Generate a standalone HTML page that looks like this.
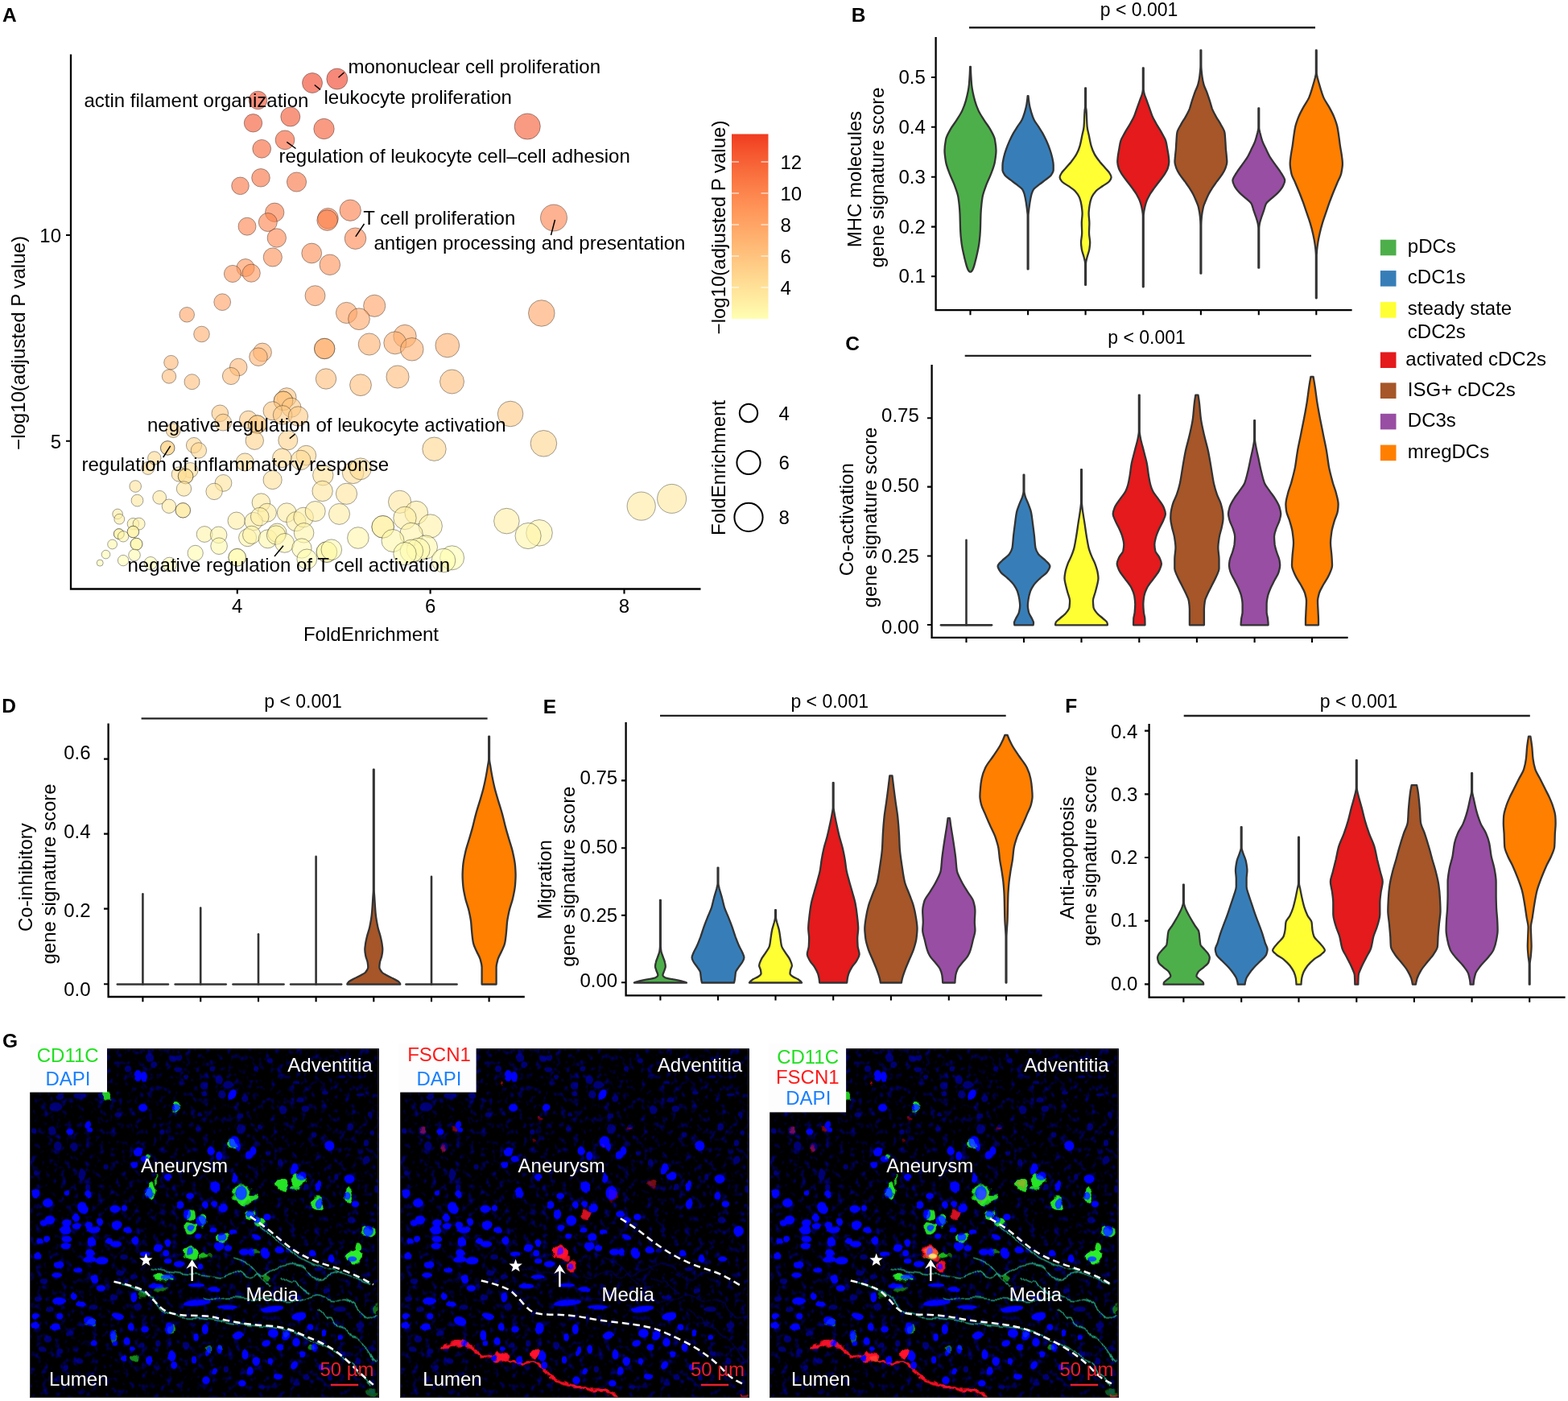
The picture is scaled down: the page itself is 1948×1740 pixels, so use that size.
<!DOCTYPE html>
<html lang="en"><head><meta charset="utf-8"><title>Figure</title>
<style>html,body{margin:0;padding:0;background:#fff}body{width:1948px;height:1740px;overflow:hidden}svg{display:block;font-family:"Liberation Sans",Arial,Helvetica,sans-serif;font-size:24px;fill:#000}</style></head><body>
<svg width="1948" height="1740" viewBox="0 0 1948 1740">
<rect width="1948" height="1740" fill="#fff"/>
<g id="panelA">
<g stroke="#1a1a1a" stroke-opacity="0.62" stroke-width="0.65" fill-opacity="0.6">
<circle cx="418.8" cy="98" r="13" fill="#f03b20"/>
<circle cx="388" cy="103" r="12.5" fill="#f03e21"/>
<circle cx="320.5" cy="124.5" r="11.3" fill="#f24826"/>
<circle cx="360.8" cy="145" r="12" fill="#f4512b"/>
<circle cx="314.5" cy="152.8" r="11.2" fill="#f4542d"/>
<circle cx="402.5" cy="160" r="12.7" fill="#f5572e"/>
<circle cx="354" cy="173.8" r="11.9" fill="#f65c31"/>
<circle cx="325.2" cy="184.8" r="11.4" fill="#f76034"/>
<circle cx="324" cy="220.8" r="11.3" fill="#f96d3c"/>
<circle cx="298.5" cy="230.8" r="10.8" fill="#fa713f"/>
<circle cx="368.5" cy="226" r="12.1" fill="#f96f3d"/>
<circle cx="341.2" cy="263.8" r="11.7" fill="#fc7c46"/>
<circle cx="332.8" cy="276" r="11.5" fill="#fc8049"/>
<circle cx="307" cy="281.2" r="11" fill="#fd814a"/>
<circle cx="407.5" cy="271.3" r="12.8" fill="#fc7e48"/>
<circle cx="406.6" cy="273.6" r="12.8" fill="#fc7f48"/>
<circle cx="435.2" cy="261.2" r="13.2" fill="#fc7b46"/>
<circle cx="441.5" cy="296.2" r="13.3" fill="#fd864e"/>
<circle cx="343.8" cy="295.5" r="11.7" fill="#fd864e"/>
<circle cx="387.2" cy="314.5" r="12.4" fill="#fe8c52"/>
<circle cx="338.8" cy="319.5" r="11.6" fill="#fe8e53"/>
<circle cx="409.8" cy="328.8" r="12.8" fill="#ff9055"/>
<circle cx="305" cy="332.5" r="11" fill="#ff9256"/>
<circle cx="312.2" cy="339.2" r="11.1" fill="#ff9458"/>
<circle cx="289" cy="340" r="10.6" fill="#ff9458"/>
<circle cx="391.5" cy="367.2" r="12.5" fill="#ff9c5f"/>
<circle cx="276.2" cy="375.2" r="10.4" fill="#ff9f60"/>
<circle cx="465.2" cy="379.8" r="13.6" fill="#ffa062"/>
<circle cx="430.5" cy="388.5" r="13.1" fill="#ffa364"/>
<circle cx="446" cy="396.2" r="13.4" fill="#ffa566"/>
<circle cx="232.2" cy="390.8" r="9.3" fill="#ffa464"/>
<circle cx="250.5" cy="415" r="9.8" fill="#ffab6a"/>
<circle cx="503" cy="417.5" r="14.2" fill="#ffac6b"/>
<circle cx="458.8" cy="427.5" r="13.6" fill="#ffaf6d"/>
<circle cx="490.8" cy="425.8" r="14" fill="#ffae6d"/>
<circle cx="511.8" cy="433.8" r="14.3" fill="#ffb16f"/>
<circle cx="555.8" cy="429" r="14.9" fill="#ffaf6d"/>
<circle cx="403.2" cy="433" r="12.7" fill="#ffb06e"/>
<circle cx="403.2" cy="433" r="12.7" fill="#ffb06e"/>
<circle cx="326" cy="437.5" r="11.4" fill="#ffb270"/>
<circle cx="321" cy="443.2" r="11.3" fill="#ffb371"/>
<circle cx="212.5" cy="450.2" r="8.8" fill="#ffb573"/>
<circle cx="296.2" cy="456" r="10.8" fill="#ffb774"/>
<circle cx="287" cy="467" r="10.6" fill="#ffba77"/>
<circle cx="210" cy="467.5" r="8.7" fill="#ffbb77"/>
<circle cx="238.5" cy="474.2" r="9.5" fill="#ffbd79"/>
<circle cx="405" cy="470.5" r="12.7" fill="#ffbc78"/>
<circle cx="448" cy="478.2" r="13.4" fill="#ffbe79"/>
<circle cx="494" cy="468" r="14.1" fill="#ffbb77"/>
<circle cx="561.5" cy="474" r="15" fill="#ffbd78"/>
<circle cx="655.2" cy="157" r="16.1" fill="#f5562e"/>
<circle cx="688" cy="270.5" r="16.5" fill="#fc7e48"/>
<circle cx="672.8" cy="389" r="16.3" fill="#ffa364"/>
<circle cx="356.2" cy="493.6" r="11.9" fill="#ffc27d"/>
<circle cx="352" cy="497.8" r="11.8" fill="#ffc47e"/>
<circle cx="352" cy="497.8" r="11.8" fill="#ffc47e"/>
<circle cx="362" cy="506.2" r="12" fill="#ffc680"/>
<circle cx="338.6" cy="510.3" r="11.6" fill="#ffc781"/>
<circle cx="351.1" cy="515.4" r="11.8" fill="#ffc983"/>
<circle cx="370.4" cy="517" r="12.2" fill="#ffc983"/>
<circle cx="273.3" cy="513.3" r="10.3" fill="#ffc882"/>
<circle cx="277.2" cy="524.6" r="10.4" fill="#ffcb85"/>
<circle cx="308.5" cy="521.2" r="11" fill="#ffca84"/>
<circle cx="319.7" cy="527.1" r="11.3" fill="#ffcc86"/>
<circle cx="319.7" cy="527.1" r="11.3" fill="#ffcc86"/>
<circle cx="215.2" cy="534.6" r="8.9" fill="#ffce87"/>
<circle cx="316.3" cy="547.2" r="11.2" fill="#ffd28b"/>
<circle cx="357.8" cy="546.8" r="12" fill="#ffd28b"/>
<circle cx="208.2" cy="556.4" r="8.7" fill="#ffd58d"/>
<circle cx="208.2" cy="556.4" r="8.7" fill="#ffd58d"/>
<circle cx="241" cy="553" r="9.6" fill="#ffd48c"/>
<circle cx="246.9" cy="559.4" r="9.7" fill="#ffd68e"/>
<circle cx="191.8" cy="568.9" r="8.2" fill="#ffd890"/>
<circle cx="304.3" cy="573.9" r="11" fill="#ffda91"/>
<circle cx="350.3" cy="568.9" r="11.8" fill="#ffd890"/>
<circle cx="380.4" cy="565.6" r="12.3" fill="#ffd88f"/>
<circle cx="373.7" cy="571.4" r="12.2" fill="#ffd991"/>
<circle cx="183.8" cy="581.5" r="7.9" fill="#ffdc93"/>
<circle cx="236.5" cy="584" r="9.5" fill="#ffdd94"/>
<circle cx="222.3" cy="589" r="9.1" fill="#ffde95"/>
<circle cx="230.6" cy="591.5" r="9.3" fill="#ffdf96"/>
<circle cx="230.6" cy="591.5" r="9.3" fill="#ffdf96"/>
<circle cx="338.6" cy="596" r="11.6" fill="#ffe097"/>
<circle cx="168.2" cy="604" r="7.3" fill="#ffe399"/>
<circle cx="228.5" cy="607" r="9.2" fill="#ffe49a"/>
<circle cx="277.5" cy="599.9" r="10.4" fill="#ffe298"/>
<circle cx="266.1" cy="610.4" r="10.2" fill="#ffe59b"/>
<circle cx="170.5" cy="621.6" r="7.4" fill="#ffe89d"/>
<circle cx="198.2" cy="617.8" r="8.4" fill="#ffe79c"/>
<circle cx="209.9" cy="628.7" r="8.7" fill="#ffea9f"/>
<circle cx="227.3" cy="633.8" r="9.2" fill="#ffeba1"/>
<circle cx="227.3" cy="633.8" r="9.2" fill="#ffeba1"/>
<circle cx="324.4" cy="624.1" r="11.3" fill="#ffe99e"/>
<circle cx="331.9" cy="636.7" r="11.5" fill="#ffeca1"/>
<circle cx="356.2" cy="636.7" r="11.9" fill="#ffeca1"/>
<circle cx="146.1" cy="638.4" r="6.3" fill="#ffeda2"/>
<circle cx="148.3" cy="644.7" r="6.4" fill="#ffefa3"/>
<circle cx="165.4" cy="650.6" r="7.2" fill="#fff0a5"/>
<circle cx="172.6" cy="650.6" r="7.5" fill="#fff0a5"/>
<circle cx="293.7" cy="646.7" r="10.7" fill="#ffefa4"/>
<circle cx="315.1" cy="647.6" r="11.2" fill="#ffefa4"/>
<circle cx="322.7" cy="641.7" r="11.3" fill="#ffeea3"/>
<circle cx="367.9" cy="647.6" r="12.1" fill="#ffefa4"/>
<circle cx="377.1" cy="642.5" r="12.3" fill="#ffeea3"/>
<circle cx="165.4" cy="660.5" r="7.2" fill="#fff3a7"/>
<circle cx="165.4" cy="660.5" r="7.2" fill="#fff3a7"/>
<circle cx="147.8" cy="663.1" r="6.4" fill="#fff4a8"/>
<circle cx="147.8" cy="663.1" r="6.4" fill="#fff4a8"/>
<circle cx="153.1" cy="666.3" r="6.7" fill="#fff5a9"/>
<circle cx="254.1" cy="663.5" r="9.9" fill="#fff4a8"/>
<circle cx="271.6" cy="664.3" r="10.3" fill="#fff4a8"/>
<circle cx="307.6" cy="667.7" r="11" fill="#fff5a9"/>
<circle cx="312.6" cy="664.3" r="11.1" fill="#fff4a8"/>
<circle cx="332.7" cy="669.3" r="11.5" fill="#fff6aa"/>
<circle cx="344.4" cy="661.8" r="11.7" fill="#fff4a8"/>
<circle cx="343" cy="664.5" r="11.7" fill="#fff4a8"/>
<circle cx="377.6" cy="661.8" r="12.3" fill="#fff4a8"/>
<circle cx="353.6" cy="674.4" r="11.9" fill="#fff7ab"/>
<circle cx="139.6" cy="676" r="5.9" fill="#fff8ab"/>
<circle cx="169.5" cy="675.7" r="7.4" fill="#fff8ab"/>
<circle cx="169.5" cy="675.7" r="7.4" fill="#fff8ab"/>
<circle cx="272.1" cy="678.2" r="10.3" fill="#fff8ac"/>
<circle cx="374.9" cy="681" r="12.2" fill="#fff9ad"/>
<circle cx="131.5" cy="688.6" r="5.3" fill="#fffbaf"/>
<circle cx="167" cy="689.4" r="7.3" fill="#fffcaf"/>
<circle cx="242.7" cy="686.9" r="9.6" fill="#fffbae"/>
<circle cx="294.7" cy="692.3" r="10.8" fill="#fffcb0"/>
<circle cx="294.7" cy="692.3" r="10.8" fill="#fffcb0"/>
<circle cx="381.3" cy="694.4" r="12.4" fill="#fffdb0"/>
<circle cx="124.2" cy="699.1" r="4" fill="#fffeb1"/>
<circle cx="153.1" cy="696.1" r="6.7" fill="#fffeb1"/>
<circle cx="187.1" cy="699.5" r="8" fill="#fffeb2"/>
<circle cx="210.5" cy="701" r="8.8" fill="#ffffb2"/>
<circle cx="634.1" cy="514" r="15.8" fill="#ffc882"/>
<circle cx="675.4" cy="550.8" r="16.3" fill="#ffd38c"/>
<circle cx="539.5" cy="557.7" r="14.7" fill="#ffd58d"/>
<circle cx="401.3" cy="590.2" r="12.7" fill="#ffdf95"/>
<circle cx="438.6" cy="587.3" r="13.3" fill="#ffde95"/>
<circle cx="447.8" cy="582.3" r="13.4" fill="#ffdc93"/>
<circle cx="400.6" cy="609.9" r="12.7" fill="#ffe49a"/>
<circle cx="430.5" cy="613.3" r="13.1" fill="#ffe59b"/>
<circle cx="496.6" cy="623.3" r="14.1" fill="#ffe89e"/>
<circle cx="391.7" cy="635" r="12.5" fill="#ffeca1"/>
<circle cx="421.5" cy="638.4" r="13" fill="#ffeda2"/>
<circle cx="517.2" cy="636.7" r="14.4" fill="#ffeca1"/>
<circle cx="503" cy="643.4" r="14.2" fill="#ffeea3"/>
<circle cx="629.4" cy="647.1" r="15.8" fill="#ffefa4"/>
<circle cx="475.7" cy="654.3" r="13.8" fill="#fff1a6"/>
<circle cx="475.7" cy="654.3" r="13.8" fill="#fff1a6"/>
<circle cx="534.8" cy="653.4" r="14.6" fill="#fff1a6"/>
<circle cx="670" cy="661.8" r="16.3" fill="#fff4a8"/>
<circle cx="656.1" cy="665.5" r="16.1" fill="#fff5a9"/>
<circle cx="511" cy="663.5" r="14.3" fill="#fff4a8"/>
<circle cx="444.9" cy="668" r="13.3" fill="#fff5a9"/>
<circle cx="488" cy="671.5" r="14" fill="#fff6aa"/>
<circle cx="529" cy="679.4" r="14.5" fill="#fff9ac"/>
<circle cx="519.7" cy="682.7" r="14.4" fill="#fffaad"/>
<circle cx="511.4" cy="684.4" r="14.3" fill="#fffaae"/>
<circle cx="503" cy="687.7" r="14.2" fill="#fffbae"/>
<circle cx="405.9" cy="685.6" r="12.8" fill="#fffaae"/>
<circle cx="405.9" cy="685.6" r="12.8" fill="#fffaae"/>
<circle cx="411.8" cy="682.7" r="12.8" fill="#fffaad"/>
<circle cx="561.6" cy="692.8" r="15" fill="#fffdb0"/>
<circle cx="551" cy="696.1" r="14.8" fill="#fffeb1"/>
<circle cx="796.7" cy="628.6" r="17.6" fill="#ffea9f"/>
<circle cx="834.6" cy="619.4" r="18" fill="#ffe79d"/>
</g>
<path d="M88 67.5V731.5H870.5" fill="none" stroke="#000" stroke-width="2.3"/>
<path d="M82 292H88M82 547.8H88M294.8 731V737.5M534.6 731V737.5M775.5 731V737.5" stroke="#000" stroke-width="2.1" fill="none"/>
<g stroke="#000" stroke-width="1.5">
<line x1="420.5" y1="96.3" x2="427.5" y2="90"/>
<line x1="390.8" y1="105.5" x2="398" y2="111.3"/>
<line x1="356.3" y1="176.3" x2="367.5" y2="184.5"/>
<line x1="441.8" y1="293.8" x2="452.5" y2="278"/>
<line x1="689.5" y1="273" x2="684.5" y2="292"/>
<line x1="359.8" y1="544.6" x2="366.5" y2="539.1"/>
<line x1="202.7" y1="568" x2="211.7" y2="553.8"/>
<line x1="352" y1="677.7" x2="341" y2="691"/>
</g>
<text x="432.5" y="91.2">mononuclear cell proliferation</text>
<text x="402.5" y="128.8">leukocyte proliferation</text>
<text x="104.5" y="132.6">actin filament organization</text>
<text x="346.5" y="201.8">regulation of leukocyte cell–cell adhesion</text>
<text x="451.3" y="279.3">T cell proliferation</text>
<text x="464.5" y="309.5">antigen processing and presentation</text>
<text x="183" y="535.5">negative regulation of leukocyte activation</text>
<text x="101.5" y="585">regulation of inflammatory response</text>
<text x="158.5" y="709.5">negative regulation of T cell activation</text>
<text x="76" y="300.5" text-anchor="end">10</text>
<text x="76" y="556.5" text-anchor="end">5</text>
<text x="294.8" y="761.3" text-anchor="middle">4</text>
<text x="534.6" y="761.3" text-anchor="middle">6</text>
<text x="775.5" y="761.3" text-anchor="middle">8</text>
<text x="461" y="796.4" text-anchor="middle">FoldEnrichment</text>
<text transform="translate(31 426) rotate(-90)" text-anchor="middle">−log10(adjusted P value)</text>
<defs><linearGradient id="cb" x1="0" y1="1" x2="0" y2="0">
<stop offset="0.0" stop-color="#ffffb2"/>
<stop offset="0.1" stop-color="#ffeda2"/>
<stop offset="0.2" stop-color="#ffdc93"/>
<stop offset="0.3" stop-color="#ffca84"/>
<stop offset="0.4" stop-color="#ffb875"/>
<stop offset="0.5" stop-color="#ffa666"/>
<stop offset="0.6" stop-color="#ff9458"/>
<stop offset="0.7" stop-color="#fc814a"/>
<stop offset="0.8" stop-color="#f96c3c"/>
<stop offset="0.9" stop-color="#f5562e"/>
<stop offset="1.0" stop-color="#f03b20"/>
</linearGradient></defs>
<rect x="909" y="166.5" width="45.5" height="229.5" fill="url(#cb)"/>
<path d="M909 201h9M945.5 201h9M909 240h9M945.5 240h9M909 279h9M945.5 279h9M909 318h9M945.5 318h9M909 357h9M945.5 357h9" stroke="#fff" stroke-width="1.1"/>
<text x="969.5" y="209.6">12</text>
<text x="969.5" y="248.6">10</text>
<text x="969.5" y="287.6">8</text>
<text x="969.5" y="326.6">6</text>
<text x="969.5" y="365.6">4</text>
<text transform="translate(901.4 282.5) rotate(-90)" text-anchor="middle">−log10(adjusted P value)</text>
<circle cx="930" cy="513" r="11.2" fill="#fff" stroke="#000" stroke-width="2"/>
<text x="967.5" y="521.6">4</text>
<circle cx="930" cy="574.5" r="14.6" fill="#fff" stroke="#000" stroke-width="2"/>
<text x="967.5" y="583.1">6</text>
<circle cx="930" cy="642.4" r="17.6" fill="#fff" stroke="#000" stroke-width="2"/>
<text x="967.5" y="651.0">8</text>
<text transform="translate(900.8 581) rotate(-90)" text-anchor="middle">FoldEnrichment</text>
<text x="3" y="27" font-weight="bold" font-size="24.5">A</text>
</g>
<g id="panelB">
<g stroke="#333" stroke-width="2.3" stroke-linejoin="round" stroke-linecap="round">
<path d="M1205.9 83C1205.9 90.4 1206.5 97.7 1207.1 105.1C1207.7 111.7 1209.3 118.4 1211.1 125.1C1212.2 129.1 1213.7 133.1 1215.5 137.1C1217.3 141.1 1220 145.1 1222.5 149.1C1225 153.1 1228.4 157.1 1230.5 161.1C1232.7 165.1 1235.2 169.1 1235.9 173.1C1236.8 177.8 1237.5 182.5 1237.5 187.1C1237.5 191.8 1236.7 196.5 1235.9 201.2C1235.1 205.8 1233.2 210.5 1231.5 215.2C1229.8 219.8 1227.2 224.5 1225.5 229.2C1223.6 234.5 1221.3 239.9 1220.5 245.2C1219.5 251.9 1218.8 258.6 1218.5 265.2C1218.2 271.9 1218.2 278.6 1217.9 285.2C1217.7 290.6 1217.2 295.9 1216.5 301.3C1216 305.9 1214.9 310.6 1213.9 315.3C1213.2 318.6 1212.4 322 1211.5 325.3C1210.8 328 1210.2 330.6 1209.1 333.3C1208.6 334.5 1208.2 335.7 1207.1 336.9C1206.9 337.2 1206.4 337.4 1205.9 337.7L1205.1 337.7C1204.6 337.4 1204.1 337.2 1203.9 336.9C1202.8 335.7 1202.4 334.5 1201.9 333.3C1200.8 330.6 1200.2 328 1199.5 325.3C1198.6 322 1197.8 318.6 1197.1 315.3C1196.1 310.6 1195 305.9 1194.5 301.3C1193.8 295.9 1193.3 290.6 1193.1 285.2C1192.8 278.6 1192.8 271.9 1192.5 265.2C1192.2 258.6 1191.5 251.9 1190.5 245.2C1189.7 239.9 1187.4 234.5 1185.5 229.2C1183.8 224.5 1181.2 219.8 1179.5 215.2C1177.8 210.5 1175.9 205.8 1175.1 201.2C1174.3 196.5 1173.5 191.8 1173.5 187.1C1173.5 182.5 1174.2 177.8 1175.1 173.1C1175.8 169.1 1178.3 165.1 1180.5 161.1C1182.6 157.1 1186 153.1 1188.5 149.1C1191 145.1 1193.7 141.1 1195.5 137.1C1197.3 133.1 1198.8 129.1 1199.9 125.1C1201.7 118.4 1203.3 111.7 1203.9 105.1C1204.5 97.7 1205.1 90.4 1205.1 83Z" fill="#4DAF4A"/>
<path d="M1277.5 119.1C1277.7 122.4 1278.2 125.7 1278.7 129.1C1279.2 132.4 1280.1 135.8 1281.1 139.1C1282.1 142.4 1283.1 145.8 1284.7 149.1C1286 151.8 1288.4 154.4 1290.1 157.1C1291.8 159.8 1293.6 162.5 1295.1 165.1C1297 168.5 1298.6 171.8 1300.1 175.1C1301.6 178.5 1303 181.8 1304.1 185.1C1305.3 188.5 1306.4 191.8 1307.1 195.2C1307.8 198.5 1308.7 201.8 1308.7 205.2C1308.7 207.2 1308.7 209.2 1308.7 211.2C1308.7 213.2 1307.4 215.2 1306.1 217.2C1304.9 219.2 1301.6 221.2 1299.1 223.2C1296.6 225.2 1293.6 227.2 1291.1 229.2C1288.6 231.2 1285.4 233.2 1284.1 235.2C1282.8 237.2 1282.1 239.2 1281.5 241.2C1280.6 244.5 1280 247.9 1279.5 251.2C1278.9 255.2 1278.3 259.2 1277.9 263.2C1277.8 264.6 1277.5 265.9 1277.5 267.2C1277.5 289.6 1277.5 311.9 1277.5 334.3L1276.7 334.3C1276.7 311.9 1276.7 289.6 1276.7 267.2C1276.7 265.9 1276.4 264.6 1276.3 263.2C1275.9 259.2 1275.3 255.2 1274.7 251.2C1274.2 247.9 1273.6 244.5 1272.7 241.2C1272.1 239.2 1271.4 237.2 1270.1 235.2C1268.8 233.2 1265.6 231.2 1263.1 229.2C1260.6 227.2 1257.6 225.2 1255.1 223.2C1252.6 221.2 1249.3 219.2 1248.1 217.2C1246.8 215.2 1245.5 213.2 1245.5 211.2C1245.5 209.2 1245.5 207.2 1245.5 205.2C1245.5 201.8 1246.4 198.5 1247.1 195.2C1247.8 191.8 1248.9 188.5 1250.1 185.1C1251.2 181.8 1252.6 178.5 1254.1 175.1C1255.6 171.8 1257.2 168.5 1259.1 165.1C1260.6 162.5 1262.4 159.8 1264.1 157.1C1265.8 154.4 1268.2 151.8 1269.5 149.1C1271.1 145.8 1272.1 142.4 1273.1 139.1C1274.1 135.8 1275 132.4 1275.5 129.1C1276 125.7 1276.5 122.4 1276.7 119.1Z" fill="#377EB8"/>
<path d="M1349 109.5C1349 117.3 1349 125.2 1349 133.1C1349 134.4 1349.5 135.8 1349.6 137.1C1350.2 143.8 1350 150.4 1350.6 157.1C1350.9 161.1 1352.2 165.1 1353 169.1C1353.8 173.1 1354.5 177.1 1355.6 181.1C1356.6 184.5 1357.9 187.8 1359.6 191.1C1361.3 194.5 1364 197.8 1366.6 201.2C1368.7 203.8 1371.3 206.5 1373.6 209.2C1375.3 211.2 1377.6 213.2 1378.6 215.2C1379.5 216.8 1380.6 218.5 1380.6 220.2C1380.6 221.8 1379.4 223.5 1378.2 225.2C1376.8 227.2 1372.4 229.2 1369.6 231.2C1366.9 233.2 1363.4 235.2 1361.6 237.2C1359.2 239.9 1357.2 242.5 1356.2 245.2C1354.9 248.5 1354.1 251.9 1353.6 255.2C1353.1 258.6 1352.6 261.9 1352.6 265.2C1352.6 269.2 1353.4 273.2 1353.4 277.2C1353.4 281.2 1353 285.2 1353 289.3C1353 293.3 1354.2 297.3 1354.2 301.3C1354.2 303.9 1353.8 306.6 1353.4 309.3C1352.9 312.6 1351.4 315.9 1350.6 319.3C1350 322 1349 324.6 1349 327.3C1349 328 1349 328.6 1349 329.3C1349 337.5 1349 345.7 1349 353.9L1348.2 353.9C1348.2 345.7 1348.2 337.5 1348.2 329.3C1348.2 328.6 1348.2 328 1348.2 327.3C1348.2 324.6 1347.2 322 1346.6 319.3C1345.8 315.9 1344.3 312.6 1343.8 309.3C1343.4 306.6 1343 303.9 1343 301.3C1343 297.3 1344.2 293.3 1344.2 289.3C1344.2 285.2 1343.8 281.2 1343.8 277.2C1343.8 273.2 1344.6 269.2 1344.6 265.2C1344.6 261.9 1344.1 258.6 1343.6 255.2C1343.1 251.9 1342.3 248.5 1341 245.2C1340 242.5 1338 239.9 1335.6 237.2C1333.8 235.2 1330.3 233.2 1327.6 231.2C1324.8 229.2 1320.4 227.2 1319 225.2C1317.8 223.5 1316.6 221.8 1316.6 220.2C1316.6 218.5 1317.7 216.8 1318.6 215.2C1319.6 213.2 1321.9 211.2 1323.6 209.2C1325.9 206.5 1328.5 203.8 1330.6 201.2C1333.2 197.8 1335.9 194.5 1337.6 191.1C1339.3 187.8 1340.6 184.5 1341.6 181.1C1342.7 177.1 1343.4 173.1 1344.2 169.1C1345 165.1 1346.3 161.1 1346.6 157.1C1347.2 150.4 1347 143.8 1347.6 137.1C1347.7 135.8 1348.2 134.4 1348.2 133.1C1348.2 125.2 1348.2 117.3 1348.2 109.5Z" fill="#FFFF33"/>
<path d="M1420.7 84.4C1420.7 93.3 1420.7 102.2 1420.7 111.1C1420.7 112.4 1421.1 113.7 1421.3 115.1C1421.9 118.4 1423.5 121.7 1424.7 125.1C1425.9 128.4 1427.1 131.8 1428.3 135.1C1429.5 138.4 1430.5 141.8 1431.9 145.1C1433.4 148.4 1435.4 151.8 1437.3 155.1C1439.2 158.4 1441.5 161.8 1443.3 165.1C1445.1 168.5 1447.4 171.8 1448.3 175.1C1449.3 178.5 1449.7 181.8 1450.3 185.1C1450.9 188.5 1451.6 191.8 1451.9 195.2C1452.1 197.2 1452.3 199.2 1452.3 201.2C1452.3 203.8 1451.5 206.5 1450.7 209.2C1449.9 211.8 1448 214.5 1446.3 217.2C1444.6 219.8 1442.3 222.5 1440.3 225.2C1438.3 227.9 1436.2 230.5 1434.3 233.2C1432.4 235.9 1430.3 238.5 1428.7 241.2C1427.2 243.9 1425.7 246.5 1424.7 249.2C1423.7 251.9 1422.9 254.5 1422.3 257.2C1421.7 259.9 1421.1 262.6 1420.9 265.2C1420.8 266.2 1420.7 267.2 1420.7 268.2C1420.7 297.6 1420.7 327 1420.7 356.3L1419.9 356.3C1419.9 327 1419.9 297.6 1419.9 268.2C1419.9 267.2 1419.8 266.2 1419.7 265.2C1419.5 262.6 1418.9 259.9 1418.3 257.2C1417.7 254.5 1416.9 251.9 1415.9 249.2C1414.9 246.5 1413.4 243.9 1411.9 241.2C1410.3 238.5 1408.2 235.9 1406.3 233.2C1404.4 230.5 1402.3 227.9 1400.3 225.2C1398.3 222.5 1396 219.8 1394.3 217.2C1392.6 214.5 1390.7 211.8 1389.9 209.2C1389.1 206.5 1388.3 203.8 1388.3 201.2C1388.3 199.2 1388.5 197.2 1388.7 195.2C1389 191.8 1389.7 188.5 1390.3 185.1C1390.9 181.8 1391.3 178.5 1392.3 175.1C1393.2 171.8 1395.5 168.5 1397.3 165.1C1399.1 161.8 1401.4 158.4 1403.3 155.1C1405.2 151.8 1407.2 148.4 1408.7 145.1C1410.1 141.8 1411.1 138.4 1412.3 135.1C1413.5 131.8 1414.7 128.4 1415.9 125.1C1417.1 121.7 1418.7 118.4 1419.3 115.1C1419.5 113.7 1419.9 112.4 1419.9 111.1C1419.9 102.2 1419.9 93.3 1419.9 84.4Z" fill="#E41A1C"/>
<path d="M1492.3 62.4C1492.3 68.6 1492.3 74.8 1492.3 81C1492.3 85.7 1492.9 90.4 1493.5 95.1C1493.9 98.4 1494.6 101.7 1495.5 105.1C1496.4 108.4 1498.3 111.7 1499.5 115.1C1500.7 118.4 1501.8 121.7 1502.9 125.1C1504 128.4 1504.7 131.8 1505.9 135.1C1507.2 138.4 1509.1 141.8 1510.9 145.1C1512.7 148.4 1515.2 151.8 1516.9 155.1C1518.7 158.4 1521.1 161.8 1521.5 165.1C1522 168.5 1522.1 171.8 1522.3 175.1C1522.6 178.5 1522.7 181.8 1522.9 185.1C1523.2 188.5 1523.7 191.8 1523.9 195.2C1524.1 197.2 1524.3 199.2 1524.3 201.2C1524.3 203.8 1523.2 206.5 1522.3 209.2C1521.4 211.8 1519.6 214.5 1517.9 217.2C1516.2 219.8 1513.9 222.5 1511.9 225.2C1510 227.9 1508 230.5 1506.3 233.2C1504.6 235.9 1502.9 238.5 1501.5 241.2C1500.1 243.9 1499 246.5 1497.9 249.2C1496.8 251.9 1495.5 254.5 1494.9 257.2C1494 261.2 1493.2 265.2 1492.9 269.2C1492.6 272.6 1492.3 275.9 1492.3 279.2C1492.3 299.4 1492.3 319.5 1492.3 339.7L1491.5 339.7C1491.5 319.5 1491.5 299.4 1491.5 279.2C1491.5 275.9 1491.2 272.6 1490.9 269.2C1490.6 265.2 1489.8 261.2 1488.9 257.2C1488.3 254.5 1487 251.9 1485.9 249.2C1484.8 246.5 1483.7 243.9 1482.3 241.2C1480.9 238.5 1479.2 235.9 1477.5 233.2C1475.8 230.5 1473.8 227.9 1471.9 225.2C1469.9 222.5 1467.6 219.8 1465.9 217.2C1464.2 214.5 1462.4 211.8 1461.5 209.2C1460.6 206.5 1459.5 203.8 1459.5 201.2C1459.5 199.2 1459.7 197.2 1459.9 195.2C1460.1 191.8 1460.6 188.5 1460.9 185.1C1461.1 181.8 1461.2 178.5 1461.5 175.1C1461.7 171.8 1461.8 168.5 1462.3 165.1C1462.7 161.8 1465.1 158.4 1466.9 155.1C1468.6 151.8 1471.1 148.4 1472.9 145.1C1474.7 141.8 1476.6 138.4 1477.9 135.1C1479.1 131.8 1479.8 128.4 1480.9 125.1C1482 121.7 1483.1 118.4 1484.3 115.1C1485.5 111.7 1487.4 108.4 1488.3 105.1C1489.2 101.7 1489.9 98.4 1490.3 95.1C1490.9 90.4 1491.5 85.7 1491.5 81C1491.5 74.8 1491.5 68.6 1491.5 62.4Z" fill="#A65628"/>
<path d="M1564.2 134.5C1564.2 142.7 1564.2 150.9 1564.2 159.1C1564.2 161.1 1565 163.1 1565.4 165.1C1566.2 168.5 1567 171.8 1568.2 175.1C1569.4 178.5 1571.2 181.8 1572.8 185.1C1574.4 188.5 1575.9 191.8 1577.8 195.2C1579.8 198.5 1582.5 201.8 1584.8 205.2C1587.2 208.5 1589.9 211.8 1591.8 215.2C1593.6 218.2 1596.2 221.2 1596.2 224.2C1596.2 226.5 1594.9 228.9 1593.8 231.2C1592.6 233.9 1590.2 236.5 1587.8 239.2C1585.4 241.9 1581.6 244.5 1578.8 247.2C1576.7 249.2 1573.8 251.2 1572.8 253.2C1571.5 255.9 1571.1 258.6 1570.2 261.2C1569.3 263.9 1568.3 266.6 1567.4 269.2C1566.5 271.9 1565.5 274.6 1565 277.2C1564.7 279.2 1564.2 281.2 1564.2 283.2C1564.2 299.7 1564.2 316.2 1564.2 332.7L1563.4 332.7C1563.4 316.2 1563.4 299.7 1563.4 283.2C1563.4 281.2 1562.9 279.2 1562.6 277.2C1562.1 274.6 1561.1 271.9 1560.2 269.2C1559.3 266.6 1558.3 263.9 1557.4 261.2C1556.5 258.6 1556.1 255.9 1554.8 253.2C1553.8 251.2 1550.9 249.2 1548.8 247.2C1546 244.5 1542.2 241.9 1539.8 239.2C1537.4 236.5 1535 233.9 1533.8 231.2C1532.7 228.9 1531.4 226.5 1531.4 224.2C1531.4 221.2 1534 218.2 1535.8 215.2C1537.7 211.8 1540.4 208.5 1542.8 205.2C1545.1 201.8 1547.8 198.5 1549.8 195.2C1551.7 191.8 1553.2 188.5 1554.8 185.1C1556.4 181.8 1558.2 178.5 1559.4 175.1C1560.6 171.8 1561.4 168.5 1562.2 165.1C1562.6 163.1 1563.4 161.1 1563.4 159.1C1563.4 150.9 1563.4 142.7 1563.4 134.5Z" fill="#984EA3"/>
<path d="M1635.7 62.4C1635.7 72 1635.7 81.5 1635.7 91C1635.7 93 1636.5 95.1 1636.9 97.1C1637.8 101.1 1639.1 105.1 1640.3 109.1C1641.5 113.1 1642.6 117.1 1644.3 121.1C1646 125.1 1649.2 129.1 1651.3 133.1C1653.5 137.1 1655.7 141.1 1657.3 145.1C1658.9 149.1 1660.4 153.1 1661.3 157.1C1662.2 161.1 1662.7 165.1 1663.3 169.1C1663.9 173.1 1664.3 177.1 1664.9 181.1C1665.5 185.1 1666.4 189.1 1666.9 193.2C1667.3 196.5 1667.9 199.8 1667.9 203.2C1667.9 207.2 1667.1 211.2 1666.3 215.2C1665.5 219.2 1663 223.2 1661.3 227.2C1659.7 231.2 1657.9 235.2 1656.3 239.2C1654.7 243.2 1653.2 247.2 1651.7 251.2C1650 255.9 1648.5 260.6 1646.9 265.2C1645.6 269.2 1644.1 273.2 1642.9 277.2C1641.7 281.2 1640.6 285.2 1639.7 289.3C1638.8 293.3 1637.9 297.3 1637.3 301.3C1636.7 305.3 1636.1 309.3 1635.9 313.3C1635.8 314.6 1635.7 315.9 1635.7 317.3C1635.7 335 1635.7 352.6 1635.7 370.3L1634.9 370.3C1634.9 352.6 1634.9 335 1634.9 317.3C1634.9 315.9 1634.8 314.6 1634.7 313.3C1634.5 309.3 1633.9 305.3 1633.3 301.3C1632.7 297.3 1631.8 293.3 1630.9 289.3C1630 285.2 1628.9 281.2 1627.7 277.2C1626.5 273.2 1625 269.2 1623.7 265.2C1622.1 260.6 1620.6 255.9 1618.9 251.2C1617.4 247.2 1615.9 243.2 1614.3 239.2C1612.7 235.2 1610.9 231.2 1609.3 227.2C1607.6 223.2 1605.1 219.2 1604.3 215.2C1603.5 211.2 1602.7 207.2 1602.7 203.2C1602.7 199.8 1603.3 196.5 1603.7 193.2C1604.2 189.1 1605.1 185.1 1605.7 181.1C1606.3 177.1 1606.7 173.1 1607.3 169.1C1607.9 165.1 1608.4 161.1 1609.3 157.1C1610.2 153.1 1611.7 149.1 1613.3 145.1C1614.9 141.1 1617.1 137.1 1619.3 133.1C1621.4 129.1 1624.6 125.1 1626.3 121.1C1628 117.1 1629.1 113.1 1630.3 109.1C1631.5 105.1 1632.8 101.1 1633.7 97.1C1634.1 95.1 1634.9 93 1634.9 91C1634.9 81.5 1634.9 72 1634.9 62.4Z" fill="#FF7F00"/>
</g>
<path d="M1162.6 46V385.1H1679.6" fill="none" stroke="#000" stroke-width="2.3"/>
<path d="M1157.0 96H1162.6M1157.0 157.8H1162.6M1157.0 219.7H1162.6M1157.0 281.6H1162.6M1157.0 343.2H1162.6M1205.5 385.1V391.3M1277.1 385.1V391.3M1348.6 385.1V391.3M1420.3 385.1V391.3M1491.9 385.1V391.3M1563.8 385.1V391.3M1635.3 385.1V391.3" stroke="#000" stroke-width="2.1" fill="none"/>
<text x="1149.9" y="104" text-anchor="end">0.5</text>
<text x="1149.9" y="165.8" text-anchor="end">0.4</text>
<text x="1149.9" y="227.7" text-anchor="end">0.3</text>
<text x="1149.9" y="289.5" text-anchor="end">0.2</text>
<text x="1149.9" y="351.2" text-anchor="end">0.1</text>
<path d="M1204 34.3H1634" stroke="#222" stroke-width="2.4" fill="none"/>
<text x="1415.0" y="20.1" text-anchor="middle" font-size="23">p &lt; 0.001</text>
<text x="1057.8" y="27.2" font-weight="bold" font-size="24.5">B</text>
<text transform="translate(1069.6 222.6) rotate(-90)" text-anchor="middle">MHC molecules</text>
<text transform="translate(1098 220.4) rotate(-90)" text-anchor="middle">gene signature score</text>
</g>
<g id="panelC">
<g stroke="#333" stroke-width="2.3" stroke-linejoin="round" stroke-linecap="round">
<path d="M1169 776.3H1232" fill="none" stroke-width="2.7"/><path d="M1200.5 776.3V670.8" fill="none" stroke-width="2.6"/>
<path d="M1272.4 589.7C1272.4 596.6 1272.4 603.4 1272.4 610.2C1272.4 612.2 1273.1 614.2 1273.6 616.2C1274.4 619.5 1276.4 622.8 1277.6 626.2C1278.8 629.5 1280.3 632.9 1281 636.2C1282 640.9 1282.4 645.5 1283 650.2C1283.7 655.5 1284.4 660.9 1285 666.2C1285.5 670.9 1285.6 675.6 1286.4 680.2C1286.9 682.9 1288.3 685.6 1290 688.2C1291.7 690.9 1296.6 693.6 1299 696.3C1301.2 698.6 1304.4 700.9 1304.4 703.3C1304.4 705.6 1302.6 707.9 1301 710.3C1299.2 712.9 1294.8 715.6 1292 718.3C1289.3 720.9 1286.3 723.6 1284.4 726.3C1282.6 729 1280.9 731.6 1280 734.3C1278.9 737.6 1278.1 741 1277.6 744.3C1277.2 747 1276.8 749.6 1276.8 752.3C1276.8 755 1277.4 757.6 1278 760.3C1278.6 763 1280.8 765.7 1282 768.3C1282.7 770 1284 771.7 1284 773.3C1284 774.3 1283.9 775.3 1283.6 776.3L1260.4 776.3C1260.1 775.3 1260 774.3 1260 773.3C1260 771.7 1261.3 770 1262 768.3C1263.2 765.7 1265.4 763 1266 760.3C1266.6 757.6 1267.2 755 1267.2 752.3C1267.2 749.6 1266.8 747 1266.4 744.3C1265.9 741 1265.1 737.6 1264 734.3C1263.1 731.6 1261.4 729 1259.6 726.3C1257.7 723.6 1254.7 720.9 1252 718.3C1249.2 715.6 1244.8 712.9 1243 710.3C1241.4 707.9 1239.6 705.6 1239.6 703.3C1239.6 700.9 1242.8 698.6 1245 696.3C1247.4 693.6 1252.3 690.9 1254 688.2C1255.7 685.6 1257.1 682.9 1257.6 680.2C1258.4 675.6 1258.5 670.9 1259 666.2C1259.6 660.9 1260.3 655.5 1261 650.2C1261.6 645.5 1262 640.9 1263 636.2C1263.7 632.9 1265.2 629.5 1266.4 626.2C1267.6 622.8 1269.6 619.5 1270.4 616.2C1270.9 614.2 1271.6 612.2 1271.6 610.2C1271.6 603.4 1271.6 596.6 1271.6 589.7Z" fill="#377EB8"/>
<path d="M1343.9 583.1C1343.9 596.8 1343.9 610.5 1343.9 624.2C1343.9 626.2 1344.3 628.2 1344.5 630.2C1345.2 636.9 1346.5 643.5 1347.5 650.2C1348.3 655.5 1349 660.9 1349.9 666.2C1350.7 670.9 1351.4 675.6 1352.5 680.2C1353.3 683.6 1354.6 686.9 1355.9 690.2C1357.2 693.6 1359.3 696.9 1360.5 700.3C1361.7 703.6 1362.9 706.9 1363.5 710.3C1364 712.9 1364.5 715.6 1364.5 718.3C1364.5 720.9 1363.7 723.6 1363.1 726.3C1362.4 729.6 1361.4 733 1360.5 736.3C1359.6 739.6 1357.9 743 1357.9 746.3C1357.9 749 1358.2 751.6 1358.5 754.3C1358.9 757 1361.3 759.7 1363.5 762.3C1365.2 764.3 1368.4 766.3 1370.5 768.3C1372.3 770 1375.2 771.7 1375.5 773.3C1375.8 774.3 1375.9 775.3 1375.9 776.3L1311.1 776.3C1311.1 775.3 1311.2 774.3 1311.5 773.3C1311.8 771.7 1314.7 770 1316.5 768.3C1318.6 766.3 1321.8 764.3 1323.5 762.3C1325.7 759.7 1328.1 757 1328.5 754.3C1328.8 751.6 1329.1 749 1329.1 746.3C1329.1 743 1327.4 739.6 1326.5 736.3C1325.6 733 1324.6 729.6 1323.9 726.3C1323.3 723.6 1322.5 720.9 1322.5 718.3C1322.5 715.6 1323 712.9 1323.5 710.3C1324.1 706.9 1325.3 703.6 1326.5 700.3C1327.7 696.9 1329.8 693.6 1331.1 690.2C1332.4 686.9 1333.7 683.6 1334.5 680.2C1335.6 675.6 1336.3 670.9 1337.1 666.2C1338 660.9 1338.7 655.5 1339.5 650.2C1340.5 643.5 1341.8 636.9 1342.5 630.2C1342.7 628.2 1343.1 626.2 1343.1 624.2C1343.1 610.5 1343.1 596.8 1343.1 583.1Z" fill="#FFFF33"/>
<path d="M1415.7 490.6C1415.7 505.8 1415.7 520.9 1415.7 536.1C1415.7 538.8 1416.4 541.4 1416.9 544.1C1417.9 549.4 1419.6 554.8 1420.9 560.1C1422.2 565.5 1423.9 570.8 1424.9 576.1C1425.8 580.8 1426.1 585.5 1426.9 590.1C1427.6 594.1 1428.2 598.2 1429.3 602.2C1430 604.8 1431 607.5 1432.3 610.2C1433.9 613.5 1437.1 616.8 1439.3 620.2C1441.6 623.5 1444.5 626.8 1445.7 630.2C1446.7 632.9 1447.9 635.5 1447.9 638.2C1447.9 640.9 1446.4 643.5 1445.3 646.2C1444 649.5 1441.8 652.9 1440.3 656.2C1438.8 659.5 1437.2 662.9 1436.3 666.2C1435.4 669.6 1434.3 672.9 1434.3 676.2C1434.3 678.9 1434.8 681.6 1435.3 684.2C1435.9 686.9 1439.2 689.6 1440.3 692.2C1441.5 694.9 1442.9 697.6 1442.9 700.3C1442.9 702.9 1441.5 705.6 1440.3 708.3C1438.9 711.6 1435.7 714.9 1433.3 718.3C1430.5 722.3 1426.8 726.3 1424.9 730.3C1423.3 733.6 1421.8 737 1421.3 740.3C1420.8 743.6 1420.3 747 1420.3 750.3C1420.3 753.6 1420.6 757 1420.9 760.3C1421.1 763 1422.2 765.7 1422.3 768.3C1422.4 771 1422.5 773.7 1422.5 776.3L1408.1 776.3C1408.1 773.7 1408.2 771 1408.3 768.3C1408.4 765.7 1409.5 763 1409.7 760.3C1410 757 1410.3 753.6 1410.3 750.3C1410.3 747 1409.8 743.6 1409.3 740.3C1408.8 737 1407.3 733.6 1405.7 730.3C1403.8 726.3 1400.1 722.3 1397.3 718.3C1394.9 714.9 1391.7 711.6 1390.3 708.3C1389.1 705.6 1387.7 702.9 1387.7 700.3C1387.7 697.6 1389.1 694.9 1390.3 692.2C1391.4 689.6 1394.7 686.9 1395.3 684.2C1395.8 681.6 1396.3 678.9 1396.3 676.2C1396.3 672.9 1395.2 669.6 1394.3 666.2C1393.4 662.9 1391.8 659.5 1390.3 656.2C1388.8 652.9 1386.6 649.5 1385.3 646.2C1384.2 643.5 1382.7 640.9 1382.7 638.2C1382.7 635.5 1383.9 632.9 1384.9 630.2C1386.1 626.8 1389 623.5 1391.3 620.2C1393.5 616.8 1396.7 613.5 1398.3 610.2C1399.6 607.5 1400.6 604.8 1401.3 602.2C1402.4 598.2 1403 594.1 1403.7 590.1C1404.5 585.5 1404.8 580.8 1405.7 576.1C1406.7 570.8 1408.4 565.5 1409.7 560.1C1411 554.8 1412.7 549.4 1413.7 544.1C1414.2 541.4 1414.9 538.8 1414.9 536.1C1414.9 520.9 1414.9 505.8 1414.9 490.6Z" fill="#E41A1C"/>
<path d="M1488.5 490.6C1489 493.8 1489.5 496.9 1489.9 500.1C1490.7 506.7 1491 513.4 1491.9 520.1C1492.8 526.7 1494.4 533.4 1495.9 540.1C1497.4 546.8 1499.5 553.4 1500.9 560.1C1502.3 566.8 1503.4 573.5 1504.5 580.1C1505.7 586.8 1506.5 593.5 1507.9 600.2C1508.9 604.8 1510.3 609.5 1511.9 614.2C1513.3 618.2 1515.8 622.2 1516.9 626.2C1518 630.2 1519.1 634.2 1519.3 638.2C1519.4 640.2 1519.5 642.2 1519.5 644.2C1519.5 647.5 1518.6 650.9 1517.9 654.2C1517.2 658.2 1515.6 662.2 1514.9 666.2C1514.2 670.9 1513.3 675.6 1513.3 680.2C1513.3 684.9 1514.5 689.6 1514.5 694.3C1514.5 698.3 1514.5 702.3 1514.5 706.3C1514.5 709.6 1512.3 712.9 1510.9 716.3C1509.5 719.6 1507.6 722.9 1505.9 726.3C1504.3 729.6 1502.4 733 1500.9 736.3C1499.4 739.6 1497.4 743 1496.9 746.3C1496.4 749.6 1495.9 753 1495.9 756.3C1495.9 763 1495.9 769.7 1495.9 776.3L1477.9 776.3C1477.9 769.7 1477.9 763 1477.9 756.3C1477.9 753 1477.4 749.6 1476.9 746.3C1476.4 743 1474.4 739.6 1472.9 736.3C1471.4 733 1469.5 729.6 1467.9 726.3C1466.2 722.9 1464.3 719.6 1462.9 716.3C1461.5 712.9 1459.3 709.6 1459.3 706.3C1459.3 702.3 1459.3 698.3 1459.3 694.3C1459.3 689.6 1460.5 684.9 1460.5 680.2C1460.5 675.6 1459.6 670.9 1458.9 666.2C1458.2 662.2 1456.6 658.2 1455.9 654.2C1455.2 650.9 1454.3 647.5 1454.3 644.2C1454.3 642.2 1454.4 640.2 1454.5 638.2C1454.7 634.2 1455.8 630.2 1456.9 626.2C1458 622.2 1460.5 618.2 1461.9 614.2C1463.5 609.5 1464.9 604.8 1465.9 600.2C1467.3 593.5 1468.1 586.8 1469.3 580.1C1470.4 573.5 1471.5 566.8 1472.9 560.1C1474.3 553.4 1476.4 546.8 1477.9 540.1C1479.4 533.4 1481 526.7 1481.9 520.1C1482.8 513.4 1483.1 506.7 1483.9 500.1C1484.3 496.9 1484.8 493.8 1485.3 490.6Z" fill="#A65628"/>
<path d="M1559 522.1C1559 530.1 1559 538.1 1559 546.1C1559 548.8 1559.8 551.4 1560.2 554.1C1561.1 559.4 1562.5 564.8 1563.6 570.1C1564.7 575.5 1565.7 580.8 1567 586.1C1568.2 590.8 1569.1 595.5 1571 600.2C1572.4 603.5 1575.4 606.8 1577.6 610.2C1579.9 613.5 1582.7 616.8 1584.6 620.2C1586.6 623.5 1588.7 626.8 1589.6 630.2C1590.4 632.9 1591.2 635.5 1591.2 638.2C1591.2 640.9 1590.3 643.5 1589.6 646.2C1588.8 649.5 1586.7 652.9 1585.6 656.2C1584.6 659.5 1583 662.9 1583 666.2C1583 669.6 1583.3 672.9 1583.6 676.2C1584 679.6 1585.2 682.9 1586.2 686.2C1587.2 689.6 1589.1 692.9 1589.6 696.3C1589.9 698.3 1590.2 700.3 1590.2 702.3C1590.2 704.9 1589.4 707.6 1588.6 710.3C1587.7 713.6 1585.3 716.9 1583.6 720.3C1582 723.6 1580 727 1578.6 730.3C1577.2 733.6 1575.7 737 1575 740.3C1574.3 743.6 1573.6 747 1573.6 750.3C1573.6 753.6 1573.6 757 1573.6 760.3C1573.6 763 1574.7 765.7 1575 768.3C1575.3 771 1575.6 773.7 1575.6 776.3L1541.6 776.3C1541.6 773.7 1541.9 771 1542.2 768.3C1542.5 765.7 1543.6 763 1543.6 760.3C1543.6 757 1543.6 753.6 1543.6 750.3C1543.6 747 1542.9 743.6 1542.2 740.3C1541.5 737 1540 733.6 1538.6 730.3C1537.2 727 1535.2 723.6 1533.6 720.3C1531.9 716.9 1529.5 713.6 1528.6 710.3C1527.8 707.6 1527 704.9 1527 702.3C1527 700.3 1527.3 698.3 1527.6 696.3C1528.1 692.9 1530 689.6 1531 686.2C1532 682.9 1533.2 679.6 1533.6 676.2C1533.9 672.9 1534.2 669.6 1534.2 666.2C1534.2 662.9 1532.6 659.5 1531.6 656.2C1530.5 652.9 1528.4 649.5 1527.6 646.2C1526.9 643.5 1526 640.9 1526 638.2C1526 635.5 1526.8 632.9 1527.6 630.2C1528.5 626.8 1530.6 623.5 1532.6 620.2C1534.5 616.8 1537.3 613.5 1539.6 610.2C1541.8 606.8 1544.8 603.5 1546.2 600.2C1548.1 595.5 1549 590.8 1550.2 586.1C1551.5 580.8 1552.5 575.5 1553.6 570.1C1554.7 564.8 1556.1 559.4 1557 554.1C1557.4 551.4 1558.2 548.8 1558.2 546.1C1558.2 538.1 1558.2 530.1 1558.2 522.1Z" fill="#984EA3"/>
<path d="M1631.6 468C1632.3 472 1633 476 1633.6 480C1634.6 486.7 1635.4 493.4 1636.4 500.1C1637.5 506.7 1638.7 513.4 1640 520.1C1641.3 526.7 1642.7 533.4 1644 540.1C1645.3 546.8 1646.9 553.4 1648 560.1C1649.2 566.8 1649.8 573.5 1651 580.1C1652.3 586.8 1654.2 593.5 1656 600.2C1657.3 604.8 1659.4 609.5 1660.4 614.2C1661.4 618.2 1662.6 622.2 1662.6 626.2C1662.6 628.9 1662.3 631.5 1662 634.2C1661.6 638.2 1659.2 642.2 1658 646.2C1656.7 650.9 1655.1 655.5 1654.4 660.2C1653.8 664.9 1653 669.6 1653 674.2C1653 679.6 1654.1 684.9 1654.4 690.2C1654.7 694.3 1655 698.3 1655 702.3C1655 706.3 1652.7 710.3 1651 714.3C1649.3 718.3 1646.2 722.3 1644 726.3C1642.2 729.6 1640 733 1639 736.3C1638.1 739.6 1637 743 1637 746.3C1637 751 1637.4 755.6 1637.6 760.3C1637.7 763.7 1638 767 1638 770.3C1638 772.3 1638 774.3 1638 776.3L1622 776.3C1622 774.3 1622 772.3 1622 770.3C1622 767 1622.3 763.7 1622.4 760.3C1622.6 755.6 1623 751 1623 746.3C1623 743 1621.9 739.6 1621 736.3C1620 733 1617.8 729.6 1616 726.3C1613.8 722.3 1610.7 718.3 1609 714.3C1607.3 710.3 1605 706.3 1605 702.3C1605 698.3 1605.3 694.3 1605.6 690.2C1605.9 684.9 1607 679.6 1607 674.2C1607 669.6 1606.2 664.9 1605.6 660.2C1604.9 655.5 1603.3 650.9 1602 646.2C1600.8 642.2 1598.4 638.2 1598 634.2C1597.7 631.5 1597.4 628.9 1597.4 626.2C1597.4 622.2 1598.6 618.2 1599.6 614.2C1600.6 609.5 1602.7 604.8 1604 600.2C1605.8 593.5 1607.7 586.8 1609 580.1C1610.2 573.5 1610.8 566.8 1612 560.1C1613.1 553.4 1614.7 546.8 1616 540.1C1617.3 533.4 1618.7 526.7 1620 520.1C1621.3 513.4 1622.5 506.7 1623.6 500.1C1624.6 493.4 1625.4 486.7 1626.4 480C1627 476 1627.7 472 1628.4 468Z" fill="#FF7F00"/>
</g>
<path d="M1157.6 453V791.8H1674.6" fill="none" stroke="#000" stroke-width="2.3"/>
<path d="M1152.0 519.2H1157.6M1152.0 604.6H1157.6M1152.0 690.5H1157.6M1152.0 776H1157.6M1200.5 791.8V798M1272 791.8V798M1343.5 791.8V798M1415.3 791.8V798M1486.9 791.8V798M1558.6 791.8V798M1630 791.8V798" stroke="#000" stroke-width="2.1" fill="none"/>
<text x="1141.8" y="523.5" text-anchor="end">0.75</text>
<text x="1141.8" y="611.4" text-anchor="end">0.50</text>
<text x="1141.8" y="699.3" text-anchor="end">0.25</text>
<text x="1141.8" y="787.2" text-anchor="end">0.00</text>
<path d="M1198.7 441.9H1629" stroke="#222" stroke-width="2.4" fill="none"/>
<text x="1424.5" y="427.2" text-anchor="middle" font-size="23">p &lt; 0.001</text>
<text x="1050.3" y="435" font-weight="bold" font-size="24.5">C</text>
<text transform="translate(1060 645.2) rotate(-90)" text-anchor="middle">Co-activation</text>
<text transform="translate(1088.6 642.6) rotate(-90)" text-anchor="middle">gene signature score</text>
</g>
<g id="panelD">
<g stroke="#333" stroke-width="2.3" stroke-linejoin="round" stroke-linecap="round">
<path d="M145.9 1222.5H208.9" fill="none" stroke-width="2.7"/><path d="M177.4 1222.5V1110.2" fill="none" stroke-width="2.6"/>
<path d="M217.7 1222.5H280.7" fill="none" stroke-width="2.7"/><path d="M249.2 1222.5V1127.6" fill="none" stroke-width="2.6"/>
<path d="M289.5 1222.5H352.5" fill="none" stroke-width="2.7"/><path d="M321 1222.5V1160.3" fill="none" stroke-width="2.6"/>
<path d="M361.1 1222.5H424.1" fill="none" stroke-width="2.7"/><path d="M392.6 1222.5V1063.8" fill="none" stroke-width="2.6"/>
<path d="M464.7 955.7C464.7 1005.5 464.7 1055.4 464.7 1105.2C464.7 1108.6 465.1 1111.9 465.3 1115.2C465.7 1121.9 466 1128.6 466.7 1135.2C467.2 1140.6 468.2 1145.9 469.3 1151.3C470.1 1155.3 471.8 1159.3 472.7 1163.3C473.5 1166.6 474.3 1169.9 474.7 1173.3C475 1175.3 475.3 1177.3 475.3 1179.3C475.3 1182 474.8 1184.6 474.3 1187.3C473.8 1190 472.3 1192.6 471.9 1195.3C471.6 1197.3 471.3 1199.3 471.3 1201.3C471.3 1203.3 472.8 1205.3 474.3 1207.3C475.3 1208.7 478 1210 480.3 1211.3C482.6 1212.7 485.8 1214 488.3 1215.3C490.8 1216.7 494.1 1218 495.3 1219.3C496.3 1220.4 497.2 1221.5 497.3 1222.5L431.3 1222.5C431.4 1221.5 432.3 1220.4 433.3 1219.3C434.5 1218 437.8 1216.7 440.3 1215.3C442.8 1214 446 1212.7 448.3 1211.3C450.6 1210 453.3 1208.7 454.3 1207.3C455.8 1205.3 457.3 1203.3 457.3 1201.3C457.3 1199.3 457 1197.3 456.7 1195.3C456.3 1192.6 454.8 1190 454.3 1187.3C453.8 1184.6 453.3 1182 453.3 1179.3C453.3 1177.3 453.6 1175.3 453.9 1173.3C454.3 1169.9 455.1 1166.6 455.9 1163.3C456.8 1159.3 458.5 1155.3 459.3 1151.3C460.4 1145.9 461.4 1140.6 461.9 1135.2C462.6 1128.6 462.9 1121.9 463.3 1115.2C463.5 1111.9 463.9 1108.6 463.9 1105.2C463.9 1055.4 463.9 1005.5 463.9 955.7Z" fill="#A65628"/>
<path d="M504.5 1222.5H567.5" fill="none" stroke-width="2.7"/><path d="M536 1222.5V1088.8" fill="none" stroke-width="2.6"/>
<path d="M608 914.6C608 924.1 608 933.6 608 943C608 945.7 608.8 948.4 609.2 951.1C609.9 955.7 610.7 960.4 611.6 965.1C612.5 969.7 613.5 974.4 614.6 979.1C615.9 984.4 617.6 989.8 619.2 995.1C620.8 1000.4 622.6 1005.8 624 1011.1C625.5 1016.5 626.6 1021.8 628 1027.1C629.4 1032.5 631.1 1037.8 632.6 1043.2C634.2 1048.5 636.1 1053.8 637.2 1059.2C638.4 1064.5 639.6 1069.8 640 1075.2C640.3 1079.2 640.6 1083.2 640.6 1087.2C640.6 1091.2 640.3 1095.2 640 1099.2C639.6 1104.5 638.4 1109.9 637.2 1115.2C636.1 1120.6 633.8 1125.9 632.6 1131.2C631.6 1135.9 630.5 1140.6 630 1145.3C629.7 1148.6 629.5 1151.9 629.2 1155.3C628.7 1160.6 628.3 1165.9 627.2 1171.3C626.6 1174.6 624.6 1178 623.2 1181.3C621.8 1184.6 619.5 1188 618.6 1191.3C617.7 1194.6 616.6 1198 616.6 1201.3C616.6 1208.4 616.6 1215.5 616.6 1222.5L598.6 1222.5C598.6 1215.5 598.6 1208.4 598.6 1201.3C598.6 1198 597.5 1194.6 596.6 1191.3C595.7 1188 593.4 1184.6 592 1181.3C590.6 1178 588.6 1174.6 588 1171.3C586.9 1165.9 586.5 1160.6 586 1155.3C585.7 1151.9 585.5 1148.6 585.2 1145.3C584.7 1140.6 583.6 1135.9 582.6 1131.2C581.4 1125.9 579.1 1120.6 578 1115.2C576.8 1109.9 575.6 1104.5 575.2 1099.2C574.9 1095.2 574.6 1091.2 574.6 1087.2C574.6 1083.2 574.9 1079.2 575.2 1075.2C575.6 1069.8 576.8 1064.5 578 1059.2C579.1 1053.8 581 1048.5 582.6 1043.2C584.1 1037.8 585.8 1032.5 587.2 1027.1C588.6 1021.8 589.7 1016.5 591.2 1011.1C592.6 1005.8 594.4 1000.4 596 995.1C597.6 989.8 599.3 984.4 600.6 979.1C601.7 974.4 602.7 969.7 603.6 965.1C604.5 960.4 605.3 955.7 606 951.1C606.4 948.4 607.2 945.7 607.2 943C607.2 933.6 607.2 924.1 607.2 914.6Z" fill="#FF7F00"/>
</g>
<path d="M134.6 898.6V1238H651.8" fill="none" stroke="#000" stroke-width="2.3"/>
<path d="M129.0 942.6H134.6M129.0 1035.6H134.6M129.0 1128.6H134.6M129.0 1222.2H134.6M177.4 1238V1244.2M249.2 1238V1244.2M321 1238V1244.2M392.6 1238V1244.2M464.3 1238V1244.2M536 1238V1244.2M607.6 1238V1244.2" stroke="#000" stroke-width="2.1" fill="none"/>
<text x="112.6" y="943.2" text-anchor="end">0.6</text>
<text x="112.6" y="1041.2" text-anchor="end">0.4</text>
<text x="112.6" y="1139.2" text-anchor="end">0.2</text>
<text x="112.6" y="1236.8" text-anchor="end">0.0</text>
<path d="M175.6 892.4H605.6" stroke="#222" stroke-width="2.4" fill="none"/>
<text x="376.5" y="878.5" text-anchor="middle" font-size="23">p &lt; 0.001</text>
<text x="2.3" y="885.2" font-weight="bold" font-size="24.5">D</text>
<text transform="translate(39.8 1089.6) rotate(-90)" text-anchor="middle">Co-inhibitory</text>
<text transform="translate(69 1085.4) rotate(-90)" text-anchor="middle">gene signature score</text>
</g>
<g id="panelE">
<g stroke="#333" stroke-width="2.3" stroke-linejoin="round" stroke-linecap="round">
<path d="M820.8 1117.8C820.8 1137 820.8 1156.1 820.8 1175.3C820.8 1177.3 821.1 1179.3 821.4 1181.3C821.8 1184 823.1 1186.6 824 1189.3C824.7 1191.3 825.6 1193.3 826 1195.3C826.4 1197 826.8 1198.6 826.8 1200.3C826.8 1202 825.9 1203.6 825.4 1205.3C824.8 1207.3 823.4 1209.3 823.4 1211.3C823.4 1212.3 824.7 1213.3 826.4 1214.3C827.6 1215 833.1 1215.7 836.4 1216.3C839.8 1217 843.9 1217.7 846.4 1218.3C849.2 1219.1 851.6 1219.8 853 1220.5L787.8 1220.5C789.2 1219.8 791.6 1219.1 794.4 1218.3C796.9 1217.7 801 1217 804.4 1216.3C807.7 1215.7 813.2 1215 814.4 1214.3C816.1 1213.3 817.4 1212.3 817.4 1211.3C817.4 1209.3 816 1207.3 815.4 1205.3C814.9 1203.6 814 1202 814 1200.3C814 1198.6 814.4 1197 814.8 1195.3C815.2 1193.3 816.1 1191.3 816.8 1189.3C817.7 1186.6 819 1184 819.4 1181.3C819.7 1179.3 820 1177.3 820 1175.3C820 1156.1 820 1137 820 1117.8Z" fill="#4DAF4A"/>
<path d="M892.4 1077.6C892.4 1084.1 892.4 1090.7 892.4 1097.2C892.4 1099.2 893.2 1101.2 893.6 1103.2C894.5 1107.2 895.9 1111.2 897 1115.2C898.1 1119.2 898.8 1123.2 900 1127.2C901.3 1131.2 903.4 1135.2 905 1139.3C906.6 1143.3 908.2 1147.3 909.6 1151.3C911 1155.3 912.2 1159.3 913.6 1163.3C915.1 1167.3 916.6 1171.3 918.4 1175.3C919.6 1178 921.4 1180.6 922.4 1183.3C923.2 1185.3 924.4 1187.3 924.4 1189.3C924.4 1191.3 923.1 1193.3 922 1195.3C921 1197.3 918.9 1199.3 917.6 1201.3C916.3 1203.3 914.5 1205.3 914 1207.3C913.5 1210 913.4 1212.7 913 1215.3C912.8 1217.1 912.4 1218.8 912 1220.5L872 1220.5C871.6 1218.8 871.2 1217.1 871 1215.3C870.6 1212.7 870.5 1210 870 1207.3C869.5 1205.3 867.7 1203.3 866.4 1201.3C865.1 1199.3 863 1197.3 862 1195.3C860.9 1193.3 859.6 1191.3 859.6 1189.3C859.6 1187.3 860.8 1185.3 861.6 1183.3C862.6 1180.6 864.4 1178 865.6 1175.3C867.4 1171.3 868.9 1167.3 870.4 1163.3C871.8 1159.3 873 1155.3 874.4 1151.3C875.8 1147.3 877.4 1143.3 879 1139.3C880.6 1135.2 882.7 1131.2 884 1127.2C885.2 1123.2 885.9 1119.2 887 1115.2C888.1 1111.2 889.5 1107.2 890.4 1103.2C890.8 1101.2 891.6 1099.2 891.6 1097.2C891.6 1090.7 891.6 1084.1 891.6 1077.6Z" fill="#377EB8"/>
<path d="M963.9 1130.2C963.9 1133.2 963.9 1136.2 963.9 1139.3C963.9 1141.3 964.7 1143.3 965.1 1145.3C965.9 1148.6 967.2 1151.9 967.9 1155.3C968.6 1158.6 969 1161.9 969.5 1165.3C970 1168.6 970.2 1172 971.1 1175.3C971.8 1178 974.2 1180.6 975.9 1183.3C977.6 1186 979.9 1188.6 981.1 1191.3C982.3 1194 983.9 1196.6 983.9 1199.3C983.9 1201.3 982.2 1203.3 981.9 1205.3C981.7 1206.7 981.5 1208 981.5 1209.3C981.5 1210.7 983.7 1212 985.5 1213.3C986.9 1214.3 990.1 1215.3 991.5 1216.3C993.5 1217.7 995.3 1219.1 996.1 1220.5L930.9 1220.5C931.7 1219.1 933.5 1217.7 935.5 1216.3C936.9 1215.3 940.1 1214.3 941.5 1213.3C943.3 1212 945.5 1210.7 945.5 1209.3C945.5 1208 945.3 1206.7 945.1 1205.3C944.8 1203.3 943.1 1201.3 943.1 1199.3C943.1 1196.6 944.7 1194 945.9 1191.3C947.1 1188.6 949.4 1186 951.1 1183.3C952.8 1180.6 955.2 1178 955.9 1175.3C956.8 1172 957 1168.6 957.5 1165.3C958 1161.9 958.4 1158.6 959.1 1155.3C959.8 1151.9 961.1 1148.6 961.9 1145.3C962.3 1143.3 963.1 1141.3 963.1 1139.3C963.1 1136.2 963.1 1133.2 963.1 1130.2Z" fill="#FFFF33"/>
<path d="M1035.6 972.1C1035.6 982.4 1035.6 992.8 1035.6 1003.1C1035.6 1005.8 1036.4 1008.4 1036.8 1011.1C1037.6 1015.8 1038.6 1020.5 1039.6 1025.1C1040.6 1029.8 1041.6 1034.5 1042.8 1039.1C1044 1043.8 1045.7 1048.5 1046.8 1053.2C1047.9 1057.8 1048.8 1062.5 1049.6 1067.2C1050.4 1071.8 1050.8 1076.5 1051.6 1081.2C1052.5 1085.9 1054 1090.5 1055.2 1095.2C1056.5 1099.9 1058 1104.5 1059.2 1109.2C1060.5 1113.9 1062 1118.6 1062.8 1123.2C1063.7 1127.9 1064.3 1132.6 1064.8 1137.2C1065.4 1142.6 1066.2 1147.9 1066.2 1153.3C1066.2 1157.3 1065.2 1161.3 1065.2 1165.3C1065.2 1168.6 1065.4 1172 1065.6 1175.3C1065.9 1178.6 1067.6 1182 1067.6 1185.3C1067.6 1188 1065.7 1190.6 1064.2 1193.3C1062.8 1196 1059.8 1198.6 1058.2 1201.3C1056.6 1204 1055.1 1206.7 1054.2 1209.3C1053.6 1211.3 1053.1 1213.3 1052.8 1215.3C1052.6 1217.1 1052.3 1218.8 1052.2 1220.5L1018.2 1220.5C1018.1 1218.8 1017.8 1217.1 1017.6 1215.3C1017.3 1213.3 1016.8 1211.3 1016.2 1209.3C1015.3 1206.7 1013.8 1204 1012.2 1201.3C1010.6 1198.6 1007.6 1196 1006.2 1193.3C1004.7 1190.6 1002.8 1188 1002.8 1185.3C1002.8 1182 1004.5 1178.6 1004.8 1175.3C1005 1172 1005.2 1168.6 1005.2 1165.3C1005.2 1161.3 1004.2 1157.3 1004.2 1153.3C1004.2 1147.9 1005 1142.6 1005.6 1137.2C1006.1 1132.6 1006.7 1127.9 1007.6 1123.2C1008.4 1118.6 1009.9 1113.9 1011.2 1109.2C1012.4 1104.5 1013.9 1099.9 1015.2 1095.2C1016.4 1090.5 1017.9 1085.9 1018.8 1081.2C1019.6 1076.5 1020 1071.8 1020.8 1067.2C1021.6 1062.5 1022.5 1057.8 1023.6 1053.2C1024.7 1048.5 1026.4 1043.8 1027.6 1039.1C1028.8 1034.5 1029.8 1029.8 1030.8 1025.1C1031.8 1020.5 1032.8 1015.8 1033.6 1011.1C1034 1008.4 1034.8 1005.8 1034.8 1003.1C1034.8 992.8 1034.8 982.4 1034.8 972.1Z" fill="#E41A1C"/>
<path d="M1108.5 963.5C1109 967.3 1109.4 971.2 1109.9 975.1C1110.7 981.8 1111.6 988.4 1112.5 995.1C1113.4 1001.8 1114.6 1008.4 1115.3 1015.1C1116 1021.8 1116.5 1028.5 1116.9 1035.1C1117.3 1041.8 1117.4 1048.5 1117.9 1055.2C1118.4 1061.8 1119.5 1068.5 1120.5 1075.2C1121.5 1081.9 1122.3 1088.5 1123.9 1095.2C1125.2 1100.5 1128 1105.9 1129.9 1111.2C1131.6 1115.9 1133.7 1120.6 1134.9 1125.2C1136.2 1129.9 1137.2 1134.6 1137.9 1139.3C1138.6 1143.9 1139.5 1148.6 1139.5 1153.3C1139.5 1157.3 1139 1161.3 1138.5 1165.3C1138 1169.9 1136.4 1174.6 1134.9 1179.3C1133.6 1183.3 1131.6 1187.3 1129.9 1191.3C1128.3 1195.3 1126.4 1199.3 1124.9 1203.3C1123.4 1207.3 1121.9 1211.3 1120.9 1215.3C1120.5 1217.1 1120.2 1218.8 1119.9 1220.5L1093.9 1220.5C1093.6 1218.8 1093.3 1217.1 1092.9 1215.3C1091.9 1211.3 1090.4 1207.3 1088.9 1203.3C1087.4 1199.3 1085.5 1195.3 1083.9 1191.3C1082.2 1187.3 1080.2 1183.3 1078.9 1179.3C1077.4 1174.6 1075.8 1169.9 1075.3 1165.3C1074.8 1161.3 1074.3 1157.3 1074.3 1153.3C1074.3 1148.6 1075.2 1143.9 1075.9 1139.3C1076.6 1134.6 1077.6 1129.9 1078.9 1125.2C1080.1 1120.6 1082.2 1115.9 1083.9 1111.2C1085.8 1105.9 1088.6 1100.5 1089.9 1095.2C1091.5 1088.5 1092.3 1081.9 1093.3 1075.2C1094.3 1068.5 1095.4 1061.8 1095.9 1055.2C1096.4 1048.5 1096.5 1041.8 1096.9 1035.1C1097.3 1028.5 1097.8 1021.8 1098.5 1015.1C1099.2 1008.4 1100.4 1001.8 1101.3 995.1C1102.2 988.4 1103.1 981.8 1103.9 975.1C1104.4 971.2 1104.8 967.3 1105.3 963.5Z" fill="#A65628"/>
<path d="M1180 1016.1C1180.4 1019.1 1180.8 1022.1 1181.2 1025.1C1182.2 1031.8 1183.4 1038.5 1184.4 1045.2C1185.4 1051.8 1186.4 1058.5 1187.2 1065.2C1187.8 1070.5 1187.9 1075.9 1188.8 1081.2C1189.6 1085.9 1192.5 1090.5 1194.8 1095.2C1196.8 1099.2 1199.4 1103.2 1201.8 1107.2C1204.2 1111.2 1208.1 1115.2 1209.2 1119.2C1210.4 1123.2 1211.4 1127.2 1211.4 1131.2C1211.4 1135.9 1210.8 1140.6 1210.8 1145.3C1210.8 1148.6 1211.4 1151.9 1211.4 1155.3C1211.4 1159.3 1209.8 1163.3 1208.8 1167.3C1207.9 1171.3 1207.1 1175.3 1205.8 1179.3C1205 1182 1203.9 1184.6 1202.4 1187.3C1200.9 1190 1197.9 1192.6 1195.8 1195.3C1193.7 1198 1191 1200.6 1189.8 1203.3C1188.6 1206 1187.6 1208.7 1187.2 1211.3C1186.8 1214.4 1186.4 1217.5 1186.4 1220.5L1171.2 1220.5C1171.2 1217.5 1170.8 1214.4 1170.4 1211.3C1170 1208.7 1169 1206 1167.8 1203.3C1166.6 1200.6 1163.9 1198 1161.8 1195.3C1159.7 1192.6 1156.7 1190 1155.2 1187.3C1153.7 1184.6 1152.6 1182 1151.8 1179.3C1150.5 1175.3 1149.7 1171.3 1148.8 1167.3C1147.8 1163.3 1146.2 1159.3 1146.2 1155.3C1146.2 1151.9 1146.8 1148.6 1146.8 1145.3C1146.8 1140.6 1146.2 1135.9 1146.2 1131.2C1146.2 1127.2 1147.2 1123.2 1148.4 1119.2C1149.5 1115.2 1153.4 1111.2 1155.8 1107.2C1158.2 1103.2 1160.8 1099.2 1162.8 1095.2C1165.1 1090.5 1168 1085.9 1168.8 1081.2C1169.7 1075.9 1169.8 1070.5 1170.4 1065.2C1171.2 1058.5 1172.2 1051.8 1173.2 1045.2C1174.2 1038.5 1175.4 1031.8 1176.4 1025.1C1176.8 1022.1 1177.2 1019.1 1177.6 1016.1Z" fill="#984EA3"/>
<path d="M1251.6 913C1253 917 1254.9 921 1257 925C1259.5 929.7 1262.9 934.4 1266 939C1269.1 943.7 1273.5 948.4 1275.6 953.1C1277.8 957.7 1279.5 962.4 1280.4 967.1C1281.2 971.1 1281.7 975.1 1282 979.1C1282.3 982.4 1282.6 985.8 1282.6 989.1C1282.6 992.4 1281.8 995.8 1281 999.1C1280.1 1003.1 1277.7 1007.1 1276 1011.1C1274.1 1015.8 1272.1 1020.5 1270 1025.1C1268 1029.8 1265.3 1034.5 1263.6 1039.1C1262 1043.8 1260.4 1048.5 1259.6 1053.2C1258.8 1057.8 1258.6 1062.5 1258 1067.2C1257.4 1071.8 1256.3 1076.5 1255.6 1081.2C1254.9 1085.9 1254.1 1090.5 1253.6 1095.2C1253.1 1100.5 1252.6 1105.9 1252.4 1111.2C1252.2 1116.6 1252.1 1121.9 1252 1127.2C1251.9 1132.6 1251.8 1137.9 1251.6 1143.3C1251.5 1147.3 1251 1151.3 1250.8 1155.3C1250.7 1157.9 1250.4 1160.6 1250.4 1163.3C1250.4 1182.4 1250.4 1201.4 1250.4 1220.5L1249.6 1220.5C1249.6 1201.4 1249.6 1182.4 1249.6 1163.3C1249.6 1160.6 1249.3 1157.9 1249.2 1155.3C1249 1151.3 1248.5 1147.3 1248.4 1143.3C1248.2 1137.9 1248.1 1132.6 1248 1127.2C1247.9 1121.9 1247.8 1116.6 1247.6 1111.2C1247.4 1105.9 1246.9 1100.5 1246.4 1095.2C1245.9 1090.5 1245.1 1085.9 1244.4 1081.2C1243.7 1076.5 1242.6 1071.8 1242 1067.2C1241.4 1062.5 1241.2 1057.8 1240.4 1053.2C1239.6 1048.5 1238 1043.8 1236.4 1039.1C1234.7 1034.5 1232 1029.8 1230 1025.1C1227.9 1020.5 1225.9 1015.8 1224 1011.1C1222.3 1007.1 1219.9 1003.1 1219 999.1C1218.2 995.8 1217.4 992.4 1217.4 989.1C1217.4 985.8 1217.7 982.4 1218 979.1C1218.3 975.1 1218.8 971.1 1219.6 967.1C1220.5 962.4 1222.2 957.7 1224.4 953.1C1226.5 948.4 1230.9 943.7 1234 939C1237.1 934.4 1240.5 929.7 1243 925C1245.1 921 1247 917 1248.4 913Z" fill="#FF7F00"/>
</g>
<path d="M777.6 897V1236.3H1294.6" fill="none" stroke="#000" stroke-width="2.3"/>
<path d="M772.0 969.4H777.6M772.0 1053.2H777.6M772.0 1136.8H777.6M772.0 1220.2H777.6M820.4 1236.3V1242.5M892 1236.3V1242.5M963.5 1236.3V1242.5M1035.2 1236.3V1242.5M1106.9 1236.3V1242.5M1178.8 1236.3V1242.5M1250 1236.3V1242.5" stroke="#000" stroke-width="2.1" fill="none"/>
<text x="767.1" y="973.8" text-anchor="end">0.75</text>
<text x="767.1" y="1060.3" text-anchor="end">0.50</text>
<text x="767.1" y="1145.2" text-anchor="end">0.25</text>
<text x="767.1" y="1225.6" text-anchor="end">0.00</text>
<path d="M820 888.9H1249.7" stroke="#222" stroke-width="2.4" fill="none"/>
<text x="1030.7" y="878.5" text-anchor="middle" font-size="23">p &lt; 0.001</text>
<text x="674.8" y="885.6" font-weight="bold" font-size="24.5">E</text>
<text transform="translate(685 1092.4) rotate(-90)" text-anchor="middle">Migration</text>
<text transform="translate(713.9 1088.6) rotate(-90)" text-anchor="middle">gene signature score</text>
</g>
<g id="panelF">
<g stroke="#333" stroke-width="2.3" stroke-linejoin="round" stroke-linecap="round">
<path d="M1470.8 1098.6C1470.8 1106.1 1470.8 1113.7 1470.8 1121.2C1470.8 1123.2 1471.7 1125.2 1472.4 1127.2C1473.7 1131.2 1476.2 1135.2 1478.4 1139.3C1480.2 1142.6 1482.4 1145.9 1484.4 1149.3C1486 1151.9 1488.9 1154.6 1489.4 1157.3C1490 1159.9 1490.1 1162.6 1490.4 1165.3C1490.8 1167.9 1490.8 1170.6 1491.4 1173.3C1491.9 1175.3 1494.8 1177.3 1496.4 1179.3C1498.1 1181.3 1500.5 1183.3 1501.4 1185.3C1502.1 1186.6 1502.8 1188 1502.8 1189.3C1502.8 1191.3 1502.2 1193.3 1501.4 1195.3C1500.7 1197.3 1497.6 1199.3 1495.4 1201.3C1493.3 1203.3 1489.6 1205.3 1488.4 1207.3C1487.4 1209 1486.4 1210.7 1486.4 1212.3C1486.4 1213.7 1489 1215 1490.4 1216.3C1491.8 1217.7 1494.5 1219 1494.8 1220.3C1495 1221.1 1495.2 1221.9 1495.2 1222.7L1445.6 1222.7C1445.6 1221.9 1445.8 1221.1 1446 1220.3C1446.3 1219 1449 1217.7 1450.4 1216.3C1451.8 1215 1454.4 1213.7 1454.4 1212.3C1454.4 1210.7 1453.4 1209 1452.4 1207.3C1451.2 1205.3 1447.5 1203.3 1445.4 1201.3C1443.2 1199.3 1440.1 1197.3 1439.4 1195.3C1438.6 1193.3 1438 1191.3 1438 1189.3C1438 1188 1438.7 1186.6 1439.4 1185.3C1440.3 1183.3 1442.7 1181.3 1444.4 1179.3C1446 1177.3 1448.9 1175.3 1449.4 1173.3C1450 1170.6 1450 1167.9 1450.4 1165.3C1450.7 1162.6 1450.8 1159.9 1451.4 1157.3C1451.9 1154.6 1454.8 1151.9 1456.4 1149.3C1458.4 1145.9 1460.6 1142.6 1462.4 1139.3C1464.6 1135.2 1467.1 1131.2 1468.4 1127.2C1469.1 1125.2 1470 1123.2 1470 1121.2C1470 1113.7 1470 1106.1 1470 1098.6Z" fill="#4DAF4A"/>
<path d="M1542.6 1027.1C1542.6 1035.8 1542.6 1044.5 1542.6 1053.2C1542.6 1055.2 1543.6 1057.2 1544.2 1059.2C1545.2 1062.5 1547.1 1065.8 1547.8 1069.2C1548.6 1073.2 1549.4 1077.2 1549.4 1081.2C1549.4 1084.5 1548.6 1087.9 1548.6 1091.2C1548.6 1094.5 1548.6 1097.9 1548.6 1101.2C1548.6 1104.5 1550.2 1107.9 1551.2 1111.2C1552.4 1115.2 1553.9 1119.2 1555.2 1123.2C1556.5 1127.2 1557.8 1131.2 1559.2 1135.2C1560.6 1139.3 1562.3 1143.3 1563.8 1147.3C1565.3 1151.3 1566.9 1155.3 1568.2 1159.3C1569.5 1163.3 1570.5 1167.3 1571.8 1171.3C1572.7 1174 1574.6 1176.6 1574.6 1179.3C1574.6 1181.3 1573.9 1183.3 1573.2 1185.3C1572.3 1188 1568.7 1190.6 1566.2 1193.3C1563.7 1196 1560.6 1198.6 1558.2 1201.3C1555.8 1204 1553.6 1206.7 1551.8 1209.3C1550.4 1211.3 1548.9 1213.3 1548.2 1215.3C1547.4 1217.8 1546.6 1220.3 1546.6 1222.7L1537.8 1222.7C1537.8 1220.3 1537 1217.8 1536.2 1215.3C1535.5 1213.3 1534 1211.3 1532.6 1209.3C1530.8 1206.7 1528.6 1204 1526.2 1201.3C1523.8 1198.6 1520.7 1196 1518.2 1193.3C1515.7 1190.6 1512.1 1188 1511.2 1185.3C1510.5 1183.3 1509.8 1181.3 1509.8 1179.3C1509.8 1176.6 1511.7 1174 1512.6 1171.3C1513.9 1167.3 1514.9 1163.3 1516.2 1159.3C1517.5 1155.3 1519.1 1151.3 1520.6 1147.3C1522.1 1143.3 1523.8 1139.3 1525.2 1135.2C1526.6 1131.2 1527.9 1127.2 1529.2 1123.2C1530.5 1119.2 1532 1115.2 1533.2 1111.2C1534.2 1107.9 1535.8 1104.5 1535.8 1101.2C1535.8 1097.9 1535.8 1094.5 1535.8 1091.2C1535.8 1087.9 1535 1084.5 1535 1081.2C1535 1077.2 1535.8 1073.2 1536.6 1069.2C1537.3 1065.8 1539.2 1062.5 1540.2 1059.2C1540.8 1057.2 1541.8 1055.2 1541.8 1053.2C1541.8 1044.5 1541.8 1035.8 1541.8 1027.1Z" fill="#377EB8"/>
<path d="M1613.9 1039.7C1613.9 1058.9 1613.9 1078.1 1613.9 1097.2C1613.9 1099.2 1614.7 1101.2 1615.1 1103.2C1615.9 1107.2 1616.6 1111.2 1617.5 1115.2C1618.4 1119.2 1619.3 1123.2 1620.5 1127.2C1621.5 1130.6 1622.9 1133.9 1624.5 1137.2C1625.8 1139.9 1629 1142.6 1629.5 1145.3C1630.1 1148.6 1630 1151.9 1630.5 1155.3C1630.9 1157.9 1631.5 1160.6 1632.5 1163.3C1633.6 1165.9 1637.3 1168.6 1639.5 1171.3C1641.2 1173.3 1643.4 1175.3 1644.5 1177.3C1645.1 1178.3 1645.9 1179.3 1645.9 1180.3C1645.9 1182 1643.4 1183.6 1641.5 1185.3C1639.3 1187.3 1634.9 1189.3 1632.5 1191.3C1629.3 1194 1626.6 1196.6 1624.5 1199.3C1622.5 1202 1620.6 1204.7 1619.5 1207.3C1618.4 1210 1617.4 1212.7 1617.1 1215.3C1616.8 1217.8 1616.5 1220.3 1616.5 1222.7L1610.5 1222.7C1610.5 1220.3 1610.2 1217.8 1609.9 1215.3C1609.6 1212.7 1608.6 1210 1607.5 1207.3C1606.4 1204.7 1604.5 1202 1602.5 1199.3C1600.4 1196.6 1597.7 1194 1594.5 1191.3C1592.1 1189.3 1587.7 1187.3 1585.5 1185.3C1583.6 1183.6 1581.1 1182 1581.1 1180.3C1581.1 1179.3 1581.9 1178.3 1582.5 1177.3C1583.6 1175.3 1585.8 1173.3 1587.5 1171.3C1589.7 1168.6 1593.4 1165.9 1594.5 1163.3C1595.5 1160.6 1596.1 1157.9 1596.5 1155.3C1597 1151.9 1596.9 1148.6 1597.5 1145.3C1598 1142.6 1601.2 1139.9 1602.5 1137.2C1604.1 1133.9 1605.5 1130.6 1606.5 1127.2C1607.7 1123.2 1608.6 1119.2 1609.5 1115.2C1610.4 1111.2 1611.1 1107.2 1611.9 1103.2C1612.3 1101.2 1613.1 1099.2 1613.1 1097.2C1613.1 1078.1 1613.1 1058.9 1613.1 1039.7Z" fill="#FFFF33"/>
<path d="M1685.7 944.1C1685.7 955.7 1685.7 967.4 1685.7 979.1C1685.7 981.8 1686.7 984.4 1687.3 987.1C1688.5 992.4 1690.3 997.8 1691.7 1003.1C1693.1 1008.4 1694.2 1013.8 1695.7 1019.1C1697.2 1024.5 1699 1029.8 1700.9 1035.1C1702.8 1040.5 1705.8 1045.8 1707.3 1051.2C1708.9 1056.5 1709.7 1061.8 1710.9 1067.2C1712.2 1072.5 1713.6 1077.9 1714.9 1083.2C1715.9 1087.2 1717.7 1091.2 1717.7 1095.2C1717.7 1099.2 1716.2 1103.2 1715.7 1107.2C1715.1 1111.9 1714.3 1116.6 1714.3 1121.2C1714.3 1125.9 1714.3 1130.6 1714.3 1135.2C1714.3 1139.9 1712.6 1144.6 1711.3 1149.3C1710.1 1153.9 1707.6 1158.6 1706.3 1163.3C1705.1 1167.9 1704.7 1172.6 1703.3 1177.3C1702.1 1181.3 1699.3 1185.3 1697.3 1189.3C1695.3 1193.3 1693 1197.3 1691.3 1201.3C1689.9 1204.7 1687.9 1208 1687.7 1211.3C1687.5 1215.1 1687.3 1218.9 1687.3 1222.7L1683.3 1222.7C1683.3 1218.9 1683.1 1215.1 1682.9 1211.3C1682.7 1208 1680.7 1204.7 1679.3 1201.3C1677.6 1197.3 1675.3 1193.3 1673.3 1189.3C1671.3 1185.3 1668.5 1181.3 1667.3 1177.3C1665.9 1172.6 1665.5 1167.9 1664.3 1163.3C1663 1158.6 1660.5 1153.9 1659.3 1149.3C1658 1144.6 1656.3 1139.9 1656.3 1135.2C1656.3 1130.6 1656.3 1125.9 1656.3 1121.2C1656.3 1116.6 1655.5 1111.9 1654.9 1107.2C1654.4 1103.2 1652.9 1099.2 1652.9 1095.2C1652.9 1091.2 1654.7 1087.2 1655.7 1083.2C1657 1077.9 1658.4 1072.5 1659.7 1067.2C1660.9 1061.8 1661.7 1056.5 1663.3 1051.2C1664.8 1045.8 1667.8 1040.5 1669.7 1035.1C1671.6 1029.8 1673.4 1024.5 1674.9 1019.1C1676.4 1013.8 1677.5 1008.4 1678.9 1003.1C1680.3 997.8 1682.1 992.4 1683.3 987.1C1683.9 984.4 1684.9 981.8 1684.9 979.1C1684.9 967.4 1684.9 955.7 1684.9 944.1Z" fill="#E41A1C"/>
<path d="M1760.1 975.1C1760.8 978.4 1761.5 981.8 1761.9 985.1C1762.8 991.8 1763.4 998.4 1763.9 1005.1C1764.3 1010.5 1764.3 1015.8 1764.9 1021.1C1765.4 1025.8 1768.4 1030.5 1769.9 1035.1C1771.7 1040.5 1773.4 1045.8 1774.9 1051.2C1776.5 1056.5 1777.8 1061.8 1779.3 1067.2C1780.8 1072.5 1782.6 1077.9 1783.9 1083.2C1785.2 1088.5 1786.6 1093.9 1787.3 1099.2C1788.1 1104.5 1788.6 1109.9 1788.9 1115.2C1789.2 1120.6 1789.5 1125.9 1789.5 1131.2C1789.5 1136.6 1788.4 1141.9 1787.9 1147.3C1787.4 1152.6 1786.9 1157.9 1786.5 1163.3C1786.3 1167.3 1786.3 1171.3 1785.9 1175.3C1785.6 1178.6 1783 1182 1780.9 1185.3C1778.9 1188.6 1775.5 1192 1772.9 1195.3C1770.3 1198.6 1767.3 1202 1765.3 1205.3C1763.3 1208.7 1761.5 1212 1760.5 1215.3C1759.8 1217.8 1759.2 1220.3 1758.9 1222.7L1754.9 1222.7C1754.6 1220.3 1754 1217.8 1753.3 1215.3C1752.3 1212 1750.5 1208.7 1748.5 1205.3C1746.5 1202 1743.5 1198.6 1740.9 1195.3C1738.3 1192 1734.9 1188.6 1732.9 1185.3C1730.8 1182 1728.2 1178.6 1727.9 1175.3C1727.5 1171.3 1727.5 1167.3 1727.3 1163.3C1726.9 1157.9 1726.4 1152.6 1725.9 1147.3C1725.4 1141.9 1724.3 1136.6 1724.3 1131.2C1724.3 1125.9 1724.6 1120.6 1724.9 1115.2C1725.2 1109.9 1725.7 1104.5 1726.5 1099.2C1727.2 1093.9 1728.6 1088.5 1729.9 1083.2C1731.2 1077.9 1733 1072.5 1734.5 1067.2C1736 1061.8 1737.3 1056.5 1738.9 1051.2C1740.4 1045.8 1742.1 1040.5 1743.9 1035.1C1745.4 1030.5 1748.4 1025.8 1748.9 1021.1C1749.5 1015.8 1749.5 1010.5 1749.9 1005.1C1750.4 998.4 1751 991.8 1751.9 985.1C1752.3 981.8 1753 978.4 1753.7 975.1Z" fill="#A65628"/>
<path d="M1829 960.1C1829 967.7 1829 975.4 1829 983.1C1829 985.8 1830 988.4 1830.6 991.1C1831.7 996.4 1832.8 1001.8 1834.2 1007.1C1835.6 1012.5 1837.4 1017.8 1839.6 1023.1C1841.3 1027.1 1844.6 1031.1 1846.2 1035.1C1847.9 1039.1 1849.4 1043.2 1850.2 1047.2C1851.3 1052.5 1851.6 1057.8 1852.6 1063.2C1853.6 1068.5 1855.7 1073.9 1856.6 1079.2C1857.5 1084.5 1858.6 1089.9 1858.6 1095.2C1858.6 1100.5 1858.6 1105.9 1858.6 1111.2C1858.6 1116.6 1858.8 1121.9 1859 1127.2C1859.2 1132.6 1860 1137.9 1860.2 1143.3C1860.4 1147.3 1860.6 1151.3 1860.6 1155.3C1860.6 1159.3 1859.8 1163.3 1859 1167.3C1858.3 1171.3 1857.3 1175.3 1855.6 1179.3C1854.3 1182.6 1851.2 1186 1848.6 1189.3C1846 1192.6 1842.2 1196 1839.6 1199.3C1837.1 1202.6 1834 1206 1833 1209.3C1831.7 1213.8 1830.6 1218.3 1830.6 1222.7L1826.6 1222.7C1826.6 1218.3 1825.5 1213.8 1824.2 1209.3C1823.2 1206 1820.1 1202.6 1817.6 1199.3C1815 1196 1811.2 1192.6 1808.6 1189.3C1806 1186 1802.9 1182.6 1801.6 1179.3C1799.9 1175.3 1798.9 1171.3 1798.2 1167.3C1797.4 1163.3 1796.6 1159.3 1796.6 1155.3C1796.6 1151.3 1796.8 1147.3 1797 1143.3C1797.2 1137.9 1798 1132.6 1798.2 1127.2C1798.4 1121.9 1798.6 1116.6 1798.6 1111.2C1798.6 1105.9 1798.6 1100.5 1798.6 1095.2C1798.6 1089.9 1799.7 1084.5 1800.6 1079.2C1801.5 1073.9 1803.6 1068.5 1804.6 1063.2C1805.6 1057.8 1805.9 1052.5 1807 1047.2C1807.8 1043.2 1809.3 1039.1 1811 1035.1C1812.6 1031.1 1815.9 1027.1 1817.6 1023.1C1819.8 1017.8 1821.6 1012.5 1823 1007.1C1824.4 1001.8 1825.5 996.4 1826.6 991.1C1827.2 988.4 1828.2 985.8 1828.2 983.1C1828.2 975.4 1828.2 967.7 1828.2 960.1Z" fill="#984EA3"/>
<path d="M1901.4 914.6C1902.1 918.8 1902.7 922.9 1903.2 927C1903.8 932.4 1903.9 937.7 1904.6 943C1905.1 947.1 1906 951.1 1907.2 955.1C1908.4 959.1 1911.2 963.1 1913.2 967.1C1915.2 971.1 1917.2 975.1 1919.2 979.1C1921.2 983.1 1923.5 987.1 1925.2 991.1C1927 995.1 1928.7 999.1 1929.8 1003.1C1930.8 1006.4 1932 1009.8 1932.2 1013.1C1932.5 1016.5 1932.6 1019.8 1932.6 1023.1C1932.6 1027.1 1932 1031.1 1931.8 1035.1C1931.6 1040.5 1931.6 1045.8 1931.2 1051.2C1931 1055.2 1928.8 1059.2 1927.2 1063.2C1925.6 1067.2 1923 1071.2 1921.2 1075.2C1918.8 1080.5 1916.6 1085.9 1914.6 1091.2C1912.6 1096.5 1910.5 1101.9 1909.2 1107.2C1907.9 1112.6 1907.1 1117.9 1906.2 1123.2C1905.3 1128.6 1904.6 1133.9 1903.8 1139.3C1903.2 1143.3 1901.8 1147.3 1901.8 1151.3C1901.8 1155.3 1902.1 1159.3 1902.2 1163.3C1902.3 1167.3 1902.6 1171.3 1902.6 1175.3C1902.6 1179.3 1902.1 1183.3 1901.8 1187.3C1901.5 1190.6 1900.6 1194 1900.6 1197.3C1900.6 1205.8 1900.6 1214.3 1900.6 1222.7L1899.8 1222.7C1899.8 1214.3 1899.8 1205.8 1899.8 1197.3C1899.8 1194 1898.9 1190.6 1898.6 1187.3C1898.3 1183.3 1897.8 1179.3 1897.8 1175.3C1897.8 1171.3 1898.1 1167.3 1898.2 1163.3C1898.3 1159.3 1898.6 1155.3 1898.6 1151.3C1898.6 1147.3 1897.2 1143.3 1896.6 1139.3C1895.8 1133.9 1895.1 1128.6 1894.2 1123.2C1893.3 1117.9 1892.5 1112.6 1891.2 1107.2C1889.9 1101.9 1887.8 1096.5 1885.8 1091.2C1883.8 1085.9 1881.6 1080.5 1879.2 1075.2C1877.4 1071.2 1874.8 1067.2 1873.2 1063.2C1871.6 1059.2 1869.4 1055.2 1869.2 1051.2C1868.8 1045.8 1868.8 1040.5 1868.6 1035.1C1868.4 1031.1 1867.8 1027.1 1867.8 1023.1C1867.8 1019.8 1867.9 1016.5 1868.2 1013.1C1868.4 1009.8 1869.6 1006.4 1870.6 1003.1C1871.7 999.1 1873.4 995.1 1875.2 991.1C1876.9 987.1 1879.2 983.1 1881.2 979.1C1883.2 975.1 1885.2 971.1 1887.2 967.1C1889.2 963.1 1892 959.1 1893.2 955.1C1894.4 951.1 1895.3 947.1 1895.8 943C1896.5 937.7 1896.6 932.4 1897.2 927C1897.7 922.9 1898.3 918.8 1899 914.6Z" fill="#FF7F00"/>
</g>
<path d="M1427.6 899V1238.6H1944.6" fill="none" stroke="#000" stroke-width="2.3"/>
<path d="M1422.0 907.6H1427.6M1422.0 986.4H1427.6M1422.0 1065H1427.6M1422.0 1143.6H1427.6M1422.0 1222.4H1427.6M1470.4 1238.6V1244.8M1542.2 1238.6V1244.8M1613.5 1238.6V1244.8M1685.3 1238.6V1244.8M1756.9 1238.6V1244.8M1828.6 1238.6V1244.8M1900.2 1238.6V1244.8" stroke="#000" stroke-width="2.1" fill="none"/>
<text x="1413.3" y="917.1" text-anchor="end">0.4</text>
<text x="1413.3" y="995.4" text-anchor="end">0.3</text>
<text x="1413.3" y="1073" text-anchor="end">0.2</text>
<text x="1413.3" y="1150.6" text-anchor="end">0.1</text>
<text x="1413.3" y="1230.2" text-anchor="end">0.0</text>
<path d="M1470.7 889H1900.8" stroke="#222" stroke-width="2.4" fill="none"/>
<text x="1688.1" y="878.6" text-anchor="middle" font-size="23">p &lt; 0.001</text>
<text x="1323.3" y="885.2" font-weight="bold" font-size="24.5">F</text>
<text transform="translate(1334 1065.6) rotate(-90)" text-anchor="middle">Anti-apoptosis</text>
<text transform="translate(1361.6 1062.8) rotate(-90)" text-anchor="middle">gene signature score</text>
</g>
<g id="legend">
<rect x="1714.9" y="297.7" width="19.6" height="19.6" fill="#4DAF4A"/>
<text x="1748.8" y="313.8">pDCs</text>
<rect x="1714.9" y="336.1" width="19.6" height="19.6" fill="#377EB8"/>
<text x="1748.8" y="352.2">cDC1s</text>
<rect x="1714.9" y="375.1" width="19.6" height="19.6" fill="#FFFF33"/>
<text x="1748.8" y="391.2">steady state</text>
<rect x="1714.9" y="437.4" width="19.6" height="19.6" fill="#E41A1C"/>
<text x="1746.3" y="453.5">activated cDC2s</text>
<rect x="1714.9" y="475.4" width="19.6" height="19.6" fill="#A65628"/>
<text x="1748.8" y="491.5">ISG+ cDC2s</text>
<rect x="1714.9" y="513.8" width="19.6" height="19.6" fill="#984EA3"/>
<text x="1748.8" y="529.9">DC3s</text>
<rect x="1714.9" y="552.6" width="19.6" height="19.6" fill="#FF7F00"/>
<text x="1748.8" y="568.7">mregDCs</text>
<text x="1748.8" y="420.1">cDC2s</text>
</g>
<defs><filter id="b1" x="-20%" y="-20%" width="140%" height="140%"><feGaussianBlur stdDeviation="0.55"/></filter><filter id="rg" x="-5%" y="-5%" width="110%" height="110%"><feTurbulence type="fractalNoise" baseFrequency="0.09" numOctaves="2" seed="7" result="n"/><feDisplacementMap in="SourceGraphic" in2="n" scale="10" xChannelSelector="R" yChannelSelector="G"/><feGaussianBlur stdDeviation="0.5"/></filter><filter id="rn" x="-5%" y="-5%" width="110%" height="110%"><feTurbulence type="fractalNoise" baseFrequency="0.1" numOctaves="1" seed="3" result="n"/><feDisplacementMap in="SourceGraphic" in2="n" scale="3" xChannelSelector="R" yChannelSelector="G"/><feGaussianBlur stdDeviation="0.45"/></filter><filter id="rf" x="-5%" y="-5%" width="110%" height="110%"><feTurbulence type="fractalNoise" baseFrequency="0.07" numOctaves="1" seed="11" result="n"/><feDisplacementMap in="SourceGraphic" in2="n" scale="9" xChannelSelector="R" yChannelSelector="G"/><feGaussianBlur stdDeviation="0.4"/></filter><filter id="b2" x="-30%" y="-30%" width="160%" height="160%"><feGaussianBlur stdDeviation="1.3"/></filter><filter id="hz" x="0" y="0" width="100%" height="100%" color-interpolation-filters="sRGB"><feTurbulence type="fractalNoise" baseFrequency="0.13" numOctaves="2" seed="5"/><feColorMatrix type="matrix" values="0 0 0 0 0  0 0 0 0 0  0 0 1.6 0 -0.86  0 0 0 0 1"/></filter><clipPath id="gclip"><rect x="0" y="0" width="433.4" height="433.4"/></clipPath></defs>
<g id="panelG">
<text x="3" y="1300.5" font-weight="bold" font-size="24.5">G</text>
<g transform="translate(37.0 1302.4)">
<rect x="0" y="0" width="433.4" height="433.4" fill="#000"/>
<g clip-path="url(#gclip)">
<rect x="0" y="0" width="433.4" height="433.4" fill="#000" filter="url(#hz)"/>
<g fill="#0000a8" filter="url(#rn)" opacity="0.7">
<ellipse cx="32.4" cy="72.2" rx="8" ry="5.6"/>
<ellipse cx="37.3" cy="59.7" rx="4.8" ry="4"/>
<ellipse cx="62.2" cy="58.5" rx="8" ry="4"/>
<ellipse cx="89.6" cy="58.5" rx="4.8" ry="4"/>
<ellipse cx="27.4" cy="102" rx="4.8" ry="5.6"/>
<ellipse cx="34.8" cy="120.7" rx="4.8" ry="5.6"/>
<ellipse cx="54.8" cy="122" rx="4.8" ry="5.6"/>
<ellipse cx="122" cy="24.9" rx="4" ry="4"/>
<ellipse cx="149.3" cy="11.2" rx="4.8" ry="4.8"/>
<ellipse cx="154.3" cy="19.9" rx="4" ry="4"/>
<ellipse cx="177.9" cy="12.4" rx="4.8" ry="4"/>
<ellipse cx="185.4" cy="11.2" rx="4" ry="4"/>
<ellipse cx="184.2" cy="26.1" rx="4" ry="3.2"/>
<ellipse cx="226.5" cy="24.9" rx="4" ry="3.2"/>
<ellipse cx="235.2" cy="38.6" rx="4.8" ry="5.6"/>
<ellipse cx="216.5" cy="46" rx="4.8" ry="4.8"/>
<ellipse cx="246.4" cy="44.8" rx="6.4" ry="4.8"/>
<ellipse cx="238.9" cy="57.2" rx="4.8" ry="4.8"/>
<ellipse cx="216.5" cy="56" rx="4" ry="3.2"/>
<ellipse cx="267.5" cy="62.2" rx="4" ry="4"/>
<ellipse cx="261.3" cy="83.4" rx="4" ry="3.2"/>
<ellipse cx="262.6" cy="99.6" rx="5.6" ry="5.6"/>
<ellipse cx="314.8" cy="75.9" rx="4.8" ry="5.6"/>
<ellipse cx="342.2" cy="74.7" rx="4.8" ry="4"/>
<ellipse cx="336" cy="63.5" rx="4" ry="3.2"/>
<ellipse cx="398.2" cy="97.1" rx="4" ry="4.8"/>
<ellipse cx="418.1" cy="138.1" rx="4.8" ry="4.8"/>
<ellipse cx="430.6" cy="174.2" rx="2.4" ry="4.8"/>
<ellipse cx="399.5" cy="212.8" rx="4.8" ry="4"/>
<ellipse cx="209.1" cy="99.6" rx="3.2" ry="3.2"/>
<ellipse cx="211.5" cy="82.1" rx="3.2" ry="3.2"/>
<ellipse cx="296.2" cy="129.4" rx="3.2" ry="3.2"/>
<ellipse cx="311.1" cy="141.9" rx="3.2" ry="4.8"/>
<ellipse cx="380.8" cy="159.3" rx="2.4" ry="4"/>
<ellipse cx="343.5" cy="171.7" rx="3.2" ry="4"/>
<ellipse cx="418.1" cy="117" rx="3.2" ry="4"/>
<ellipse cx="64.7" cy="156.8" rx="4" ry="7.2"/>
<ellipse cx="72.2" cy="171.7" rx="3.2" ry="3.2"/>
<ellipse cx="94.6" cy="146.8" rx="3.2" ry="3.2"/>
<ellipse cx="291.2" cy="219" rx="4" ry="3.2"/>
<ellipse cx="321.1" cy="251.4" rx="4" ry="3.2"/>
<ellipse cx="358.4" cy="273.8" rx="4.8" ry="2.4"/>
<ellipse cx="385.8" cy="323.5" rx="8" ry="3.2"/>
<ellipse cx="331" cy="308.6" rx="6.4" ry="2.9"/>
<ellipse cx="368.3" cy="301.1" rx="4.8" ry="3.2"/>
<ellipse cx="410.7" cy="343.5" rx="4.8" ry="3.2"/>
<ellipse cx="388.3" cy="378.3" rx="4" ry="3.2"/>
<ellipse cx="408.2" cy="388.3" rx="3.2" ry="4"/>
<ellipse cx="373.3" cy="408.2" rx="3.2" ry="4"/>
<ellipse cx="343.5" cy="408.2" rx="4" ry="3.2"/>
<ellipse cx="331" cy="415.6" rx="4" ry="3.2"/>
<ellipse cx="288.7" cy="420.6" rx="4" ry="3.2"/>
<ellipse cx="243.9" cy="398.2" rx="3.2" ry="4"/>
<ellipse cx="194.1" cy="368.3" rx="4" ry="4"/>
<ellipse cx="159.3" cy="365.9" rx="3.2" ry="4"/>
<ellipse cx="139.4" cy="368.3" rx="3.2" ry="3.2"/>
<ellipse cx="49.8" cy="353.4" rx="4.8" ry="3.2"/>
<ellipse cx="22.4" cy="360.9" rx="4.8" ry="4"/>
<ellipse cx="10" cy="311.1" rx="4" ry="3.2"/>
<ellipse cx="17.4" cy="288.7" rx="4.8" ry="3.2"/>
<ellipse cx="112" cy="278.7" rx="4.8" ry="3.2"/>
<ellipse cx="129.4" cy="283.7" rx="4.8" ry="3.2"/>
<ellipse cx="117" cy="258.8" rx="4.8" ry="3.2"/>
<ellipse cx="134.4" cy="321.1" rx="4.8" ry="4.8"/>
<ellipse cx="104.5" cy="308.6" rx="4.8" ry="4"/>
<ellipse cx="79.6" cy="321.1" rx="4.8" ry="3.2"/>
<ellipse cx="24.9" cy="323.5" rx="4.8" ry="3.2"/>
<ellipse cx="194.1" cy="34.8" rx="3.2" ry="2.4"/>
<ellipse cx="281.2" cy="24.9" rx="3.2" ry="3.2"/>
<ellipse cx="298.7" cy="14.9" rx="3.2" ry="3.2"/>
<ellipse cx="331" cy="42.3" rx="4" ry="2.4"/>
<ellipse cx="365.9" cy="54.8" rx="4" ry="2.4"/>
<ellipse cx="388.3" cy="34.8" rx="4" ry="1.9"/>
<ellipse cx="410.7" cy="57.2" rx="4.8" ry="1.9"/>
<ellipse cx="423.1" cy="82.1" rx="3.2" ry="4"/>
<ellipse cx="425.6" cy="104.5" rx="2.4" ry="3.2"/>
<ellipse cx="353.4" cy="107" rx="3.2" ry="3.2"/>
<ellipse cx="286.2" cy="97.1" rx="3.2" ry="3.2"/>
<ellipse cx="164.3" cy="104.5" rx="3.2" ry="3.2"/>
<ellipse cx="109.5" cy="82.1" rx="4" ry="3.2"/>
<ellipse cx="5" cy="102" rx="3.2" ry="3.2"/>
<ellipse cx="7.5" cy="154.3" rx="2.4" ry="3.2"/>
<ellipse cx="37.3" cy="375.8" rx="4" ry="3.2"/>
<ellipse cx="14.9" cy="373.3" rx="4.8" ry="3.2"/>
<ellipse cx="62.2" cy="388.3" rx="4" ry="3.2"/>
<ellipse cx="44.8" cy="395.7" rx="3.2" ry="3.2"/>
</g>
<g fill="none" stroke="#25aa88" stroke-width="1.5" opacity="0.95" filter="url(#rf)">
<path d="M149.3 273.1Q174.2 276.9 186.7 278.1Q199.1 279.3 211.5 280.6Q224 281.8 231.5 283.7Q238.9 285.6 243.9 281.2Q248.9 276.9 256.3 276.9Q263.8 276.9 267.5 281.8Q271.3 286.8 276.3 281.8Q281.2 276.9 285 280.6Q288.7 284.3 293.7 280.6Q298.7 276.9 306.1 273.1Q313.6 269.4 322.3 268.1Q331 266.9 337.2 269.4Q343.5 271.9 345.9 278.1Q348.4 284.3 353.4 285.6Q358.4 286.8 365.9 284.3Q373.3 281.8 380.8 279.3L388.3 276.9"/>
<path d="M251.4 260.7Q268.8 264.4 273.8 269.4Q278.7 274.4 283.7 280.6Q288.7 286.8 293.7 290.5L298.7 294.3"/>
<path d="M214 308Q229 311.7 238.9 310.5Q248.9 309.2 258.8 309.8Q268.8 310.5 283.7 311.1Q298.7 311.7 316.1 312.9Q333.5 314.2 341 311.7Q348.4 309.2 353.4 306.7Q358.4 304.2 363.4 308Q368.3 311.7 374.6 312.9Q380.8 314.2 387 311.7Q393.2 309.2 398.2 312.9Q403.2 316.7 406.9 322.9Q410.7 329.1 416.9 332.9Q423.1 336.6 428.1 334.1L433.1 331.6"/>
<path d="M311.1 284.3Q321.1 294.3 326 290.5Q331 286.8 333.5 291.8Q336 296.8 342.2 300.5L348.4 304.2"/>
<path d="M358.4 324.1Q365.9 334.1 370.8 332.9Q375.8 331.6 378.3 337.8Q380.8 344.1 385.8 345.3Q390.7 346.5 394.5 351.5Q398.2 356.5 403.2 357.7Q408.2 359 411.9 364Q415.6 368.9 419.4 375.2Q423.1 381.4 426.8 385.1L430.6 388.9"/>
<path d="M276.3 212.1Q298.7 232.1 311.1 242Q323.5 252 336 259.4Q348.4 266.9 360.9 270.6Q373.3 274.4 385.8 278.1Q398.2 281.8 410.7 286.8L423.1 291.8"/>
<path d="M109.5 291.8Q139.4 299.3 146.8 305.5Q154.3 311.7 161.8 320.4Q169.2 329.1 179.2 331.6Q189.1 334.1 206.6 334.1Q224 334.1 236.4 337.8Q248.9 341.6 280 344.1Q311.1 346.5 329.8 354Q348.4 361.5 360.9 366.5Q373.3 371.4 385.8 380.1Q398.2 388.9 410.7 403.8L423.1 418.7"/>
</g>
<g fill="#20e620" filter="url(#rg)">
<ellipse cx="95.8" cy="59" rx="6.5" ry="4.6" opacity="0.8"/>
<ellipse cx="181.2" cy="72.7" rx="4.6" ry="6.5" opacity="0.9"/>
<ellipse cx="251.9" cy="118" rx="6.8" ry="7.3" opacity="0.95"/>
<ellipse cx="146.8" cy="136.1" rx="5.2" ry="3.9" opacity="0.8"/>
<ellipse cx="150.6" cy="176" rx="6" ry="9.1" opacity="0.95"/>
<ellipse cx="156.3" cy="163.5" rx="1.6" ry="5.2" opacity="0.7"/>
<ellipse cx="263.3" cy="180.2" rx="11.1" ry="11.8" opacity="0.95"/>
<ellipse cx="276.3" cy="185.2" rx="7.8" ry="3.9" opacity="0.85"/>
<ellipse cx="270" cy="189.6" rx="6.5" ry="4.6" opacity="0.8"/>
<ellipse cx="313.1" cy="167.7" rx="7.2" ry="7.8" opacity="0.95"/>
<ellipse cx="334.7" cy="163.5" rx="9.1" ry="7.8" opacity="0.95"/>
<ellipse cx="329.8" cy="172.2" rx="5.2" ry="3.3" opacity="0.8"/>
<ellipse cx="358.4" cy="193.4" rx="7.2" ry="8.5" opacity="0.95"/>
<ellipse cx="395.7" cy="182.2" rx="5.2" ry="9.1" opacity="0.9"/>
<ellipse cx="199.1" cy="207.1" rx="5.9" ry="7.2" opacity="0.9"/>
<ellipse cx="214" cy="212" rx="5.2" ry="7.8" opacity="0.9"/>
<ellipse cx="273.8" cy="205.8" rx="5.5" ry="5.2" opacity="0.9"/>
<ellipse cx="284.2" cy="214.5" rx="6.8" ry="4.7" opacity="0.9"/>
<ellipse cx="199.1" cy="223.2" rx="6.8" ry="6.5" opacity="0.9"/>
<ellipse cx="238.9" cy="234.4" rx="8.1" ry="5.9" opacity="0.9"/>
<ellipse cx="200.3" cy="253.1" rx="9.4" ry="8.6" opacity="0.95"/>
<ellipse cx="215.3" cy="258.1" rx="5.2" ry="3.9" opacity="0.7"/>
<ellipse cx="420.6" cy="228.2" rx="9.1" ry="6.5" opacity="0.9"/>
<ellipse cx="403.2" cy="258.1" rx="10.7" ry="9.1" opacity="1.0"/>
<ellipse cx="408.2" cy="246.9" rx="3.9" ry="5.2" opacity="0.9"/>
<ellipse cx="166.7" cy="284.2" rx="12.5" ry="3.4" opacity="0.95"/>
<ellipse cx="74.7" cy="340.2" rx="6.5" ry="4.6" opacity="0.45"/>
<ellipse cx="174.2" cy="347.7" rx="6.5" ry="6.5" opacity="0.5"/>
<ellipse cx="104.5" cy="358.9" rx="4.6" ry="6.5" opacity="0.45"/>
<ellipse cx="129.4" cy="385" rx="7.2" ry="5.2" opacity="0.5"/>
<ellipse cx="424.3" cy="426.6" rx="7.2" ry="5.2" opacity="0.3"/>
<ellipse cx="221.5" cy="373.8" rx="3.9" ry="3.9" opacity="0.45"/>
<ellipse cx="235.2" cy="372.6" rx="3.9" ry="3.3" opacity="0.45"/>
<ellipse cx="318.6" cy="353.9" rx="3.9" ry="3.3" opacity="0.4"/>
<ellipse cx="350.9" cy="371.3" rx="4.6" ry="3.9" opacity="0.45"/>
<ellipse cx="161.8" cy="297.9" rx="7.8" ry="5.2" opacity="0.4"/>
<ellipse cx="139.4" cy="306.6" rx="5.2" ry="5.2" opacity="0.35"/>
<ellipse cx="293.7" cy="284.2" rx="3.9" ry="3.3" opacity="0.5"/>
<ellipse cx="281.2" cy="251.9" rx="5.2" ry="3.3" opacity="0.4"/>
<ellipse cx="224" cy="256.8" rx="3.9" ry="3.9" opacity="0.35"/>
<ellipse cx="430.6" cy="324" rx="2.6" ry="5.2" opacity="0.4"/>
</g>
<g fill="#0606ff" filter="url(#rn)">
<ellipse cx="7.5" cy="179.7" rx="4.8" ry="6.4"/>
<ellipse cx="22.4" cy="191.6" rx="6.4" ry="5.6"/>
<ellipse cx="24.9" cy="212.8" rx="6.4" ry="5.6"/>
<ellipse cx="17.4" cy="216.5" rx="4.8" ry="4"/>
<ellipse cx="46" cy="179.2" rx="3.2" ry="3.2"/>
<ellipse cx="66" cy="197.9" rx="6.4" ry="8" transform="rotate(-30 66 197.9)"/>
<ellipse cx="72.2" cy="180.4" rx="4" ry="5.6"/>
<ellipse cx="46" cy="216.5" rx="5.6" ry="4.8"/>
<ellipse cx="44.8" cy="225.2" rx="7.2" ry="5.6"/>
<ellipse cx="57.2" cy="210.3" rx="4.8" ry="4.8"/>
<ellipse cx="58.5" cy="220.3" rx="4.8" ry="4"/>
<ellipse cx="73.4" cy="219" rx="4.8" ry="4"/>
<ellipse cx="79.6" cy="225.2" rx="8" ry="4"/>
<ellipse cx="87.1" cy="215.3" rx="4" ry="4.8"/>
<ellipse cx="105.8" cy="199.1" rx="6.4" ry="4.8"/>
<ellipse cx="117" cy="197.9" rx="4" ry="4"/>
<ellipse cx="108.3" cy="219" rx="6.4" ry="6.4"/>
<ellipse cx="122" cy="225.2" rx="4.8" ry="4"/>
<ellipse cx="130.7" cy="238.9" rx="4.8" ry="4.8"/>
<ellipse cx="77.2" cy="240.2" rx="5.6" ry="6.4"/>
<ellipse cx="98.3" cy="238.9" rx="4.8" ry="4"/>
<ellipse cx="107" cy="242.7" rx="7.2" ry="4"/>
<ellipse cx="46" cy="236.4" rx="6.4" ry="4"/>
<ellipse cx="44.8" cy="245.1" rx="6.4" ry="4"/>
<ellipse cx="21.2" cy="236.4" rx="4" ry="4"/>
<ellipse cx="12.4" cy="238.9" rx="4" ry="3.2"/>
<ellipse cx="74.7" cy="253.9" rx="5.6" ry="4.8"/>
<ellipse cx="74.7" cy="261.8" rx="8" ry="4"/>
<ellipse cx="89.6" cy="263.3" rx="8" ry="4.8"/>
<ellipse cx="10" cy="257.6" rx="5.6" ry="4"/>
<ellipse cx="36.1" cy="268.8" rx="6.4" ry="4"/>
<ellipse cx="33.6" cy="281.2" rx="6.4" ry="3.2"/>
<ellipse cx="59.7" cy="275" rx="5.6" ry="3.2"/>
<ellipse cx="80.9" cy="286.2" rx="4.8" ry="5.6"/>
<ellipse cx="88.4" cy="297.4" rx="5.6" ry="4"/>
<ellipse cx="54.8" cy="307.4" rx="4" ry="4.8"/>
<ellipse cx="36.1" cy="313.6" rx="8" ry="4.8"/>
<ellipse cx="63.5" cy="317.3" rx="6.4" ry="3.2"/>
<ellipse cx="7.5" cy="332.3" rx="4.8" ry="4"/>
<ellipse cx="37.3" cy="332.3" rx="4" ry="4"/>
<ellipse cx="74.7" cy="338.5" rx="8" ry="5.6" transform="rotate(20 74.7 338.5)"/>
<ellipse cx="6.2" cy="343.5" rx="4.8" ry="4.8"/>
<ellipse cx="32.4" cy="345.9" rx="6.4" ry="4.8"/>
<ellipse cx="109.5" cy="332.3" rx="8" ry="4" transform="rotate(15 109.5 332.3)"/>
<ellipse cx="103.3" cy="355.9" rx="4" ry="6.4"/>
<ellipse cx="125.7" cy="345.9" rx="4" ry="5.6"/>
<ellipse cx="143.1" cy="348.4" rx="4.8" ry="4"/>
<ellipse cx="120.7" cy="363.4" rx="4" ry="4.8"/>
<ellipse cx="129.4" cy="308.6" rx="4" ry="5.6"/>
<ellipse cx="134.4" cy="128.2" rx="5.6" ry="5.6"/>
<ellipse cx="143.1" cy="136.9" rx="5.6" ry="4"/>
<ellipse cx="129.4" cy="144.4" rx="4.8" ry="4"/>
<ellipse cx="171.7" cy="159.3" rx="4.8" ry="4"/>
<ellipse cx="181.7" cy="73.4" rx="4.8" ry="4.8"/>
<ellipse cx="140.6" cy="73.4" rx="5.6" ry="4.8"/>
<ellipse cx="148.1" cy="179.2" rx="5.6" ry="7.2"/>
<ellipse cx="199.1" cy="182.9" rx="4.8" ry="4"/>
<ellipse cx="186.7" cy="194.1" rx="4.8" ry="4.8"/>
<ellipse cx="195.4" cy="205.3" rx="4.8" ry="6.4"/>
<ellipse cx="212.8" cy="213.5" rx="6.4" ry="6.4"/>
<ellipse cx="217.8" cy="194.1" rx="4" ry="4.8"/>
<ellipse cx="229" cy="192.9" rx="4" ry="4"/>
<ellipse cx="240.2" cy="197.9" rx="5.6" ry="5.6"/>
<ellipse cx="230.2" cy="171.7" rx="5.6" ry="8" transform="rotate(-20 230.2 171.7)"/>
<ellipse cx="235.2" cy="133.2" rx="4" ry="5.6"/>
<ellipse cx="225.2" cy="126.9" rx="4.8" ry="5.6"/>
<ellipse cx="253.9" cy="115.7" rx="6.4" ry="7.2" transform="rotate(20 253.9 115.7)"/>
<ellipse cx="258.8" cy="122" rx="3.2" ry="5.6"/>
<ellipse cx="272.5" cy="131.9" rx="4.8" ry="4.8"/>
<ellipse cx="277.5" cy="126.9" rx="4" ry="5.6"/>
<ellipse cx="262.6" cy="179.2" rx="7.2" ry="8.8"/>
<ellipse cx="255.1" cy="160.5" rx="3.2" ry="5.6"/>
<ellipse cx="200.3" cy="222.7" rx="4.8" ry="4"/>
<ellipse cx="227.7" cy="225.2" rx="4.8" ry="3.2"/>
<ellipse cx="238.9" cy="233.9" rx="5.6" ry="4.8"/>
<ellipse cx="252.6" cy="227.7" rx="4.8" ry="3.2"/>
<ellipse cx="273.8" cy="205.3" rx="5.6" ry="4"/>
<ellipse cx="281.2" cy="212.8" rx="4.8" ry="4"/>
<ellipse cx="294.9" cy="209.1" rx="4.8" ry="4"/>
<ellipse cx="209.1" cy="232.7" rx="4" ry="3.2"/>
<ellipse cx="171.7" cy="241.4" rx="4.8" ry="4.8"/>
<ellipse cx="159.3" cy="247.6" rx="5.6" ry="4.8"/>
<ellipse cx="169.2" cy="253.9" rx="4" ry="4"/>
<ellipse cx="143.1" cy="255.1" rx="6.4" ry="3.2"/>
<ellipse cx="199.1" cy="251.4" rx="3.8" ry="4.8"/>
<ellipse cx="212" cy="270.5" rx="3.2" ry="3.8"/>
<ellipse cx="185.4" cy="267.5" rx="6.4" ry="4"/>
<ellipse cx="171.7" cy="263.8" rx="4.8" ry="3.2"/>
<ellipse cx="171.7" cy="283.7" rx="8" ry="3.2"/>
<ellipse cx="156.8" cy="294.9" rx="9.6" ry="3.2"/>
<ellipse cx="206.6" cy="293.7" rx="9.6" ry="2.4"/>
<ellipse cx="229" cy="298.7" rx="8" ry="3.2"/>
<ellipse cx="207.8" cy="315.6" rx="17.5" ry="4" transform="rotate(-5 207.8 315.6)"/>
<ellipse cx="245.1" cy="321.1" rx="12.7" ry="2.9"/>
<ellipse cx="301.1" cy="323.5" rx="14.3" ry="4" transform="rotate(-8 301.1 323.5)"/>
<ellipse cx="334.7" cy="332.3" rx="9.6" ry="4.8" transform="rotate(-10 334.7 332.3)"/>
<ellipse cx="235.2" cy="245.1" rx="6.4" ry="5.6"/>
<ellipse cx="246.4" cy="247.6" rx="4.8" ry="4"/>
<ellipse cx="266.3" cy="252.6" rx="6.4" ry="4"/>
<ellipse cx="275" cy="252.6" rx="4" ry="4.8"/>
<ellipse cx="292.4" cy="253.9" rx="5.6" ry="7.2" transform="rotate(-20 292.4 253.9)"/>
<ellipse cx="309.9" cy="250.1" rx="5.6" ry="4"/>
<ellipse cx="281.2" cy="233.9" rx="6.4" ry="3.2" transform="rotate(20 281.2 233.9)"/>
<ellipse cx="134.4" cy="33.6" rx="4.8" ry="7.2"/>
<ellipse cx="141.9" cy="34.8" rx="4" ry="6.4"/>
<ellipse cx="372.1" cy="120.7" rx="6.4" ry="6.4"/>
<ellipse cx="328.5" cy="149.3" rx="4" ry="7.2" transform="rotate(20 328.5 149.3)"/>
<ellipse cx="337.2" cy="158" rx="6.4" ry="5.6"/>
<ellipse cx="358.4" cy="170.5" rx="3.2" ry="6.4" transform="rotate(20 358.4 170.5)"/>
<ellipse cx="359.6" cy="192.9" rx="4.8" ry="6.4" transform="rotate(20 359.6 192.9)"/>
<ellipse cx="397" cy="161.8" rx="6.4" ry="5.6"/>
<ellipse cx="394.5" cy="182.9" rx="4" ry="4.8"/>
<ellipse cx="404.4" cy="192.9" rx="4.8" ry="4"/>
<ellipse cx="420.6" cy="226.5" rx="6.4" ry="6.4"/>
<ellipse cx="374.6" cy="261.3" rx="4" ry="4.8"/>
<ellipse cx="400.7" cy="261.3" rx="5.6" ry="3.2"/>
<ellipse cx="350.9" cy="253.9" rx="4" ry="4"/>
<ellipse cx="173" cy="347.2" rx="5.6" ry="7.2"/>
<ellipse cx="217.8" cy="348.4" rx="4" ry="6.4"/>
<ellipse cx="206.6" cy="358.4" rx="3.2" ry="4.8"/>
<ellipse cx="258.8" cy="355.9" rx="6.4" ry="4.8" transform="rotate(-20 258.8 355.9)"/>
<ellipse cx="302.4" cy="353.4" rx="6.4" ry="5.6"/>
<ellipse cx="318.6" cy="355.9" rx="4.8" ry="6.4" transform="rotate(20 318.6 355.9)"/>
<ellipse cx="293.7" cy="365.9" rx="5.6" ry="4" transform="rotate(-20 293.7 365.9)"/>
<ellipse cx="331" cy="364.6" rx="4.8" ry="5.6"/>
<ellipse cx="311.1" cy="370.8" rx="4.8" ry="4"/>
<ellipse cx="221.5" cy="375.8" rx="3.2" ry="6.4" transform="rotate(20 221.5 375.8)"/>
<ellipse cx="235.2" cy="373.3" rx="4" ry="5.6"/>
<ellipse cx="176.7" cy="382" rx="4.8" ry="6.4"/>
<ellipse cx="267.5" cy="379.5" rx="4" ry="5.6"/>
<ellipse cx="281.2" cy="388.3" rx="4.8" ry="5.6"/>
<ellipse cx="273.8" cy="400.7" rx="4" ry="4.8"/>
<ellipse cx="308.6" cy="406.9" rx="5.6" ry="4"/>
<ellipse cx="328.5" cy="393.2" rx="4" ry="5.6" transform="rotate(30 328.5 393.2)"/>
<ellipse cx="353.4" cy="370.8" rx="4" ry="4.8"/>
<ellipse cx="338.5" cy="379.5" rx="4" ry="4"/>
<ellipse cx="263.8" cy="415.6" rx="4.8" ry="4"/>
<ellipse cx="219" cy="411.9" rx="4.8" ry="4.8"/>
<ellipse cx="230.2" cy="400.7" rx="3.2" ry="4"/>
<ellipse cx="204.1" cy="387" rx="3.2" ry="4"/>
<ellipse cx="179.2" cy="393.2" rx="4" ry="4.8"/>
<ellipse cx="148.1" cy="387" rx="4" ry="5.6"/>
<ellipse cx="117" cy="384.5" rx="4" ry="4"/>
<ellipse cx="126.9" cy="373.3" rx="4" ry="3.2"/>
<ellipse cx="79.6" cy="365.9" rx="4" ry="3.2"/>
<ellipse cx="105.8" cy="365.9" rx="3.2" ry="3.2"/>
<ellipse cx="362.1" cy="395.7" rx="3.2" ry="4"/>
<ellipse cx="298.7" cy="388.3" rx="3.2" ry="4"/>
<ellipse cx="365.9" cy="353.4" rx="3.2" ry="4"/>
<ellipse cx="385.8" cy="358.4" rx="3.2" ry="3.2"/>
<ellipse cx="348.4" cy="345.9" rx="4" ry="4"/>
<ellipse cx="72.2" cy="94.6" rx="3.5" ry="5.1" transform="rotate(25 72.2 94.6)"/>
<ellipse cx="74.7" cy="100.8" rx="3.5" ry="2.9"/>
<ellipse cx="49.8" cy="103.3" rx="4.5" ry="4"/>
<ellipse cx="251.4" cy="57.2" rx="4.5" ry="7.2" transform="rotate(25 251.4 57.2)"/>
</g>
<g fill="#20e620" filter="url(#rg)" style="mix-blend-mode:screen" opacity="0.35">
<ellipse cx="95.8" cy="59" rx="5.6" ry="3.9" opacity="0.8"/>
<ellipse cx="181.2" cy="72.7" rx="3.9" ry="5.6" opacity="0.9"/>
<ellipse cx="251.9" cy="118" rx="5.8" ry="6.3" opacity="0.95"/>
<ellipse cx="146.8" cy="136.1" rx="4.5" ry="3.4" opacity="0.8"/>
<ellipse cx="150.6" cy="176" rx="5.2" ry="7.8" opacity="0.95"/>
<ellipse cx="156.3" cy="163.5" rx="1.3" ry="4.5" opacity="0.7"/>
<ellipse cx="263.3" cy="180.2" rx="9.5" ry="10.1" opacity="0.95"/>
<ellipse cx="276.3" cy="185.2" rx="6.7" ry="3.4" opacity="0.85"/>
<ellipse cx="270" cy="189.6" rx="5.6" ry="3.9" opacity="0.8"/>
<ellipse cx="313.1" cy="167.7" rx="6.2" ry="6.7" opacity="0.95"/>
<ellipse cx="334.7" cy="163.5" rx="7.8" ry="6.7" opacity="0.95"/>
<ellipse cx="329.8" cy="172.2" rx="4.5" ry="2.8" opacity="0.8"/>
<ellipse cx="358.4" cy="193.4" rx="6.2" ry="7.3" opacity="0.95"/>
<ellipse cx="395.7" cy="182.2" rx="4.5" ry="7.8" opacity="0.9"/>
<ellipse cx="199.1" cy="207.1" rx="5" ry="6.2" opacity="0.9"/>
<ellipse cx="214" cy="212" rx="4.5" ry="6.7" opacity="0.9"/>
<ellipse cx="273.8" cy="205.8" rx="4.7" ry="4.5" opacity="0.9"/>
<ellipse cx="284.2" cy="214.5" rx="5.8" ry="4" opacity="0.9"/>
<ellipse cx="199.1" cy="223.2" rx="5.8" ry="5.6" opacity="0.9"/>
<ellipse cx="238.9" cy="234.4" rx="6.9" ry="5" opacity="0.9"/>
<ellipse cx="200.3" cy="253.1" rx="8.1" ry="7.4" opacity="0.95"/>
<ellipse cx="215.3" cy="258.1" rx="4.5" ry="3.4" opacity="0.7"/>
<ellipse cx="420.6" cy="228.2" rx="7.8" ry="5.6" opacity="0.9"/>
<ellipse cx="403.2" cy="258.1" rx="9.2" ry="7.8" opacity="1.0"/>
<ellipse cx="408.2" cy="246.9" rx="3.4" ry="4.5" opacity="0.9"/>
<ellipse cx="166.7" cy="284.2" rx="10.8" ry="2.9" opacity="0.95"/>
<ellipse cx="74.7" cy="340.2" rx="5.6" ry="3.9" opacity="0.45"/>
<ellipse cx="174.2" cy="347.7" rx="5.6" ry="5.6" opacity="0.5"/>
<ellipse cx="104.5" cy="358.9" rx="3.9" ry="5.6" opacity="0.45"/>
<ellipse cx="129.4" cy="385" rx="6.2" ry="4.5" opacity="0.5"/>
<ellipse cx="424.3" cy="426.6" rx="6.2" ry="4.5" opacity="0.3"/>
<ellipse cx="221.5" cy="373.8" rx="3.4" ry="3.4" opacity="0.45"/>
<ellipse cx="235.2" cy="372.6" rx="3.4" ry="2.8" opacity="0.45"/>
<ellipse cx="318.6" cy="353.9" rx="3.4" ry="2.8" opacity="0.4"/>
<ellipse cx="350.9" cy="371.3" rx="3.9" ry="3.4" opacity="0.45"/>
<ellipse cx="161.8" cy="297.9" rx="6.7" ry="4.5" opacity="0.4"/>
<ellipse cx="139.4" cy="306.6" rx="4.5" ry="4.5" opacity="0.35"/>
<ellipse cx="293.7" cy="284.2" rx="3.4" ry="2.8" opacity="0.5"/>
<ellipse cx="281.2" cy="251.9" rx="4.5" ry="2.8" opacity="0.4"/>
<ellipse cx="224" cy="256.8" rx="3.4" ry="3.4" opacity="0.35"/>
<ellipse cx="430.6" cy="324" rx="2.2" ry="4.5" opacity="0.4"/>
</g>
</g>
<rect x="0.5" y="0.5" width="432.4" height="432.4" fill="none" stroke="#333" stroke-width="1"/>
<path d="M273.8 208.4Q293.7 222.1 303.6 230.8Q313.6 239.5 323.5 247Q333.5 254.5 345.9 260.1Q358.4 265.7 373.3 270Q388.3 274.4 399.5 279.3Q410.7 284.3 418.7 288.7L426.8 293" fill="none" stroke="#fff" stroke-width="2.5" stroke-dasharray="8.5 5"/>
<path d="M104.5 289.3Q139.4 296.8 145.6 303.6Q151.8 310.5 161.8 320.8Q171.7 331.1 197.9 331.4Q224 331.6 231.5 334.1Q238.9 336.6 256.3 339.7Q273.8 342.8 294.9 344.1Q316.1 345.3 329.8 351.5Q343.5 357.7 355.9 362.7Q368.3 367.7 378.3 374.5Q388.3 381.4 398.2 391.3Q408.2 401.3 417.5 409.4L426.8 417.5" fill="none" stroke="#fff" stroke-width="2.5" stroke-dasharray="8.5 5"/>
<path d="M144.4 254.1L146.5 259.8L152.5 260L147.8 263.8L149.4 269.6L144.4 266.3L139.3 269.6L140.9 263.8L136.2 260L142.2 259.8Z" fill="#fff"/>
<path d="M201.6 288.6V264.9" stroke="#fff" stroke-width="2.4" fill="none"/>
<path d="M194.4 273.4L201.6 261.9L208.8 273.4L201.6 269.4Z" fill="#fff"/>
<rect x="0" y="-6.7" width="96" height="60.9" fill="#fdfdfd"/>
<text x="47.2" y="16.2" fill="#1fe01f" text-anchor="middle">CD11C</text>
<text x="47.4" y="45.6" fill="#1a80ff" text-anchor="middle">DAPI</text>
<text x="425.7" y="28.9" fill="#fff" text-anchor="end">Adventitia</text>
<text x="137.9" y="153.9" fill="#fff">Aneurysm</text>
<text x="268.5" y="313.4" fill="#fff">Media</text>
<text x="24.1" y="418.4" fill="#fff">Lumen</text>
<text x="427.6" y="407" fill="#e8202a" text-anchor="end">50 µm</text>
<path d="M373.8 417.6H408.2" stroke="#e8202a" stroke-width="2.4"/>
</g>
<g transform="translate(497 1302.4)">
<rect x="0" y="0" width="433.4" height="433.4" fill="#000"/>
<g clip-path="url(#gclip)">
<rect x="0" y="0" width="433.4" height="433.4" fill="#000" filter="url(#hz)"/>
<g fill="#0000a8" filter="url(#rn)" opacity="0.7">
<ellipse cx="32.4" cy="72.2" rx="8" ry="5.6"/>
<ellipse cx="37.3" cy="59.7" rx="4.8" ry="4"/>
<ellipse cx="62.2" cy="58.5" rx="8" ry="4"/>
<ellipse cx="89.6" cy="58.5" rx="4.8" ry="4"/>
<ellipse cx="27.4" cy="102" rx="4.8" ry="5.6"/>
<ellipse cx="34.8" cy="120.7" rx="4.8" ry="5.6"/>
<ellipse cx="54.8" cy="122" rx="4.8" ry="5.6"/>
<ellipse cx="122" cy="24.9" rx="4" ry="4"/>
<ellipse cx="149.3" cy="11.2" rx="4.8" ry="4.8"/>
<ellipse cx="154.3" cy="19.9" rx="4" ry="4"/>
<ellipse cx="177.9" cy="12.4" rx="4.8" ry="4"/>
<ellipse cx="185.4" cy="11.2" rx="4" ry="4"/>
<ellipse cx="184.2" cy="26.1" rx="4" ry="3.2"/>
<ellipse cx="226.5" cy="24.9" rx="4" ry="3.2"/>
<ellipse cx="235.2" cy="38.6" rx="4.8" ry="5.6"/>
<ellipse cx="216.5" cy="46" rx="4.8" ry="4.8"/>
<ellipse cx="246.4" cy="44.8" rx="6.4" ry="4.8"/>
<ellipse cx="238.9" cy="57.2" rx="4.8" ry="4.8"/>
<ellipse cx="216.5" cy="56" rx="4" ry="3.2"/>
<ellipse cx="267.5" cy="62.2" rx="4" ry="4"/>
<ellipse cx="261.3" cy="83.4" rx="4" ry="3.2"/>
<ellipse cx="262.6" cy="99.6" rx="5.6" ry="5.6"/>
<ellipse cx="314.8" cy="75.9" rx="4.8" ry="5.6"/>
<ellipse cx="342.2" cy="74.7" rx="4.8" ry="4"/>
<ellipse cx="336" cy="63.5" rx="4" ry="3.2"/>
<ellipse cx="398.2" cy="97.1" rx="4" ry="4.8"/>
<ellipse cx="418.1" cy="138.1" rx="4.8" ry="4.8"/>
<ellipse cx="430.6" cy="174.2" rx="2.4" ry="4.8"/>
<ellipse cx="399.5" cy="212.8" rx="4.8" ry="4"/>
<ellipse cx="209.1" cy="99.6" rx="3.2" ry="3.2"/>
<ellipse cx="211.5" cy="82.1" rx="3.2" ry="3.2"/>
<ellipse cx="296.2" cy="129.4" rx="3.2" ry="3.2"/>
<ellipse cx="311.1" cy="141.9" rx="3.2" ry="4.8"/>
<ellipse cx="380.8" cy="159.3" rx="2.4" ry="4"/>
<ellipse cx="343.5" cy="171.7" rx="3.2" ry="4"/>
<ellipse cx="418.1" cy="117" rx="3.2" ry="4"/>
<ellipse cx="64.7" cy="156.8" rx="4" ry="7.2"/>
<ellipse cx="72.2" cy="171.7" rx="3.2" ry="3.2"/>
<ellipse cx="94.6" cy="146.8" rx="3.2" ry="3.2"/>
<ellipse cx="291.2" cy="219" rx="4" ry="3.2"/>
<ellipse cx="321.1" cy="251.4" rx="4" ry="3.2"/>
<ellipse cx="358.4" cy="273.8" rx="4.8" ry="2.4"/>
<ellipse cx="385.8" cy="323.5" rx="8" ry="3.2"/>
<ellipse cx="331" cy="308.6" rx="6.4" ry="2.9"/>
<ellipse cx="368.3" cy="301.1" rx="4.8" ry="3.2"/>
<ellipse cx="410.7" cy="343.5" rx="4.8" ry="3.2"/>
<ellipse cx="388.3" cy="378.3" rx="4" ry="3.2"/>
<ellipse cx="408.2" cy="388.3" rx="3.2" ry="4"/>
<ellipse cx="373.3" cy="408.2" rx="3.2" ry="4"/>
<ellipse cx="343.5" cy="408.2" rx="4" ry="3.2"/>
<ellipse cx="331" cy="415.6" rx="4" ry="3.2"/>
<ellipse cx="288.7" cy="420.6" rx="4" ry="3.2"/>
<ellipse cx="243.9" cy="398.2" rx="3.2" ry="4"/>
<ellipse cx="194.1" cy="368.3" rx="4" ry="4"/>
<ellipse cx="159.3" cy="365.9" rx="3.2" ry="4"/>
<ellipse cx="139.4" cy="368.3" rx="3.2" ry="3.2"/>
<ellipse cx="49.8" cy="353.4" rx="4.8" ry="3.2"/>
<ellipse cx="22.4" cy="360.9" rx="4.8" ry="4"/>
<ellipse cx="10" cy="311.1" rx="4" ry="3.2"/>
<ellipse cx="17.4" cy="288.7" rx="4.8" ry="3.2"/>
<ellipse cx="112" cy="278.7" rx="4.8" ry="3.2"/>
<ellipse cx="129.4" cy="283.7" rx="4.8" ry="3.2"/>
<ellipse cx="117" cy="258.8" rx="4.8" ry="3.2"/>
<ellipse cx="134.4" cy="321.1" rx="4.8" ry="4.8"/>
<ellipse cx="104.5" cy="308.6" rx="4.8" ry="4"/>
<ellipse cx="79.6" cy="321.1" rx="4.8" ry="3.2"/>
<ellipse cx="24.9" cy="323.5" rx="4.8" ry="3.2"/>
<ellipse cx="194.1" cy="34.8" rx="3.2" ry="2.4"/>
<ellipse cx="281.2" cy="24.9" rx="3.2" ry="3.2"/>
<ellipse cx="298.7" cy="14.9" rx="3.2" ry="3.2"/>
<ellipse cx="331" cy="42.3" rx="4" ry="2.4"/>
<ellipse cx="365.9" cy="54.8" rx="4" ry="2.4"/>
<ellipse cx="388.3" cy="34.8" rx="4" ry="1.9"/>
<ellipse cx="410.7" cy="57.2" rx="4.8" ry="1.9"/>
<ellipse cx="423.1" cy="82.1" rx="3.2" ry="4"/>
<ellipse cx="425.6" cy="104.5" rx="2.4" ry="3.2"/>
<ellipse cx="353.4" cy="107" rx="3.2" ry="3.2"/>
<ellipse cx="286.2" cy="97.1" rx="3.2" ry="3.2"/>
<ellipse cx="164.3" cy="104.5" rx="3.2" ry="3.2"/>
<ellipse cx="109.5" cy="82.1" rx="4" ry="3.2"/>
<ellipse cx="5" cy="102" rx="3.2" ry="3.2"/>
<ellipse cx="7.5" cy="154.3" rx="2.4" ry="3.2"/>
<ellipse cx="37.3" cy="375.8" rx="4" ry="3.2"/>
<ellipse cx="14.9" cy="373.3" rx="4.8" ry="3.2"/>
<ellipse cx="62.2" cy="388.3" rx="4" ry="3.2"/>
<ellipse cx="44.8" cy="395.7" rx="3.2" ry="3.2"/>
</g>
<g fill="none" stroke="#000058" stroke-width="1.4" opacity="0.9" filter="url(#rf)">
<path d="M149.3 273.1Q174.2 276.9 186.7 278.1Q199.1 279.3 211.5 280.6Q224 281.8 231.5 283.7Q238.9 285.6 243.9 281.2Q248.9 276.9 256.3 276.9Q263.8 276.9 267.5 281.8Q271.3 286.8 276.3 281.8Q281.2 276.9 285 280.6Q288.7 284.3 293.7 280.6Q298.7 276.9 306.1 273.1Q313.6 269.4 322.3 268.1Q331 266.9 337.2 269.4Q343.5 271.9 345.9 278.1Q348.4 284.3 353.4 285.6Q358.4 286.8 365.9 284.3Q373.3 281.8 380.8 279.3L388.3 276.9"/>
<path d="M251.4 260.7Q268.8 264.4 273.8 269.4Q278.7 274.4 283.7 280.6Q288.7 286.8 293.7 290.5L298.7 294.3"/>
<path d="M214 308Q229 311.7 238.9 310.5Q248.9 309.2 258.8 309.8Q268.8 310.5 283.7 311.1Q298.7 311.7 316.1 312.9Q333.5 314.2 341 311.7Q348.4 309.2 353.4 306.7Q358.4 304.2 363.4 308Q368.3 311.7 374.6 312.9Q380.8 314.2 387 311.7Q393.2 309.2 398.2 312.9Q403.2 316.7 406.9 322.9Q410.7 329.1 416.9 332.9Q423.1 336.6 428.1 334.1L433.1 331.6"/>
<path d="M311.1 284.3Q321.1 294.3 326 290.5Q331 286.8 333.5 291.8Q336 296.8 342.2 300.5L348.4 304.2"/>
<path d="M358.4 324.1Q365.9 334.1 370.8 332.9Q375.8 331.6 378.3 337.8Q380.8 344.1 385.8 345.3Q390.7 346.5 394.5 351.5Q398.2 356.5 403.2 357.7Q408.2 359 411.9 364Q415.6 368.9 419.4 375.2Q423.1 381.4 426.8 385.1L430.6 388.9"/>
</g>
<g fill="#ff1020" filter="url(#rg)">
<ellipse cx="199.1" cy="251.9" rx="9.4" ry="8.6" opacity="1.0"/>
<ellipse cx="149.3" cy="391.2" rx="4.3" ry="2" opacity="0.9"/>
<ellipse cx="189.1" cy="408.2" rx="4.3" ry="2" opacity="0.9"/>
<ellipse cx="219" cy="420.1" rx="5.7" ry="1.7" opacity="0.9"/>
<ellipse cx="251.4" cy="425.1" rx="7.2" ry="2.3" opacity="0.9"/>
<ellipse cx="267.5" cy="430.6" rx="4.3" ry="1.7" opacity="0.9"/>
<ellipse cx="57.2" cy="368.8" rx="5.7" ry="2" opacity="0.8"/>
<ellipse cx="206.6" cy="260.1" rx="5.7" ry="3.6" opacity="0.8"/>
<ellipse cx="212.8" cy="270.8" rx="6.9" ry="6.3" opacity="0.9"/>
<ellipse cx="231.5" cy="206.1" rx="6.6" ry="6" opacity="0.75"/>
<ellipse cx="263.8" cy="181.2" rx="7.9" ry="7.2" opacity="0.3"/>
<ellipse cx="313.1" cy="167.2" rx="5.2" ry="5.7" opacity="0.35"/>
<ellipse cx="125.7" cy="383.3" rx="10.7" ry="7.2" opacity="1.0"/>
<ellipse cx="168" cy="378.3" rx="6" ry="6" opacity="1.0"/>
<ellipse cx="72.2" cy="365.4" rx="10" ry="4" opacity="0.8"/>
<ellipse cx="85.9" cy="369.6" rx="5.7" ry="3.1" opacity="0.8"/>
<ellipse cx="103.3" cy="384.5" rx="4.3" ry="2.9" opacity="0.7"/>
<ellipse cx="428.1" cy="430.6" rx="4.3" ry="2.1" opacity="0.6"/>
<ellipse cx="53.5" cy="124.4" rx="3.6" ry="4.3" opacity="0.35"/>
<ellipse cx="27.4" cy="100.8" rx="4" ry="4.3" opacity="0.35"/>
<ellipse cx="68.4" cy="99.6" rx="3.6" ry="2.9" opacity="0.35"/>
<ellipse cx="174.2" cy="87.1" rx="3.6" ry="1.7" opacity="0.4"/>
<ellipse cx="166.7" cy="115.7" rx="3.6" ry="2.1" opacity="0.3"/>
<ellipse cx="252.6" cy="122" rx="2.1" ry="2.1" opacity="0.4"/>
<ellipse cx="286.2" cy="98.3" rx="2.9" ry="1.4" opacity="0.3"/>
<ellipse cx="125.7" cy="41.1" rx="1.4" ry="1.4" opacity="0.5"/>
<path d="M49.8 371.3L62.2 367.1L74.7 365.4L87.1 368.8L95.8 378.3L104.5 385.3L117 382L129.4 385.3L140.6 388.8L151.8 392L161.8 388.3L171.7 391.2L182.9 401.9L196.6 411.9L209.1 416.9L224 420.1L236.4 423.6L248.9 423.1L258.8 428.6L271.3 432.1" fill="none" stroke="#f01020" stroke-width="3.2" stroke-linejoin="round"/>
</g>
<g fill="#0606ff" filter="url(#rn)">
<ellipse cx="7.5" cy="179.7" rx="4.8" ry="6.4"/>
<ellipse cx="22.4" cy="191.6" rx="6.4" ry="5.6"/>
<ellipse cx="24.9" cy="212.8" rx="6.4" ry="5.6"/>
<ellipse cx="17.4" cy="216.5" rx="4.8" ry="4"/>
<ellipse cx="46" cy="179.2" rx="3.2" ry="3.2"/>
<ellipse cx="66" cy="197.9" rx="6.4" ry="8" transform="rotate(-30 66 197.9)"/>
<ellipse cx="72.2" cy="180.4" rx="4" ry="5.6"/>
<ellipse cx="46" cy="216.5" rx="5.6" ry="4.8"/>
<ellipse cx="44.8" cy="225.2" rx="7.2" ry="5.6"/>
<ellipse cx="57.2" cy="210.3" rx="4.8" ry="4.8"/>
<ellipse cx="58.5" cy="220.3" rx="4.8" ry="4"/>
<ellipse cx="73.4" cy="219" rx="4.8" ry="4"/>
<ellipse cx="79.6" cy="225.2" rx="8" ry="4"/>
<ellipse cx="87.1" cy="215.3" rx="4" ry="4.8"/>
<ellipse cx="105.8" cy="199.1" rx="6.4" ry="4.8"/>
<ellipse cx="117" cy="197.9" rx="4" ry="4"/>
<ellipse cx="108.3" cy="219" rx="6.4" ry="6.4"/>
<ellipse cx="122" cy="225.2" rx="4.8" ry="4"/>
<ellipse cx="130.7" cy="238.9" rx="4.8" ry="4.8"/>
<ellipse cx="77.2" cy="240.2" rx="5.6" ry="6.4"/>
<ellipse cx="98.3" cy="238.9" rx="4.8" ry="4"/>
<ellipse cx="107" cy="242.7" rx="7.2" ry="4"/>
<ellipse cx="46" cy="236.4" rx="6.4" ry="4"/>
<ellipse cx="44.8" cy="245.1" rx="6.4" ry="4"/>
<ellipse cx="21.2" cy="236.4" rx="4" ry="4"/>
<ellipse cx="12.4" cy="238.9" rx="4" ry="3.2"/>
<ellipse cx="74.7" cy="253.9" rx="5.6" ry="4.8"/>
<ellipse cx="74.7" cy="261.8" rx="8" ry="4"/>
<ellipse cx="89.6" cy="263.3" rx="8" ry="4.8"/>
<ellipse cx="10" cy="257.6" rx="5.6" ry="4"/>
<ellipse cx="36.1" cy="268.8" rx="6.4" ry="4"/>
<ellipse cx="33.6" cy="281.2" rx="6.4" ry="3.2"/>
<ellipse cx="59.7" cy="275" rx="5.6" ry="3.2"/>
<ellipse cx="80.9" cy="286.2" rx="4.8" ry="5.6"/>
<ellipse cx="88.4" cy="297.4" rx="5.6" ry="4"/>
<ellipse cx="54.8" cy="307.4" rx="4" ry="4.8"/>
<ellipse cx="36.1" cy="313.6" rx="8" ry="4.8"/>
<ellipse cx="63.5" cy="317.3" rx="6.4" ry="3.2"/>
<ellipse cx="7.5" cy="332.3" rx="4.8" ry="4"/>
<ellipse cx="37.3" cy="332.3" rx="4" ry="4"/>
<ellipse cx="74.7" cy="338.5" rx="8" ry="5.6" transform="rotate(20 74.7 338.5)"/>
<ellipse cx="6.2" cy="343.5" rx="4.8" ry="4.8"/>
<ellipse cx="32.4" cy="345.9" rx="6.4" ry="4.8"/>
<ellipse cx="109.5" cy="332.3" rx="8" ry="4" transform="rotate(15 109.5 332.3)"/>
<ellipse cx="103.3" cy="355.9" rx="4" ry="6.4"/>
<ellipse cx="125.7" cy="345.9" rx="4" ry="5.6"/>
<ellipse cx="143.1" cy="348.4" rx="4.8" ry="4"/>
<ellipse cx="120.7" cy="363.4" rx="4" ry="4.8"/>
<ellipse cx="129.4" cy="308.6" rx="4" ry="5.6"/>
<ellipse cx="134.4" cy="128.2" rx="5.6" ry="5.6"/>
<ellipse cx="143.1" cy="136.9" rx="5.6" ry="4"/>
<ellipse cx="129.4" cy="144.4" rx="4.8" ry="4"/>
<ellipse cx="171.7" cy="159.3" rx="4.8" ry="4"/>
<ellipse cx="181.7" cy="73.4" rx="4.8" ry="4.8"/>
<ellipse cx="140.6" cy="73.4" rx="5.6" ry="4.8"/>
<ellipse cx="148.1" cy="179.2" rx="5.6" ry="7.2"/>
<ellipse cx="199.1" cy="182.9" rx="4.8" ry="4"/>
<ellipse cx="186.7" cy="194.1" rx="4.8" ry="4.8"/>
<ellipse cx="195.4" cy="205.3" rx="4.8" ry="6.4"/>
<ellipse cx="212.8" cy="213.5" rx="6.4" ry="6.4"/>
<ellipse cx="217.8" cy="194.1" rx="4" ry="4.8"/>
<ellipse cx="229" cy="192.9" rx="4" ry="4"/>
<ellipse cx="240.2" cy="197.9" rx="5.6" ry="5.6"/>
<ellipse cx="230.2" cy="171.7" rx="5.6" ry="8" transform="rotate(-20 230.2 171.7)"/>
<ellipse cx="235.2" cy="133.2" rx="4" ry="5.6"/>
<ellipse cx="225.2" cy="126.9" rx="4.8" ry="5.6"/>
<ellipse cx="253.9" cy="115.7" rx="6.4" ry="7.2" transform="rotate(20 253.9 115.7)"/>
<ellipse cx="258.8" cy="122" rx="3.2" ry="5.6"/>
<ellipse cx="272.5" cy="131.9" rx="4.8" ry="4.8"/>
<ellipse cx="277.5" cy="126.9" rx="4" ry="5.6"/>
<ellipse cx="262.6" cy="179.2" rx="7.2" ry="8.8"/>
<ellipse cx="255.1" cy="160.5" rx="3.2" ry="5.6"/>
<ellipse cx="200.3" cy="222.7" rx="4.8" ry="4"/>
<ellipse cx="227.7" cy="225.2" rx="4.8" ry="3.2"/>
<ellipse cx="238.9" cy="233.9" rx="5.6" ry="4.8"/>
<ellipse cx="252.6" cy="227.7" rx="4.8" ry="3.2"/>
<ellipse cx="273.8" cy="205.3" rx="5.6" ry="4"/>
<ellipse cx="281.2" cy="212.8" rx="4.8" ry="4"/>
<ellipse cx="294.9" cy="209.1" rx="4.8" ry="4"/>
<ellipse cx="209.1" cy="232.7" rx="4" ry="3.2"/>
<ellipse cx="171.7" cy="241.4" rx="4.8" ry="4.8"/>
<ellipse cx="159.3" cy="247.6" rx="5.6" ry="4.8"/>
<ellipse cx="169.2" cy="253.9" rx="4" ry="4"/>
<ellipse cx="143.1" cy="255.1" rx="6.4" ry="3.2"/>
<ellipse cx="199.1" cy="251.4" rx="3.8" ry="4.8"/>
<ellipse cx="212" cy="270.5" rx="3.2" ry="3.8"/>
<ellipse cx="185.4" cy="267.5" rx="6.4" ry="4"/>
<ellipse cx="171.7" cy="263.8" rx="4.8" ry="3.2"/>
<ellipse cx="171.7" cy="283.7" rx="8" ry="3.2"/>
<ellipse cx="156.8" cy="294.9" rx="9.6" ry="3.2"/>
<ellipse cx="206.6" cy="293.7" rx="9.6" ry="2.4"/>
<ellipse cx="229" cy="298.7" rx="8" ry="3.2"/>
<ellipse cx="207.8" cy="315.6" rx="17.5" ry="4" transform="rotate(-5 207.8 315.6)"/>
<ellipse cx="245.1" cy="321.1" rx="12.7" ry="2.9"/>
<ellipse cx="301.1" cy="323.5" rx="14.3" ry="4" transform="rotate(-8 301.1 323.5)"/>
<ellipse cx="334.7" cy="332.3" rx="9.6" ry="4.8" transform="rotate(-10 334.7 332.3)"/>
<ellipse cx="235.2" cy="245.1" rx="6.4" ry="5.6"/>
<ellipse cx="246.4" cy="247.6" rx="4.8" ry="4"/>
<ellipse cx="266.3" cy="252.6" rx="6.4" ry="4"/>
<ellipse cx="275" cy="252.6" rx="4" ry="4.8"/>
<ellipse cx="292.4" cy="253.9" rx="5.6" ry="7.2" transform="rotate(-20 292.4 253.9)"/>
<ellipse cx="309.9" cy="250.1" rx="5.6" ry="4"/>
<ellipse cx="281.2" cy="233.9" rx="6.4" ry="3.2" transform="rotate(20 281.2 233.9)"/>
<ellipse cx="134.4" cy="33.6" rx="4.8" ry="7.2"/>
<ellipse cx="141.9" cy="34.8" rx="4" ry="6.4"/>
<ellipse cx="372.1" cy="120.7" rx="6.4" ry="6.4"/>
<ellipse cx="328.5" cy="149.3" rx="4" ry="7.2" transform="rotate(20 328.5 149.3)"/>
<ellipse cx="337.2" cy="158" rx="6.4" ry="5.6"/>
<ellipse cx="358.4" cy="170.5" rx="3.2" ry="6.4" transform="rotate(20 358.4 170.5)"/>
<ellipse cx="359.6" cy="192.9" rx="4.8" ry="6.4" transform="rotate(20 359.6 192.9)"/>
<ellipse cx="397" cy="161.8" rx="6.4" ry="5.6"/>
<ellipse cx="394.5" cy="182.9" rx="4" ry="4.8"/>
<ellipse cx="404.4" cy="192.9" rx="4.8" ry="4"/>
<ellipse cx="420.6" cy="226.5" rx="6.4" ry="6.4"/>
<ellipse cx="374.6" cy="261.3" rx="4" ry="4.8"/>
<ellipse cx="400.7" cy="261.3" rx="5.6" ry="3.2"/>
<ellipse cx="350.9" cy="253.9" rx="4" ry="4"/>
<ellipse cx="173" cy="347.2" rx="5.6" ry="7.2"/>
<ellipse cx="217.8" cy="348.4" rx="4" ry="6.4"/>
<ellipse cx="206.6" cy="358.4" rx="3.2" ry="4.8"/>
<ellipse cx="258.8" cy="355.9" rx="6.4" ry="4.8" transform="rotate(-20 258.8 355.9)"/>
<ellipse cx="302.4" cy="353.4" rx="6.4" ry="5.6"/>
<ellipse cx="318.6" cy="355.9" rx="4.8" ry="6.4" transform="rotate(20 318.6 355.9)"/>
<ellipse cx="293.7" cy="365.9" rx="5.6" ry="4" transform="rotate(-20 293.7 365.9)"/>
<ellipse cx="331" cy="364.6" rx="4.8" ry="5.6"/>
<ellipse cx="311.1" cy="370.8" rx="4.8" ry="4"/>
<ellipse cx="221.5" cy="375.8" rx="3.2" ry="6.4" transform="rotate(20 221.5 375.8)"/>
<ellipse cx="235.2" cy="373.3" rx="4" ry="5.6"/>
<ellipse cx="176.7" cy="382" rx="4.8" ry="6.4"/>
<ellipse cx="267.5" cy="379.5" rx="4" ry="5.6"/>
<ellipse cx="281.2" cy="388.3" rx="4.8" ry="5.6"/>
<ellipse cx="273.8" cy="400.7" rx="4" ry="4.8"/>
<ellipse cx="308.6" cy="406.9" rx="5.6" ry="4"/>
<ellipse cx="328.5" cy="393.2" rx="4" ry="5.6" transform="rotate(30 328.5 393.2)"/>
<ellipse cx="353.4" cy="370.8" rx="4" ry="4.8"/>
<ellipse cx="338.5" cy="379.5" rx="4" ry="4"/>
<ellipse cx="263.8" cy="415.6" rx="4.8" ry="4"/>
<ellipse cx="219" cy="411.9" rx="4.8" ry="4.8"/>
<ellipse cx="230.2" cy="400.7" rx="3.2" ry="4"/>
<ellipse cx="204.1" cy="387" rx="3.2" ry="4"/>
<ellipse cx="179.2" cy="393.2" rx="4" ry="4.8"/>
<ellipse cx="148.1" cy="387" rx="4" ry="5.6"/>
<ellipse cx="117" cy="384.5" rx="4" ry="4"/>
<ellipse cx="126.9" cy="373.3" rx="4" ry="3.2"/>
<ellipse cx="79.6" cy="365.9" rx="4" ry="3.2"/>
<ellipse cx="105.8" cy="365.9" rx="3.2" ry="3.2"/>
<ellipse cx="362.1" cy="395.7" rx="3.2" ry="4"/>
<ellipse cx="298.7" cy="388.3" rx="3.2" ry="4"/>
<ellipse cx="365.9" cy="353.4" rx="3.2" ry="4"/>
<ellipse cx="385.8" cy="358.4" rx="3.2" ry="3.2"/>
<ellipse cx="348.4" cy="345.9" rx="4" ry="4"/>
<ellipse cx="72.2" cy="94.6" rx="3.5" ry="5.1" transform="rotate(25 72.2 94.6)"/>
<ellipse cx="74.7" cy="100.8" rx="3.5" ry="2.9"/>
<ellipse cx="49.8" cy="103.3" rx="4.5" ry="4"/>
<ellipse cx="251.4" cy="57.2" rx="4.5" ry="7.2" transform="rotate(25 251.4 57.2)"/>
</g>
<g fill="#ff1020" filter="url(#rg)" style="mix-blend-mode:screen" opacity="0.4">
<ellipse cx="199.1" cy="251.9" rx="7.4" ry="6.7" opacity="1.0"/>
<ellipse cx="149.3" cy="391.2" rx="3.4" ry="1.6" opacity="0.9"/>
<ellipse cx="189.1" cy="408.2" rx="3.4" ry="1.6" opacity="0.9"/>
<ellipse cx="219" cy="420.1" rx="4.5" ry="1.3" opacity="0.9"/>
<ellipse cx="251.4" cy="425.1" rx="5.6" ry="1.8" opacity="0.9"/>
<ellipse cx="267.5" cy="430.6" rx="3.4" ry="1.3" opacity="0.9"/>
<ellipse cx="57.2" cy="368.8" rx="4.5" ry="1.6" opacity="0.8"/>
<ellipse cx="206.6" cy="260.1" rx="4.5" ry="2.8" opacity="0.8"/>
<ellipse cx="212.8" cy="270.8" rx="5.4" ry="4.9" opacity="0.9"/>
<ellipse cx="231.5" cy="206.1" rx="5.2" ry="4.7" opacity="0.75"/>
<ellipse cx="263.8" cy="181.2" rx="6.2" ry="5.6" opacity="0.3"/>
<ellipse cx="313.1" cy="167.2" rx="4" ry="4.5" opacity="0.35"/>
<ellipse cx="125.7" cy="383.3" rx="8.4" ry="5.6" opacity="1.0"/>
<ellipse cx="168" cy="378.3" rx="4.7" ry="4.7" opacity="1.0"/>
<ellipse cx="72.2" cy="365.4" rx="7.8" ry="3.1" opacity="0.8"/>
<ellipse cx="85.9" cy="369.6" rx="4.5" ry="2.5" opacity="0.8"/>
<ellipse cx="103.3" cy="384.5" rx="3.4" ry="2.2" opacity="0.7"/>
<ellipse cx="428.1" cy="430.6" rx="3.4" ry="1.7" opacity="0.6"/>
<ellipse cx="53.5" cy="124.4" rx="2.8" ry="3.4" opacity="0.35"/>
<ellipse cx="27.4" cy="100.8" rx="3.1" ry="3.4" opacity="0.35"/>
<ellipse cx="68.4" cy="99.6" rx="2.8" ry="2.2" opacity="0.35"/>
<ellipse cx="174.2" cy="87.1" rx="2.8" ry="1.3" opacity="0.4"/>
<ellipse cx="166.7" cy="115.7" rx="2.8" ry="1.7" opacity="0.3"/>
<ellipse cx="252.6" cy="122" rx="1.7" ry="1.7" opacity="0.4"/>
<ellipse cx="286.2" cy="98.3" rx="2.2" ry="1.1" opacity="0.3"/>
<ellipse cx="125.7" cy="41.1" rx="1.1" ry="1.1" opacity="0.5"/>
</g>
</g>
<rect x="0.5" y="0.5" width="432.4" height="432.4" fill="none" stroke="#333" stroke-width="1"/>
<path d="M273.8 210.9Q293.7 223.3 303.6 231.4Q313.6 239.5 328.5 249.5Q343.5 259.4 358.4 265.7Q373.3 271.9 385.8 275.6Q398.2 279.3 410.7 286.8L423.1 294.3" fill="none" stroke="#fff" stroke-width="2.5" stroke-dasharray="8.5 5"/>
<path d="M100.8 288.1Q131.9 295.5 139.4 302.4Q146.8 309.2 153.1 316.7Q159.3 324.1 165.5 327.3Q171.7 330.4 191.6 330.4Q211.5 330.4 230.2 334.1Q248.9 337.8 277.5 340.9Q306.1 344.1 319.8 349Q333.5 354 350.9 362.7Q368.3 371.4 380.8 380.8Q393.2 390.1 401.9 399.4Q410.7 408.8 418.1 412.5L425.6 416.2" fill="none" stroke="#fff" stroke-width="2.5" stroke-dasharray="8.5 5"/>
<path d="M143.6 261.3L145.7 267L151.8 267.2L147 271L148.7 276.8L143.6 273.5L138.5 276.8L140.2 271L135.4 267.2L141.5 267Z" fill="#fff"/>
<path d="M198.4 296V271.1" stroke="#fff" stroke-width="2.4" fill="none"/>
<path d="M191.2 279.6L198.4 268.1L205.6 279.6L198.4 275.6Z" fill="#fff"/>
<rect x="-2.2" y="-6.7" width="96.8" height="60.9" fill="#fdfdfd"/>
<text x="48.5" y="15.6" fill="#ff1a1a" text-anchor="middle">FSCN1</text>
<text x="48.5" y="45.6" fill="#1a80ff" text-anchor="middle">DAPI</text>
<text x="425.2" y="28.9" fill="#fff" text-anchor="end">Adventitia</text>
<text x="146.6" y="153.9" fill="#fff">Aneurysm</text>
<text x="250.4" y="313.4" fill="#fff">Media</text>
<text x="28.3" y="418.4" fill="#fff">Lumen</text>
<text x="428.1" y="407" fill="#e8202a" text-anchor="end">50 µm</text>
<path d="M373.8 417.6H408.2" stroke="#e8202a" stroke-width="2.4"/>
</g>
<g transform="translate(956 1302.4)">
<rect x="0" y="0" width="433.4" height="433.4" fill="#000"/>
<g clip-path="url(#gclip)">
<rect x="0" y="0" width="433.4" height="433.4" fill="#000" filter="url(#hz)"/>
<g fill="#0000a8" filter="url(#rn)" opacity="0.7">
<ellipse cx="32.4" cy="72.2" rx="8" ry="5.6"/>
<ellipse cx="37.3" cy="59.7" rx="4.8" ry="4"/>
<ellipse cx="62.2" cy="58.5" rx="8" ry="4"/>
<ellipse cx="89.6" cy="58.5" rx="4.8" ry="4"/>
<ellipse cx="27.4" cy="102" rx="4.8" ry="5.6"/>
<ellipse cx="34.8" cy="120.7" rx="4.8" ry="5.6"/>
<ellipse cx="54.8" cy="122" rx="4.8" ry="5.6"/>
<ellipse cx="122" cy="24.9" rx="4" ry="4"/>
<ellipse cx="149.3" cy="11.2" rx="4.8" ry="4.8"/>
<ellipse cx="154.3" cy="19.9" rx="4" ry="4"/>
<ellipse cx="177.9" cy="12.4" rx="4.8" ry="4"/>
<ellipse cx="185.4" cy="11.2" rx="4" ry="4"/>
<ellipse cx="184.2" cy="26.1" rx="4" ry="3.2"/>
<ellipse cx="226.5" cy="24.9" rx="4" ry="3.2"/>
<ellipse cx="235.2" cy="38.6" rx="4.8" ry="5.6"/>
<ellipse cx="216.5" cy="46" rx="4.8" ry="4.8"/>
<ellipse cx="246.4" cy="44.8" rx="6.4" ry="4.8"/>
<ellipse cx="238.9" cy="57.2" rx="4.8" ry="4.8"/>
<ellipse cx="216.5" cy="56" rx="4" ry="3.2"/>
<ellipse cx="267.5" cy="62.2" rx="4" ry="4"/>
<ellipse cx="261.3" cy="83.4" rx="4" ry="3.2"/>
<ellipse cx="262.6" cy="99.6" rx="5.6" ry="5.6"/>
<ellipse cx="314.8" cy="75.9" rx="4.8" ry="5.6"/>
<ellipse cx="342.2" cy="74.7" rx="4.8" ry="4"/>
<ellipse cx="336" cy="63.5" rx="4" ry="3.2"/>
<ellipse cx="398.2" cy="97.1" rx="4" ry="4.8"/>
<ellipse cx="418.1" cy="138.1" rx="4.8" ry="4.8"/>
<ellipse cx="430.6" cy="174.2" rx="2.4" ry="4.8"/>
<ellipse cx="399.5" cy="212.8" rx="4.8" ry="4"/>
<ellipse cx="209.1" cy="99.6" rx="3.2" ry="3.2"/>
<ellipse cx="211.5" cy="82.1" rx="3.2" ry="3.2"/>
<ellipse cx="296.2" cy="129.4" rx="3.2" ry="3.2"/>
<ellipse cx="311.1" cy="141.9" rx="3.2" ry="4.8"/>
<ellipse cx="380.8" cy="159.3" rx="2.4" ry="4"/>
<ellipse cx="343.5" cy="171.7" rx="3.2" ry="4"/>
<ellipse cx="418.1" cy="117" rx="3.2" ry="4"/>
<ellipse cx="64.7" cy="156.8" rx="4" ry="7.2"/>
<ellipse cx="72.2" cy="171.7" rx="3.2" ry="3.2"/>
<ellipse cx="94.6" cy="146.8" rx="3.2" ry="3.2"/>
<ellipse cx="291.2" cy="219" rx="4" ry="3.2"/>
<ellipse cx="321.1" cy="251.4" rx="4" ry="3.2"/>
<ellipse cx="358.4" cy="273.8" rx="4.8" ry="2.4"/>
<ellipse cx="385.8" cy="323.5" rx="8" ry="3.2"/>
<ellipse cx="331" cy="308.6" rx="6.4" ry="2.9"/>
<ellipse cx="368.3" cy="301.1" rx="4.8" ry="3.2"/>
<ellipse cx="410.7" cy="343.5" rx="4.8" ry="3.2"/>
<ellipse cx="388.3" cy="378.3" rx="4" ry="3.2"/>
<ellipse cx="408.2" cy="388.3" rx="3.2" ry="4"/>
<ellipse cx="373.3" cy="408.2" rx="3.2" ry="4"/>
<ellipse cx="343.5" cy="408.2" rx="4" ry="3.2"/>
<ellipse cx="331" cy="415.6" rx="4" ry="3.2"/>
<ellipse cx="288.7" cy="420.6" rx="4" ry="3.2"/>
<ellipse cx="243.9" cy="398.2" rx="3.2" ry="4"/>
<ellipse cx="194.1" cy="368.3" rx="4" ry="4"/>
<ellipse cx="159.3" cy="365.9" rx="3.2" ry="4"/>
<ellipse cx="139.4" cy="368.3" rx="3.2" ry="3.2"/>
<ellipse cx="49.8" cy="353.4" rx="4.8" ry="3.2"/>
<ellipse cx="22.4" cy="360.9" rx="4.8" ry="4"/>
<ellipse cx="10" cy="311.1" rx="4" ry="3.2"/>
<ellipse cx="17.4" cy="288.7" rx="4.8" ry="3.2"/>
<ellipse cx="112" cy="278.7" rx="4.8" ry="3.2"/>
<ellipse cx="129.4" cy="283.7" rx="4.8" ry="3.2"/>
<ellipse cx="117" cy="258.8" rx="4.8" ry="3.2"/>
<ellipse cx="134.4" cy="321.1" rx="4.8" ry="4.8"/>
<ellipse cx="104.5" cy="308.6" rx="4.8" ry="4"/>
<ellipse cx="79.6" cy="321.1" rx="4.8" ry="3.2"/>
<ellipse cx="24.9" cy="323.5" rx="4.8" ry="3.2"/>
<ellipse cx="194.1" cy="34.8" rx="3.2" ry="2.4"/>
<ellipse cx="281.2" cy="24.9" rx="3.2" ry="3.2"/>
<ellipse cx="298.7" cy="14.9" rx="3.2" ry="3.2"/>
<ellipse cx="331" cy="42.3" rx="4" ry="2.4"/>
<ellipse cx="365.9" cy="54.8" rx="4" ry="2.4"/>
<ellipse cx="388.3" cy="34.8" rx="4" ry="1.9"/>
<ellipse cx="410.7" cy="57.2" rx="4.8" ry="1.9"/>
<ellipse cx="423.1" cy="82.1" rx="3.2" ry="4"/>
<ellipse cx="425.6" cy="104.5" rx="2.4" ry="3.2"/>
<ellipse cx="353.4" cy="107" rx="3.2" ry="3.2"/>
<ellipse cx="286.2" cy="97.1" rx="3.2" ry="3.2"/>
<ellipse cx="164.3" cy="104.5" rx="3.2" ry="3.2"/>
<ellipse cx="109.5" cy="82.1" rx="4" ry="3.2"/>
<ellipse cx="5" cy="102" rx="3.2" ry="3.2"/>
<ellipse cx="7.5" cy="154.3" rx="2.4" ry="3.2"/>
<ellipse cx="37.3" cy="375.8" rx="4" ry="3.2"/>
<ellipse cx="14.9" cy="373.3" rx="4.8" ry="3.2"/>
<ellipse cx="62.2" cy="388.3" rx="4" ry="3.2"/>
<ellipse cx="44.8" cy="395.7" rx="3.2" ry="3.2"/>
</g>
<g fill="none" stroke="#25aa88" stroke-width="1.5" opacity="0.95" filter="url(#rf)">
<path d="M149.3 273.1Q174.2 276.9 186.7 278.1Q199.1 279.3 211.5 280.6Q224 281.8 231.5 283.7Q238.9 285.6 243.9 281.2Q248.9 276.9 256.3 276.9Q263.8 276.9 267.5 281.8Q271.3 286.8 276.3 281.8Q281.2 276.9 285 280.6Q288.7 284.3 293.7 280.6Q298.7 276.9 306.1 273.1Q313.6 269.4 322.3 268.1Q331 266.9 337.2 269.4Q343.5 271.9 345.9 278.1Q348.4 284.3 353.4 285.6Q358.4 286.8 365.9 284.3Q373.3 281.8 380.8 279.3L388.3 276.9"/>
<path d="M251.4 260.7Q268.8 264.4 273.8 269.4Q278.7 274.4 283.7 280.6Q288.7 286.8 293.7 290.5L298.7 294.3"/>
<path d="M214 308Q229 311.7 238.9 310.5Q248.9 309.2 258.8 309.8Q268.8 310.5 283.7 311.1Q298.7 311.7 316.1 312.9Q333.5 314.2 341 311.7Q348.4 309.2 353.4 306.7Q358.4 304.2 363.4 308Q368.3 311.7 374.6 312.9Q380.8 314.2 387 311.7Q393.2 309.2 398.2 312.9Q403.2 316.7 406.9 322.9Q410.7 329.1 416.9 332.9Q423.1 336.6 428.1 334.1L433.1 331.6"/>
<path d="M311.1 284.3Q321.1 294.3 326 290.5Q331 286.8 333.5 291.8Q336 296.8 342.2 300.5L348.4 304.2"/>
<path d="M358.4 324.1Q365.9 334.1 370.8 332.9Q375.8 331.6 378.3 337.8Q380.8 344.1 385.8 345.3Q390.7 346.5 394.5 351.5Q398.2 356.5 403.2 357.7Q408.2 359 411.9 364Q415.6 368.9 419.4 375.2Q423.1 381.4 426.8 385.1L430.6 388.9"/>
<path d="M276.3 212.1Q298.7 232.1 311.1 242Q323.5 252 336 259.4Q348.4 266.9 360.9 270.6Q373.3 274.4 385.8 278.1Q398.2 281.8 410.7 286.8L423.1 291.8"/>
<path d="M109.5 291.8Q139.4 299.3 146.8 305.5Q154.3 311.7 161.8 320.4Q169.2 329.1 179.2 331.6Q189.1 334.1 206.6 334.1Q224 334.1 236.4 337.8Q248.9 341.6 280 344.1Q311.1 346.5 329.8 354Q348.4 361.5 360.9 366.5Q373.3 371.4 385.8 380.1Q398.2 388.9 410.7 403.8L423.1 418.7"/>
</g>
<g fill="#20e620" filter="url(#rg)">
<ellipse cx="95.8" cy="59" rx="6.5" ry="4.6" opacity="0.8"/>
<ellipse cx="181.2" cy="72.7" rx="4.6" ry="6.5" opacity="0.9"/>
<ellipse cx="251.9" cy="118" rx="6.8" ry="7.3" opacity="0.95"/>
<ellipse cx="146.8" cy="136.1" rx="5.2" ry="3.9" opacity="0.8"/>
<ellipse cx="150.6" cy="176" rx="6" ry="9.1" opacity="0.95"/>
<ellipse cx="156.3" cy="163.5" rx="1.6" ry="5.2" opacity="0.7"/>
<ellipse cx="263.3" cy="180.2" rx="11.1" ry="11.8" opacity="0.95"/>
<ellipse cx="276.3" cy="185.2" rx="7.8" ry="3.9" opacity="0.85"/>
<ellipse cx="270" cy="189.6" rx="6.5" ry="4.6" opacity="0.8"/>
<ellipse cx="313.1" cy="167.7" rx="7.2" ry="7.8" opacity="0.95"/>
<ellipse cx="334.7" cy="163.5" rx="9.1" ry="7.8" opacity="0.95"/>
<ellipse cx="329.8" cy="172.2" rx="5.2" ry="3.3" opacity="0.8"/>
<ellipse cx="358.4" cy="193.4" rx="7.2" ry="8.5" opacity="0.95"/>
<ellipse cx="395.7" cy="182.2" rx="5.2" ry="9.1" opacity="0.9"/>
<ellipse cx="199.1" cy="207.1" rx="5.9" ry="7.2" opacity="0.9"/>
<ellipse cx="214" cy="212" rx="5.2" ry="7.8" opacity="0.9"/>
<ellipse cx="273.8" cy="205.8" rx="5.5" ry="5.2" opacity="0.9"/>
<ellipse cx="284.2" cy="214.5" rx="6.8" ry="4.7" opacity="0.9"/>
<ellipse cx="199.1" cy="223.2" rx="6.8" ry="6.5" opacity="0.9"/>
<ellipse cx="238.9" cy="234.4" rx="8.1" ry="5.9" opacity="0.9"/>
<ellipse cx="200.3" cy="253.1" rx="9.4" ry="8.6" opacity="0.95"/>
<ellipse cx="215.3" cy="258.1" rx="5.2" ry="3.9" opacity="0.7"/>
<ellipse cx="420.6" cy="228.2" rx="9.1" ry="6.5" opacity="0.9"/>
<ellipse cx="403.2" cy="258.1" rx="10.7" ry="9.1" opacity="1.0"/>
<ellipse cx="408.2" cy="246.9" rx="3.9" ry="5.2" opacity="0.9"/>
<ellipse cx="166.7" cy="284.2" rx="12.5" ry="3.4" opacity="0.95"/>
<ellipse cx="74.7" cy="340.2" rx="6.5" ry="4.6" opacity="0.45"/>
<ellipse cx="174.2" cy="347.7" rx="6.5" ry="6.5" opacity="0.5"/>
<ellipse cx="104.5" cy="358.9" rx="4.6" ry="6.5" opacity="0.45"/>
<ellipse cx="129.4" cy="385" rx="7.2" ry="5.2" opacity="0.5"/>
<ellipse cx="424.3" cy="426.6" rx="7.2" ry="5.2" opacity="0.3"/>
<ellipse cx="221.5" cy="373.8" rx="3.9" ry="3.9" opacity="0.45"/>
<ellipse cx="235.2" cy="372.6" rx="3.9" ry="3.3" opacity="0.45"/>
<ellipse cx="318.6" cy="353.9" rx="3.9" ry="3.3" opacity="0.4"/>
<ellipse cx="350.9" cy="371.3" rx="4.6" ry="3.9" opacity="0.45"/>
<ellipse cx="161.8" cy="297.9" rx="7.8" ry="5.2" opacity="0.4"/>
<ellipse cx="139.4" cy="306.6" rx="5.2" ry="5.2" opacity="0.35"/>
<ellipse cx="293.7" cy="284.2" rx="3.9" ry="3.3" opacity="0.5"/>
<ellipse cx="281.2" cy="251.9" rx="5.2" ry="3.3" opacity="0.4"/>
<ellipse cx="224" cy="256.8" rx="3.9" ry="3.9" opacity="0.35"/>
<ellipse cx="430.6" cy="324" rx="2.6" ry="5.2" opacity="0.4"/>
</g>
<g fill="#ff1020" filter="url(#rg)">
<ellipse cx="199.1" cy="251.9" rx="9.4" ry="8.6" opacity="1.0"/>
<ellipse cx="149.3" cy="391.2" rx="4.3" ry="2" opacity="0.9"/>
<ellipse cx="189.1" cy="408.2" rx="4.3" ry="2" opacity="0.9"/>
<ellipse cx="219" cy="420.1" rx="5.7" ry="1.7" opacity="0.9"/>
<ellipse cx="251.4" cy="425.1" rx="7.2" ry="2.3" opacity="0.9"/>
<ellipse cx="267.5" cy="430.6" rx="4.3" ry="1.7" opacity="0.9"/>
<ellipse cx="57.2" cy="368.8" rx="5.7" ry="2" opacity="0.8"/>
<ellipse cx="206.6" cy="260.1" rx="5.7" ry="3.6" opacity="0.8"/>
<ellipse cx="212.8" cy="270.8" rx="6.9" ry="6.3" opacity="0.9"/>
<ellipse cx="231.5" cy="206.1" rx="6.6" ry="6" opacity="0.75"/>
<ellipse cx="263.8" cy="181.2" rx="7.9" ry="7.2" opacity="0.3"/>
<ellipse cx="313.1" cy="167.2" rx="5.2" ry="5.7" opacity="0.35"/>
<ellipse cx="125.7" cy="383.3" rx="10.7" ry="7.2" opacity="1.0"/>
<ellipse cx="168" cy="378.3" rx="6" ry="6" opacity="1.0"/>
<ellipse cx="72.2" cy="365.4" rx="10" ry="4" opacity="0.8"/>
<ellipse cx="85.9" cy="369.6" rx="5.7" ry="3.1" opacity="0.8"/>
<ellipse cx="103.3" cy="384.5" rx="4.3" ry="2.9" opacity="0.7"/>
<ellipse cx="428.1" cy="430.6" rx="4.3" ry="2.1" opacity="0.6"/>
<ellipse cx="53.5" cy="124.4" rx="3.6" ry="4.3" opacity="0.35"/>
<ellipse cx="27.4" cy="100.8" rx="4" ry="4.3" opacity="0.35"/>
<ellipse cx="68.4" cy="99.6" rx="3.6" ry="2.9" opacity="0.35"/>
<ellipse cx="174.2" cy="87.1" rx="3.6" ry="1.7" opacity="0.4"/>
<ellipse cx="166.7" cy="115.7" rx="3.6" ry="2.1" opacity="0.3"/>
<ellipse cx="252.6" cy="122" rx="2.1" ry="2.1" opacity="0.4"/>
<ellipse cx="286.2" cy="98.3" rx="2.9" ry="1.4" opacity="0.3"/>
<ellipse cx="125.7" cy="41.1" rx="1.4" ry="1.4" opacity="0.5"/>
<path d="M49.8 371.3L62.2 367.1L74.7 365.4L87.1 368.8L95.8 378.3L104.5 385.3L117 382L129.4 385.3L140.6 388.8L151.8 392L161.8 388.3L171.7 391.2L182.9 401.9L196.6 411.9L209.1 416.9L224 420.1L236.4 423.6L248.9 423.1L258.8 428.6L271.3 432.1" fill="none" stroke="#f01020" stroke-width="3.2" stroke-linejoin="round"/>
</g>
<g fill="#0606ff" filter="url(#rn)">
<ellipse cx="7.5" cy="179.7" rx="4.8" ry="6.4"/>
<ellipse cx="22.4" cy="191.6" rx="6.4" ry="5.6"/>
<ellipse cx="24.9" cy="212.8" rx="6.4" ry="5.6"/>
<ellipse cx="17.4" cy="216.5" rx="4.8" ry="4"/>
<ellipse cx="46" cy="179.2" rx="3.2" ry="3.2"/>
<ellipse cx="66" cy="197.9" rx="6.4" ry="8" transform="rotate(-30 66 197.9)"/>
<ellipse cx="72.2" cy="180.4" rx="4" ry="5.6"/>
<ellipse cx="46" cy="216.5" rx="5.6" ry="4.8"/>
<ellipse cx="44.8" cy="225.2" rx="7.2" ry="5.6"/>
<ellipse cx="57.2" cy="210.3" rx="4.8" ry="4.8"/>
<ellipse cx="58.5" cy="220.3" rx="4.8" ry="4"/>
<ellipse cx="73.4" cy="219" rx="4.8" ry="4"/>
<ellipse cx="79.6" cy="225.2" rx="8" ry="4"/>
<ellipse cx="87.1" cy="215.3" rx="4" ry="4.8"/>
<ellipse cx="105.8" cy="199.1" rx="6.4" ry="4.8"/>
<ellipse cx="117" cy="197.9" rx="4" ry="4"/>
<ellipse cx="108.3" cy="219" rx="6.4" ry="6.4"/>
<ellipse cx="122" cy="225.2" rx="4.8" ry="4"/>
<ellipse cx="130.7" cy="238.9" rx="4.8" ry="4.8"/>
<ellipse cx="77.2" cy="240.2" rx="5.6" ry="6.4"/>
<ellipse cx="98.3" cy="238.9" rx="4.8" ry="4"/>
<ellipse cx="107" cy="242.7" rx="7.2" ry="4"/>
<ellipse cx="46" cy="236.4" rx="6.4" ry="4"/>
<ellipse cx="44.8" cy="245.1" rx="6.4" ry="4"/>
<ellipse cx="21.2" cy="236.4" rx="4" ry="4"/>
<ellipse cx="12.4" cy="238.9" rx="4" ry="3.2"/>
<ellipse cx="74.7" cy="253.9" rx="5.6" ry="4.8"/>
<ellipse cx="74.7" cy="261.8" rx="8" ry="4"/>
<ellipse cx="89.6" cy="263.3" rx="8" ry="4.8"/>
<ellipse cx="10" cy="257.6" rx="5.6" ry="4"/>
<ellipse cx="36.1" cy="268.8" rx="6.4" ry="4"/>
<ellipse cx="33.6" cy="281.2" rx="6.4" ry="3.2"/>
<ellipse cx="59.7" cy="275" rx="5.6" ry="3.2"/>
<ellipse cx="80.9" cy="286.2" rx="4.8" ry="5.6"/>
<ellipse cx="88.4" cy="297.4" rx="5.6" ry="4"/>
<ellipse cx="54.8" cy="307.4" rx="4" ry="4.8"/>
<ellipse cx="36.1" cy="313.6" rx="8" ry="4.8"/>
<ellipse cx="63.5" cy="317.3" rx="6.4" ry="3.2"/>
<ellipse cx="7.5" cy="332.3" rx="4.8" ry="4"/>
<ellipse cx="37.3" cy="332.3" rx="4" ry="4"/>
<ellipse cx="74.7" cy="338.5" rx="8" ry="5.6" transform="rotate(20 74.7 338.5)"/>
<ellipse cx="6.2" cy="343.5" rx="4.8" ry="4.8"/>
<ellipse cx="32.4" cy="345.9" rx="6.4" ry="4.8"/>
<ellipse cx="109.5" cy="332.3" rx="8" ry="4" transform="rotate(15 109.5 332.3)"/>
<ellipse cx="103.3" cy="355.9" rx="4" ry="6.4"/>
<ellipse cx="125.7" cy="345.9" rx="4" ry="5.6"/>
<ellipse cx="143.1" cy="348.4" rx="4.8" ry="4"/>
<ellipse cx="120.7" cy="363.4" rx="4" ry="4.8"/>
<ellipse cx="129.4" cy="308.6" rx="4" ry="5.6"/>
<ellipse cx="134.4" cy="128.2" rx="5.6" ry="5.6"/>
<ellipse cx="143.1" cy="136.9" rx="5.6" ry="4"/>
<ellipse cx="129.4" cy="144.4" rx="4.8" ry="4"/>
<ellipse cx="171.7" cy="159.3" rx="4.8" ry="4"/>
<ellipse cx="181.7" cy="73.4" rx="4.8" ry="4.8"/>
<ellipse cx="140.6" cy="73.4" rx="5.6" ry="4.8"/>
<ellipse cx="148.1" cy="179.2" rx="5.6" ry="7.2"/>
<ellipse cx="199.1" cy="182.9" rx="4.8" ry="4"/>
<ellipse cx="186.7" cy="194.1" rx="4.8" ry="4.8"/>
<ellipse cx="195.4" cy="205.3" rx="4.8" ry="6.4"/>
<ellipse cx="212.8" cy="213.5" rx="6.4" ry="6.4"/>
<ellipse cx="217.8" cy="194.1" rx="4" ry="4.8"/>
<ellipse cx="229" cy="192.9" rx="4" ry="4"/>
<ellipse cx="240.2" cy="197.9" rx="5.6" ry="5.6"/>
<ellipse cx="230.2" cy="171.7" rx="5.6" ry="8" transform="rotate(-20 230.2 171.7)"/>
<ellipse cx="235.2" cy="133.2" rx="4" ry="5.6"/>
<ellipse cx="225.2" cy="126.9" rx="4.8" ry="5.6"/>
<ellipse cx="253.9" cy="115.7" rx="6.4" ry="7.2" transform="rotate(20 253.9 115.7)"/>
<ellipse cx="258.8" cy="122" rx="3.2" ry="5.6"/>
<ellipse cx="272.5" cy="131.9" rx="4.8" ry="4.8"/>
<ellipse cx="277.5" cy="126.9" rx="4" ry="5.6"/>
<ellipse cx="262.6" cy="179.2" rx="7.2" ry="8.8"/>
<ellipse cx="255.1" cy="160.5" rx="3.2" ry="5.6"/>
<ellipse cx="200.3" cy="222.7" rx="4.8" ry="4"/>
<ellipse cx="227.7" cy="225.2" rx="4.8" ry="3.2"/>
<ellipse cx="238.9" cy="233.9" rx="5.6" ry="4.8"/>
<ellipse cx="252.6" cy="227.7" rx="4.8" ry="3.2"/>
<ellipse cx="273.8" cy="205.3" rx="5.6" ry="4"/>
<ellipse cx="281.2" cy="212.8" rx="4.8" ry="4"/>
<ellipse cx="294.9" cy="209.1" rx="4.8" ry="4"/>
<ellipse cx="209.1" cy="232.7" rx="4" ry="3.2"/>
<ellipse cx="171.7" cy="241.4" rx="4.8" ry="4.8"/>
<ellipse cx="159.3" cy="247.6" rx="5.6" ry="4.8"/>
<ellipse cx="169.2" cy="253.9" rx="4" ry="4"/>
<ellipse cx="143.1" cy="255.1" rx="6.4" ry="3.2"/>
<ellipse cx="199.1" cy="251.4" rx="3.8" ry="4.8"/>
<ellipse cx="212" cy="270.5" rx="3.2" ry="3.8"/>
<ellipse cx="185.4" cy="267.5" rx="6.4" ry="4"/>
<ellipse cx="171.7" cy="263.8" rx="4.8" ry="3.2"/>
<ellipse cx="171.7" cy="283.7" rx="8" ry="3.2"/>
<ellipse cx="156.8" cy="294.9" rx="9.6" ry="3.2"/>
<ellipse cx="206.6" cy="293.7" rx="9.6" ry="2.4"/>
<ellipse cx="229" cy="298.7" rx="8" ry="3.2"/>
<ellipse cx="207.8" cy="315.6" rx="17.5" ry="4" transform="rotate(-5 207.8 315.6)"/>
<ellipse cx="245.1" cy="321.1" rx="12.7" ry="2.9"/>
<ellipse cx="301.1" cy="323.5" rx="14.3" ry="4" transform="rotate(-8 301.1 323.5)"/>
<ellipse cx="334.7" cy="332.3" rx="9.6" ry="4.8" transform="rotate(-10 334.7 332.3)"/>
<ellipse cx="235.2" cy="245.1" rx="6.4" ry="5.6"/>
<ellipse cx="246.4" cy="247.6" rx="4.8" ry="4"/>
<ellipse cx="266.3" cy="252.6" rx="6.4" ry="4"/>
<ellipse cx="275" cy="252.6" rx="4" ry="4.8"/>
<ellipse cx="292.4" cy="253.9" rx="5.6" ry="7.2" transform="rotate(-20 292.4 253.9)"/>
<ellipse cx="309.9" cy="250.1" rx="5.6" ry="4"/>
<ellipse cx="281.2" cy="233.9" rx="6.4" ry="3.2" transform="rotate(20 281.2 233.9)"/>
<ellipse cx="134.4" cy="33.6" rx="4.8" ry="7.2"/>
<ellipse cx="141.9" cy="34.8" rx="4" ry="6.4"/>
<ellipse cx="372.1" cy="120.7" rx="6.4" ry="6.4"/>
<ellipse cx="328.5" cy="149.3" rx="4" ry="7.2" transform="rotate(20 328.5 149.3)"/>
<ellipse cx="337.2" cy="158" rx="6.4" ry="5.6"/>
<ellipse cx="358.4" cy="170.5" rx="3.2" ry="6.4" transform="rotate(20 358.4 170.5)"/>
<ellipse cx="359.6" cy="192.9" rx="4.8" ry="6.4" transform="rotate(20 359.6 192.9)"/>
<ellipse cx="397" cy="161.8" rx="6.4" ry="5.6"/>
<ellipse cx="394.5" cy="182.9" rx="4" ry="4.8"/>
<ellipse cx="404.4" cy="192.9" rx="4.8" ry="4"/>
<ellipse cx="420.6" cy="226.5" rx="6.4" ry="6.4"/>
<ellipse cx="374.6" cy="261.3" rx="4" ry="4.8"/>
<ellipse cx="400.7" cy="261.3" rx="5.6" ry="3.2"/>
<ellipse cx="350.9" cy="253.9" rx="4" ry="4"/>
<ellipse cx="173" cy="347.2" rx="5.6" ry="7.2"/>
<ellipse cx="217.8" cy="348.4" rx="4" ry="6.4"/>
<ellipse cx="206.6" cy="358.4" rx="3.2" ry="4.8"/>
<ellipse cx="258.8" cy="355.9" rx="6.4" ry="4.8" transform="rotate(-20 258.8 355.9)"/>
<ellipse cx="302.4" cy="353.4" rx="6.4" ry="5.6"/>
<ellipse cx="318.6" cy="355.9" rx="4.8" ry="6.4" transform="rotate(20 318.6 355.9)"/>
<ellipse cx="293.7" cy="365.9" rx="5.6" ry="4" transform="rotate(-20 293.7 365.9)"/>
<ellipse cx="331" cy="364.6" rx="4.8" ry="5.6"/>
<ellipse cx="311.1" cy="370.8" rx="4.8" ry="4"/>
<ellipse cx="221.5" cy="375.8" rx="3.2" ry="6.4" transform="rotate(20 221.5 375.8)"/>
<ellipse cx="235.2" cy="373.3" rx="4" ry="5.6"/>
<ellipse cx="176.7" cy="382" rx="4.8" ry="6.4"/>
<ellipse cx="267.5" cy="379.5" rx="4" ry="5.6"/>
<ellipse cx="281.2" cy="388.3" rx="4.8" ry="5.6"/>
<ellipse cx="273.8" cy="400.7" rx="4" ry="4.8"/>
<ellipse cx="308.6" cy="406.9" rx="5.6" ry="4"/>
<ellipse cx="328.5" cy="393.2" rx="4" ry="5.6" transform="rotate(30 328.5 393.2)"/>
<ellipse cx="353.4" cy="370.8" rx="4" ry="4.8"/>
<ellipse cx="338.5" cy="379.5" rx="4" ry="4"/>
<ellipse cx="263.8" cy="415.6" rx="4.8" ry="4"/>
<ellipse cx="219" cy="411.9" rx="4.8" ry="4.8"/>
<ellipse cx="230.2" cy="400.7" rx="3.2" ry="4"/>
<ellipse cx="204.1" cy="387" rx="3.2" ry="4"/>
<ellipse cx="179.2" cy="393.2" rx="4" ry="4.8"/>
<ellipse cx="148.1" cy="387" rx="4" ry="5.6"/>
<ellipse cx="117" cy="384.5" rx="4" ry="4"/>
<ellipse cx="126.9" cy="373.3" rx="4" ry="3.2"/>
<ellipse cx="79.6" cy="365.9" rx="4" ry="3.2"/>
<ellipse cx="105.8" cy="365.9" rx="3.2" ry="3.2"/>
<ellipse cx="362.1" cy="395.7" rx="3.2" ry="4"/>
<ellipse cx="298.7" cy="388.3" rx="3.2" ry="4"/>
<ellipse cx="365.9" cy="353.4" rx="3.2" ry="4"/>
<ellipse cx="385.8" cy="358.4" rx="3.2" ry="3.2"/>
<ellipse cx="348.4" cy="345.9" rx="4" ry="4"/>
<ellipse cx="72.2" cy="94.6" rx="3.5" ry="5.1" transform="rotate(25 72.2 94.6)"/>
<ellipse cx="74.7" cy="100.8" rx="3.5" ry="2.9"/>
<ellipse cx="49.8" cy="103.3" rx="4.5" ry="4"/>
<ellipse cx="251.4" cy="57.2" rx="4.5" ry="7.2" transform="rotate(25 251.4 57.2)"/>
</g>
<g fill="#20e620" filter="url(#rg)" style="mix-blend-mode:screen" opacity="0.35">
<ellipse cx="95.8" cy="59" rx="5.6" ry="3.9" opacity="0.8"/>
<ellipse cx="181.2" cy="72.7" rx="3.9" ry="5.6" opacity="0.9"/>
<ellipse cx="251.9" cy="118" rx="5.8" ry="6.3" opacity="0.95"/>
<ellipse cx="146.8" cy="136.1" rx="4.5" ry="3.4" opacity="0.8"/>
<ellipse cx="150.6" cy="176" rx="5.2" ry="7.8" opacity="0.95"/>
<ellipse cx="156.3" cy="163.5" rx="1.3" ry="4.5" opacity="0.7"/>
<ellipse cx="263.3" cy="180.2" rx="9.5" ry="10.1" opacity="0.95"/>
<ellipse cx="276.3" cy="185.2" rx="6.7" ry="3.4" opacity="0.85"/>
<ellipse cx="270" cy="189.6" rx="5.6" ry="3.9" opacity="0.8"/>
<ellipse cx="313.1" cy="167.7" rx="6.2" ry="6.7" opacity="0.95"/>
<ellipse cx="334.7" cy="163.5" rx="7.8" ry="6.7" opacity="0.95"/>
<ellipse cx="329.8" cy="172.2" rx="4.5" ry="2.8" opacity="0.8"/>
<ellipse cx="358.4" cy="193.4" rx="6.2" ry="7.3" opacity="0.95"/>
<ellipse cx="395.7" cy="182.2" rx="4.5" ry="7.8" opacity="0.9"/>
<ellipse cx="199.1" cy="207.1" rx="5" ry="6.2" opacity="0.9"/>
<ellipse cx="214" cy="212" rx="4.5" ry="6.7" opacity="0.9"/>
<ellipse cx="273.8" cy="205.8" rx="4.7" ry="4.5" opacity="0.9"/>
<ellipse cx="284.2" cy="214.5" rx="5.8" ry="4" opacity="0.9"/>
<ellipse cx="199.1" cy="223.2" rx="5.8" ry="5.6" opacity="0.9"/>
<ellipse cx="238.9" cy="234.4" rx="6.9" ry="5" opacity="0.9"/>
<ellipse cx="200.3" cy="253.1" rx="8.1" ry="7.4" opacity="0.95"/>
<ellipse cx="215.3" cy="258.1" rx="4.5" ry="3.4" opacity="0.7"/>
<ellipse cx="420.6" cy="228.2" rx="7.8" ry="5.6" opacity="0.9"/>
<ellipse cx="403.2" cy="258.1" rx="9.2" ry="7.8" opacity="1.0"/>
<ellipse cx="408.2" cy="246.9" rx="3.4" ry="4.5" opacity="0.9"/>
<ellipse cx="166.7" cy="284.2" rx="10.8" ry="2.9" opacity="0.95"/>
<ellipse cx="74.7" cy="340.2" rx="5.6" ry="3.9" opacity="0.45"/>
<ellipse cx="174.2" cy="347.7" rx="5.6" ry="5.6" opacity="0.5"/>
<ellipse cx="104.5" cy="358.9" rx="3.9" ry="5.6" opacity="0.45"/>
<ellipse cx="129.4" cy="385" rx="6.2" ry="4.5" opacity="0.5"/>
<ellipse cx="424.3" cy="426.6" rx="6.2" ry="4.5" opacity="0.3"/>
<ellipse cx="221.5" cy="373.8" rx="3.4" ry="3.4" opacity="0.45"/>
<ellipse cx="235.2" cy="372.6" rx="3.4" ry="2.8" opacity="0.45"/>
<ellipse cx="318.6" cy="353.9" rx="3.4" ry="2.8" opacity="0.4"/>
<ellipse cx="350.9" cy="371.3" rx="3.9" ry="3.4" opacity="0.45"/>
<ellipse cx="161.8" cy="297.9" rx="6.7" ry="4.5" opacity="0.4"/>
<ellipse cx="139.4" cy="306.6" rx="4.5" ry="4.5" opacity="0.35"/>
<ellipse cx="293.7" cy="284.2" rx="3.4" ry="2.8" opacity="0.5"/>
<ellipse cx="281.2" cy="251.9" rx="4.5" ry="2.8" opacity="0.4"/>
<ellipse cx="224" cy="256.8" rx="3.4" ry="3.4" opacity="0.35"/>
<ellipse cx="430.6" cy="324" rx="2.2" ry="4.5" opacity="0.4"/>
</g>
<g fill="#ff1020" filter="url(#rg)" style="mix-blend-mode:screen" opacity="0.4">
<ellipse cx="199.1" cy="251.9" rx="7.4" ry="6.7" opacity="1.0"/>
<ellipse cx="149.3" cy="391.2" rx="3.4" ry="1.6" opacity="0.9"/>
<ellipse cx="189.1" cy="408.2" rx="3.4" ry="1.6" opacity="0.9"/>
<ellipse cx="219" cy="420.1" rx="4.5" ry="1.3" opacity="0.9"/>
<ellipse cx="251.4" cy="425.1" rx="5.6" ry="1.8" opacity="0.9"/>
<ellipse cx="267.5" cy="430.6" rx="3.4" ry="1.3" opacity="0.9"/>
<ellipse cx="57.2" cy="368.8" rx="4.5" ry="1.6" opacity="0.8"/>
<ellipse cx="206.6" cy="260.1" rx="4.5" ry="2.8" opacity="0.8"/>
<ellipse cx="212.8" cy="270.8" rx="5.4" ry="4.9" opacity="0.9"/>
<ellipse cx="231.5" cy="206.1" rx="5.2" ry="4.7" opacity="0.75"/>
<ellipse cx="263.8" cy="181.2" rx="6.2" ry="5.6" opacity="0.3"/>
<ellipse cx="313.1" cy="167.2" rx="4" ry="4.5" opacity="0.35"/>
<ellipse cx="125.7" cy="383.3" rx="8.4" ry="5.6" opacity="1.0"/>
<ellipse cx="168" cy="378.3" rx="4.7" ry="4.7" opacity="1.0"/>
<ellipse cx="72.2" cy="365.4" rx="7.8" ry="3.1" opacity="0.8"/>
<ellipse cx="85.9" cy="369.6" rx="4.5" ry="2.5" opacity="0.8"/>
<ellipse cx="103.3" cy="384.5" rx="3.4" ry="2.2" opacity="0.7"/>
<ellipse cx="428.1" cy="430.6" rx="3.4" ry="1.7" opacity="0.6"/>
<ellipse cx="53.5" cy="124.4" rx="2.8" ry="3.4" opacity="0.35"/>
<ellipse cx="27.4" cy="100.8" rx="3.1" ry="3.4" opacity="0.35"/>
<ellipse cx="68.4" cy="99.6" rx="2.8" ry="2.2" opacity="0.35"/>
<ellipse cx="174.2" cy="87.1" rx="2.8" ry="1.3" opacity="0.4"/>
<ellipse cx="166.7" cy="115.7" rx="2.8" ry="1.7" opacity="0.3"/>
<ellipse cx="252.6" cy="122" rx="1.7" ry="1.7" opacity="0.4"/>
<ellipse cx="286.2" cy="98.3" rx="2.2" ry="1.1" opacity="0.3"/>
<ellipse cx="125.7" cy="41.1" rx="1.1" ry="1.1" opacity="0.5"/>
</g>
<ellipse cx="202.8" cy="257.6" rx="5" ry="3" fill="#ffe070" filter="url(#b1)"/>
</g>
<rect x="0.5" y="0.5" width="432.4" height="432.4" fill="none" stroke="#333" stroke-width="1"/>
<path d="M273.8 210.9Q293.7 222.1 303.6 230.8Q313.6 239.5 323.5 247Q333.5 254.5 345.9 260.1Q358.4 265.7 373.3 270.6Q388.3 275.6 399.5 280Q410.7 284.3 417.5 288.7L424.3 293" fill="none" stroke="#fff" stroke-width="2.5" stroke-dasharray="8.5 5"/>
<path d="M100.8 288.1Q131.9 295.5 139.4 302.4Q146.8 309.2 153.1 316.7Q159.3 324.1 165.5 327.3Q171.7 330.4 191.6 330.4Q211.5 330.4 230.2 334.1Q248.9 337.8 277.5 340.9Q306.1 344.1 319.8 349Q333.5 354 350.9 362.7Q368.3 371.4 380.8 380.8Q393.2 390.1 401.9 399.4Q410.7 408.8 418.1 412.5L425.6 416.2" fill="none" stroke="#fff" stroke-width="2.5" stroke-dasharray="8.5 5"/>
<path d="M132.7 254.1L134.8 259.8L140.8 260L136.1 263.8L137.7 269.6L132.7 266.3L127.6 269.6L129.2 263.8L124.5 260L130.5 259.8Z" fill="#fff"/>
<path d="M200.3 288.6V264.9" stroke="#fff" stroke-width="2.4" fill="none"/>
<path d="M193.1 273.4L200.3 261.9L207.5 273.4L200.3 269.4Z" fill="#fff"/>
<rect x="-1.3" y="-6.7" width="96.4" height="85.7" fill="#fdfdfd"/>
<text x="47.6" y="19.0" fill="#1fe01f" text-anchor="middle">CD11C</text>
<text x="47.3" y="44.0" fill="#ff1a1a" text-anchor="middle">FSCN1</text>
<text x="48.3" y="69.6" fill="#1a80ff" text-anchor="middle">DAPI</text>
<text x="421.7" y="28.9" fill="#fff" text-anchor="end">Adventitia</text>
<text x="145.3" y="153.9" fill="#fff">Aneurysm</text>
<text x="297.7" y="313.4" fill="#fff">Media</text>
<text x="27.1" y="418.4" fill="#fff">Lumen</text>
<text x="427.6" y="407" fill="#e8202a" text-anchor="end">50 µm</text>
<path d="M373.8 417.6H408.2" stroke="#e8202a" stroke-width="2.4"/>
</g>
</g>
</svg></body></html>
